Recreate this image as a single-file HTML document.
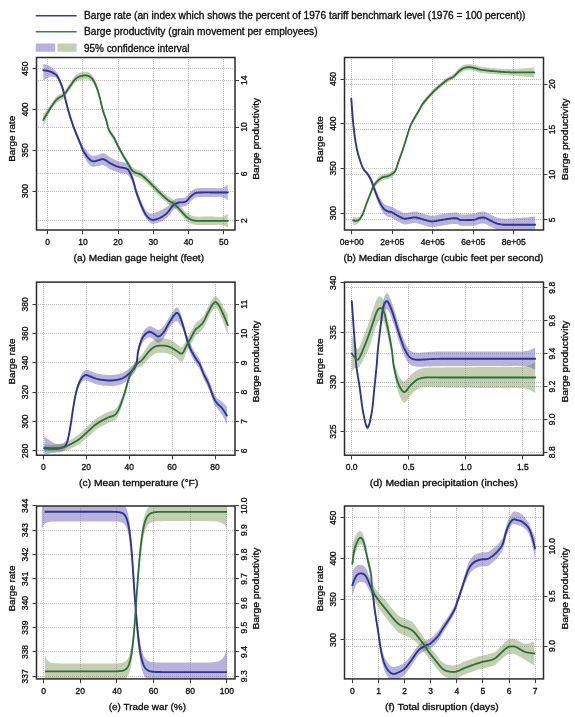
<!DOCTYPE html>
<html><head><meta charset="utf-8"><style>
html,body{margin:0;padding:0;background:#fff;}
svg{display:block;will-change:transform;}
text{font-family:"Liberation Sans", sans-serif;fill:#0a0a0a;stroke:#0a0a0a;stroke-width:0.3px;}
</style></head><body>
<svg width="575" height="717" viewBox="0 0 575 717"><rect width="575" height="717" fill="#fff"/><path d="M35.7,15.7 H76.6" stroke="#3c3f8e" stroke-width="1.5"/><path d="M35.7,31.8 H76.6" stroke="#3d7a55" stroke-width="1.5"/><rect x="35.7" y="43.5" width="19.5" height="8.3" fill="#b8b2dd"/><rect x="57.5" y="43.5" width="19.1" height="8.3" fill="#c3ceb3"/><text x="84" y="18.9" font-size="10.1" textLength="441.5" lengthAdjust="spacingAndGlyphs">Barge rate (an index which shows the percent of 1976 tariff benchmark level (1976 = 100 percent))</text><text x="84" y="35.1" font-size="10.1" textLength="233.6" lengthAdjust="spacingAndGlyphs">Barge productivity (grain movement per employees)</text><text x="84" y="51.5" font-size="10.1" textLength="105.5" lengthAdjust="spacingAndGlyphs">95% confidence interval</text><clipPath id="clipa"><rect x="36.5" y="57.5" width="198.5" height="172.5"/></clipPath><path d="M47.5,59.0 V228.0 M82.5,59.0 V228.0 M118.5,59.0 V228.0 M153.5,59.0 V228.0 M188.5,59.0 V228.0 M223.5,59.0 V228.0 M38.0,68.5 H233.0 M38.0,109.5 H233.0 M38.0,150.5 H233.0 M38.0,191.5 H233.0 M38.0,80.5 H233.0 M38.0,127.5 H233.0 M38.0,173.5 H233.0 M38.0,220.5 H233.0" stroke="#bebebe" stroke-width="1" stroke-dasharray="1 1" fill="none"/><g clip-path="url(#clipa)"><path d="M43.30,63.70 L43.49,63.76 L43.72,63.82 L44.00,63.89 L44.31,63.98 L44.64,64.08 L45.00,64.18 L45.37,64.30 L45.75,64.42 L46.13,64.55 L46.50,64.70 L46.88,64.86 L47.27,65.02 L47.69,65.20 L48.11,65.39 L48.54,65.59 L48.97,65.79 L49.39,66.01 L49.81,66.23 L50.21,66.46 L50.60,66.70 L50.97,66.94 L51.32,67.19 L51.67,67.44 L52.01,67.70 L52.34,67.98 L52.67,68.26 L52.99,68.55 L53.32,68.85 L53.66,69.17 L54.00,69.50 L54.34,69.82 L54.67,70.11 L55.00,70.39 L55.33,70.68 L55.66,70.99 L56.00,71.34 L56.35,71.75 L56.72,72.23 L57.10,72.81 L57.50,73.50 L57.94,74.31 L58.41,75.24 L58.90,76.26 L59.41,77.36 L59.93,78.52 L60.45,79.71 L60.95,80.93 L61.43,82.14 L61.89,83.34 L62.30,84.50 L62.67,85.63 L63.00,86.75 L63.30,87.87 L63.59,88.99 L63.86,90.12 L64.12,91.28 L64.39,92.45 L64.67,93.66 L64.97,94.91 L65.30,96.20 L65.65,97.54 L66.01,98.94 L66.38,100.37 L66.75,101.84 L67.14,103.33 L67.53,104.84 L67.94,106.34 L68.35,107.85 L68.77,109.34 L69.20,110.80 L69.63,112.24 L70.07,113.65 L70.51,115.06 L70.95,116.46 L71.41,117.86 L71.89,119.28 L72.38,120.71 L72.89,122.17 L73.43,123.66 L74.00,125.20 L74.63,126.84 L75.32,128.61 L76.07,130.47 L76.84,132.37 L77.62,134.26 L78.38,136.09 L79.12,137.83 L79.79,139.43 L80.39,140.83 L80.90,142.00 L81.30,142.92 L81.63,143.63 L81.89,144.16 L82.09,144.55 L82.26,144.84 L82.40,145.05 L82.53,145.23 L82.66,145.41 L82.82,145.62 L83.00,145.90 L83.20,146.21 L83.38,146.48 L83.56,146.72 L83.74,146.95 L83.91,147.18 L84.10,147.40 L84.29,147.64 L84.51,147.89 L84.74,148.18 L85.00,148.50 L85.29,148.87 L85.59,149.27 L85.91,149.71 L86.25,150.16 L86.61,150.62 L86.97,151.09 L87.34,151.55 L87.72,152.00 L88.11,152.42 L88.50,152.80 L88.90,153.17 L89.30,153.54 L89.72,153.92 L90.14,154.28 L90.57,154.62 L91.01,154.94 L91.46,155.22 L91.90,155.46 L92.35,155.66 L92.80,155.80 L93.25,155.88 L93.70,155.90 L94.16,155.87 L94.62,155.81 L95.09,155.71 L95.56,155.58 L96.03,155.44 L96.52,155.29 L97.00,155.14 L97.50,155.00 L98.01,154.84 L98.55,154.63 L99.10,154.40 L99.65,154.15 L100.21,153.89 L100.77,153.65 L101.31,153.44 L101.83,153.27 L102.33,153.15 L102.80,153.10 L103.23,153.12 L103.64,153.19 L104.01,153.31 L104.38,153.47 L104.72,153.66 L105.07,153.88 L105.41,154.10 L105.76,154.34 L106.12,154.57 L106.50,154.80 L106.88,155.02 L107.24,155.26 L107.58,155.50 L107.93,155.75 L108.29,156.01 L108.67,156.29 L109.09,156.57 L109.54,156.87 L110.04,157.18 L110.60,157.50 L111.24,157.85 L111.96,158.25 L112.74,158.67 L113.56,159.11 L114.41,159.55 L115.26,159.98 L116.11,160.40 L116.92,160.78 L117.69,161.12 L118.40,161.40 L119.05,161.62 L119.68,161.78 L120.28,161.90 L120.85,161.99 L121.41,162.06 L121.94,162.12 L122.47,162.18 L122.99,162.25 L123.49,162.36 L124.00,162.50 L124.50,162.64 L124.97,162.73 L125.43,162.81 L125.88,162.89 L126.33,162.99 L126.76,163.15 L127.19,163.37 L127.62,163.69 L128.06,164.13 L128.50,164.70 L128.95,165.43 L129.41,166.30 L129.87,167.29 L130.33,168.37 L130.79,169.52 L131.24,170.72 L131.68,171.94 L132.10,173.16 L132.51,174.35 L132.90,175.50 L133.26,176.61 L133.58,177.73 L133.88,178.85 L134.16,179.98 L134.43,181.11 L134.71,182.26 L134.99,183.42 L135.30,184.59 L135.63,185.79 L136.00,187.00 L136.40,188.25 L136.83,189.55 L137.28,190.87 L137.74,192.22 L138.22,193.58 L138.71,194.92 L139.20,196.25 L139.70,197.55 L140.20,198.80 L140.70,200.00 L141.20,201.17 L141.71,202.35 L142.22,203.51 L142.74,204.66 L143.27,205.76 L143.80,206.82 L144.32,207.82 L144.85,208.74 L145.38,209.57 L145.90,210.30 L146.42,210.93 L146.94,211.47 L147.46,211.92 L147.98,212.31 L148.50,212.62 L149.02,212.88 L149.54,213.09 L150.06,213.26 L150.58,213.39 L151.10,213.50 L151.62,213.56 L152.12,213.55 L152.63,213.49 L153.13,213.38 L153.63,213.22 L154.14,213.04 L154.66,212.84 L155.19,212.63 L155.74,212.41 L156.30,212.20 L156.89,211.98 L157.51,211.74 L158.14,211.48 L158.79,211.21 L159.45,210.92 L160.11,210.62 L160.76,210.32 L161.39,210.01 L162.01,209.70 L162.60,209.40 L163.16,209.11 L163.71,208.83 L164.24,208.55 L164.76,208.27 L165.27,207.98 L165.77,207.68 L166.27,207.36 L166.78,207.01 L167.28,206.62 L167.80,206.20 L168.32,205.72 L168.84,205.17 L169.36,204.57 L169.88,203.94 L170.40,203.29 L170.92,202.66 L171.44,202.04 L171.96,201.46 L172.48,200.94 L173.00,200.50 L173.51,200.13 L174.01,199.80 L174.50,199.52 L174.98,199.27 L175.47,199.06 L175.98,198.86 L176.49,198.69 L177.03,198.52 L177.60,198.36 L178.20,198.20 L178.85,198.07 L179.54,197.99 L180.27,197.95 L181.03,197.93 L181.79,197.91 L182.56,197.88 L183.32,197.80 L184.05,197.68 L184.75,197.48 L185.40,197.20 L186.01,196.81 L186.58,196.32 L187.13,195.75 L187.66,195.13 L188.18,194.47 L188.68,193.81 L189.18,193.16 L189.68,192.54 L190.18,191.98 L190.70,191.50 L191.21,191.08 L191.69,190.69 L192.16,190.33 L192.62,189.99 L193.09,189.68 L193.57,189.40 L194.09,189.14 L194.64,188.90 L195.24,188.69 L195.90,188.50 L196.63,188.34 L197.42,188.22 L198.25,188.12 L199.13,188.05 L200.03,188.01 L200.95,187.97 L201.88,187.95 L202.80,187.94 L203.71,187.92 L204.60,187.90 L205.47,187.88 L206.33,187.88 L207.19,187.88 L208.06,187.89 L208.92,187.91 L209.78,187.93 L210.65,187.96 L211.53,187.98 L212.41,187.99 L213.30,188.00 L214.22,188.02 L215.17,188.06 L216.15,188.12 L217.13,188.18 L218.11,188.22 L219.08,188.26 L220.01,188.26 L220.90,188.23 L221.74,188.14 L222.50,188.00 L223.21,187.78 L223.89,187.47 L224.54,187.10 L225.16,186.68 L225.72,186.25 L226.25,185.82 L226.72,185.40 L227.14,185.03 L227.50,184.72 L227.80,184.50 L227.80,200.50 L227.50,200.28 L227.14,199.97 L226.72,199.60 L226.25,199.18 L225.72,198.75 L225.16,198.32 L224.54,197.90 L223.89,197.53 L223.21,197.22 L222.50,197.00 L221.74,196.86 L220.90,196.78 L220.01,196.75 L219.08,196.75 L218.11,196.79 L217.13,196.84 L216.15,196.90 L215.17,196.95 L214.22,196.99 L213.30,197.00 L212.41,196.99 L211.53,196.98 L210.65,196.96 L209.78,196.93 L208.92,196.91 L208.06,196.89 L207.19,196.88 L206.33,196.88 L205.47,196.88 L204.60,196.90 L203.71,196.92 L202.80,196.92 L201.88,196.92 L200.95,196.93 L200.03,196.94 L199.13,196.98 L198.25,197.05 L197.42,197.15 L196.63,197.30 L195.90,197.50 L195.24,197.76 L194.64,198.07 L194.09,198.43 L193.57,198.82 L193.09,199.24 L192.62,199.69 L192.16,200.14 L191.69,200.60 L191.21,201.06 L190.70,201.50 L190.18,201.96 L189.68,202.45 L189.18,202.98 L188.68,203.51 L188.18,204.04 L187.66,204.55 L187.13,205.04 L186.58,205.49 L186.01,205.88 L185.40,206.20 L184.75,206.44 L184.05,206.60 L183.32,206.70 L182.56,206.76 L181.79,206.79 L181.03,206.81 L180.27,206.85 L179.54,206.91 L178.85,207.02 L178.20,207.20 L177.60,207.42 L177.03,207.67 L176.49,207.93 L175.98,208.22 L175.47,208.53 L174.98,208.86 L174.50,209.22 L174.01,209.62 L173.51,210.04 L173.00,210.50 L172.48,211.01 L171.96,211.59 L171.44,212.21 L170.92,212.87 L170.40,213.54 L169.88,214.22 L169.36,214.90 L168.84,215.54 L168.32,216.15 L167.80,216.70 L167.28,217.21 L166.78,217.70 L166.27,218.17 L165.77,218.62 L165.27,219.04 L164.76,219.45 L164.24,219.84 L163.71,220.21 L163.16,220.57 L162.60,220.90 L162.01,221.22 L161.39,221.51 L160.76,221.79 L160.11,222.05 L159.45,222.29 L158.79,222.52 L158.14,222.72 L157.51,222.90 L156.89,223.06 L156.30,223.20 L155.74,223.34 L155.19,223.48 L154.66,223.61 L154.14,223.73 L153.63,223.82 L153.13,223.87 L152.63,223.88 L152.12,223.82 L151.62,223.70 L151.10,223.50 L150.58,223.23 L150.06,222.89 L149.54,222.50 L149.02,222.06 L148.50,221.56 L147.98,221.01 L147.46,220.41 L146.94,219.75 L146.42,219.05 L145.90,218.30 L145.38,217.49 L144.85,216.61 L144.32,215.67 L143.80,214.68 L143.27,213.64 L142.74,212.56 L142.22,211.45 L141.71,210.31 L141.20,209.16 L140.70,208.00 L140.20,206.80 L139.70,205.53 L139.20,204.22 L138.71,202.87 L138.22,201.51 L137.74,200.15 L137.28,198.80 L136.83,197.48 L136.40,196.21 L136.00,195.00 L135.63,193.84 L135.30,192.71 L134.99,191.61 L134.71,190.54 L134.43,189.49 L134.16,188.46 L133.88,187.45 L133.58,186.45 L133.26,185.47 L132.90,184.50 L132.51,183.52 L132.10,182.53 L131.68,181.53 L131.24,180.54 L130.79,179.58 L130.33,178.66 L129.87,177.80 L129.41,177.01 L128.95,176.31 L128.50,175.70 L128.06,175.21 L127.62,174.82 L127.19,174.52 L126.76,174.29 L126.33,174.12 L125.88,173.98 L125.43,173.87 L124.97,173.76 L124.50,173.65 L124.00,173.50 L123.49,173.35 L122.99,173.24 L122.47,173.15 L121.94,173.07 L121.41,172.99 L120.85,172.92 L120.28,172.83 L119.68,172.72 L119.05,172.58 L118.40,172.40 L117.69,172.18 L116.92,171.93 L116.11,171.66 L115.26,171.36 L114.41,171.05 L113.56,170.73 L112.74,170.41 L111.96,170.10 L111.24,169.79 L110.60,169.50 L110.04,169.22 L109.54,168.93 L109.09,168.64 L108.67,168.36 L108.29,168.08 L107.93,167.80 L107.58,167.53 L107.24,167.27 L106.88,167.03 L106.50,166.80 L106.12,166.58 L105.76,166.35 L105.41,166.13 L105.07,165.92 L104.72,165.73 L104.38,165.54 L104.01,165.39 L103.64,165.26 L103.23,165.16 L102.80,165.10 L102.33,165.09 L101.83,165.12 L101.31,165.18 L100.77,165.28 L100.21,165.39 L99.65,165.52 L99.10,165.66 L98.55,165.78 L98.01,165.90 L97.50,166.00 L97.00,166.10 L96.52,166.23 L96.03,166.37 L95.56,166.51 L95.09,166.64 L94.62,166.76 L94.16,166.84 L93.70,166.88 L93.25,166.87 L92.80,166.80 L92.35,166.66 L91.90,166.48 L91.46,166.25 L91.01,165.98 L90.57,165.68 L90.14,165.35 L89.72,164.99 L89.30,164.61 L88.90,164.21 L88.50,163.80 L88.11,163.36 L87.72,162.86 L87.34,162.33 L86.97,161.76 L86.61,161.19 L86.25,160.61 L85.91,160.04 L85.59,159.49 L85.29,158.97 L85.00,158.50 L84.74,158.09 L84.51,157.72 L84.29,157.40 L84.10,157.10 L83.91,156.80 L83.74,156.50 L83.56,156.17 L83.38,155.80 L83.20,155.39 L83.00,154.90 L82.82,154.39 L82.66,153.90 L82.53,153.40 L82.40,152.87 L82.26,152.30 L82.09,151.66 L81.89,150.93 L81.63,150.09 L81.30,149.12 L80.90,148.00 L80.39,146.68 L79.79,145.17 L79.12,143.51 L78.38,141.73 L77.62,139.87 L76.84,137.97 L76.07,136.08 L75.32,134.23 L74.63,132.45 L74.00,130.80 L73.43,129.25 L72.89,127.74 L72.38,126.28 L71.89,124.85 L71.41,123.44 L70.95,122.04 L70.51,120.65 L70.07,119.25 L69.63,117.84 L69.20,116.40 L68.77,114.94 L68.35,113.45 L67.94,111.94 L67.53,110.44 L67.14,108.93 L66.75,107.44 L66.38,105.97 L66.01,104.54 L65.65,103.14 L65.30,101.80 L64.97,100.51 L64.67,99.26 L64.39,98.05 L64.12,96.87 L63.86,95.71 L63.59,94.58 L63.30,93.45 L63.00,92.34 L62.67,91.22 L62.30,90.10 L61.89,88.95 L61.43,87.75 L60.95,86.53 L60.45,85.31 L59.93,84.11 L59.41,82.96 L58.90,81.89 L58.41,80.90 L57.94,80.03 L57.50,79.30 L57.10,78.72 L56.72,78.26 L56.35,77.92 L56.00,77.67 L55.66,77.49 L55.33,77.37 L55.00,77.28 L54.67,77.20 L54.34,77.11 L54.00,77.00 L53.66,76.88 L53.32,76.78 L52.99,76.69 L52.67,76.63 L52.34,76.58 L52.01,76.56 L51.67,76.56 L51.32,76.58 L50.97,76.63 L50.60,76.70 L50.21,76.81 L49.81,76.95 L49.39,77.13 L48.97,77.33 L48.54,77.56 L48.11,77.79 L47.69,78.03 L47.27,78.26 L46.88,78.49 L46.50,78.70 L46.13,78.91 L45.75,79.13 L45.37,79.36 L45.00,79.60 L44.64,79.83 L44.31,80.04 L44.00,80.25 L43.72,80.43 L43.49,80.58 L43.30,80.70 Z" fill="#7165bb" fill-opacity="0.5"/><path d="M43.30,113.80 L43.49,113.60 L43.72,113.36 L44.00,113.08 L44.31,112.76 L44.64,112.41 L45.00,112.03 L45.37,111.62 L45.75,111.20 L46.13,110.75 L46.50,110.30 L46.87,109.82 L47.25,109.32 L47.64,108.79 L48.04,108.24 L48.44,107.66 L48.86,107.07 L49.28,106.47 L49.71,105.85 L50.15,105.23 L50.60,104.60 L51.06,103.94 L51.54,103.24 L52.04,102.51 L52.55,101.76 L53.06,101.01 L53.57,100.27 L54.08,99.55 L54.57,98.88 L55.05,98.25 L55.50,97.70 L55.93,97.21 L56.36,96.77 L56.77,96.36 L57.18,96.00 L57.58,95.66 L57.96,95.36 L58.33,95.07 L58.70,94.80 L59.05,94.55 L59.40,94.30 L59.73,94.08 L60.04,93.90 L60.34,93.75 L60.63,93.63 L60.91,93.52 L61.18,93.41 L61.45,93.29 L61.73,93.16 L62.01,93.00 L62.30,92.80 L62.59,92.58 L62.86,92.37 L63.14,92.16 L63.41,91.93 L63.68,91.68 L63.97,91.41 L64.26,91.10 L64.58,90.75 L64.93,90.35 L65.30,89.90 L65.70,89.38 L66.13,88.81 L66.57,88.19 L67.04,87.53 L67.52,86.84 L68.01,86.12 L68.52,85.37 L69.04,84.62 L69.57,83.86 L70.10,83.10 L70.64,82.31 L71.18,81.45 L71.73,80.55 L72.29,79.63 L72.86,78.71 L73.45,77.81 L74.06,76.95 L74.68,76.14 L75.33,75.42 L76.00,74.80 L76.71,74.27 L77.47,73.79 L78.25,73.38 L79.06,73.02 L79.89,72.71 L80.71,72.44 L81.53,72.22 L82.32,72.05 L83.08,71.91 L83.80,71.80 L84.49,71.73 L85.16,71.70 L85.81,71.71 L86.44,71.76 L87.06,71.85 L87.66,71.99 L88.25,72.17 L88.82,72.40 L89.37,72.67 L89.90,73.00 L90.41,73.37 L90.89,73.77 L91.35,74.21 L91.79,74.70 L92.21,75.24 L92.63,75.83 L93.04,76.47 L93.45,77.18 L93.87,77.96 L94.30,78.80 L94.73,79.71 L95.17,80.70 L95.60,81.74 L96.03,82.85 L96.46,84.02 L96.89,85.24 L97.32,86.51 L97.75,87.83 L98.17,89.19 L98.60,90.60 L99.03,92.10 L99.46,93.73 L99.89,95.46 L100.33,97.24 L100.76,99.06 L101.18,100.86 L101.60,102.62 L102.01,104.30 L102.41,105.88 L102.80,107.30 L103.18,108.58 L103.54,109.74 L103.90,110.82 L104.25,111.82 L104.59,112.77 L104.92,113.68 L105.25,114.59 L105.57,115.49 L105.89,116.42 L106.20,117.40 L106.49,118.41 L106.76,119.44 L107.01,120.48 L107.26,121.51 L107.50,122.54 L107.75,123.56 L108.02,124.56 L108.31,125.54 L108.63,126.49 L109.00,127.40 L109.41,128.26 L109.87,129.08 L110.36,129.87 L110.87,130.63 L111.40,131.37 L111.94,132.11 L112.47,132.85 L113.00,133.60 L113.51,134.39 L114.00,135.20 L114.46,136.04 L114.90,136.89 L115.33,137.75 L115.75,138.62 L116.16,139.51 L116.58,140.40 L117.01,141.31 L117.45,142.23 L117.91,143.16 L118.40,144.10 L118.91,145.07 L119.45,146.07 L120.00,147.09 L120.56,148.13 L121.14,149.17 L121.72,150.21 L122.30,151.24 L122.87,152.26 L123.44,153.25 L124.00,154.20 L124.56,155.15 L125.15,156.10 L125.74,157.06 L126.34,158.01 L126.92,158.94 L127.49,159.83 L128.04,160.67 L128.54,161.46 L129.00,162.17 L129.40,162.80 L129.74,163.34 L130.01,163.79 L130.24,164.17 L130.44,164.49 L130.60,164.76 L130.75,165.00 L130.89,165.22 L131.04,165.44 L131.21,165.66 L131.40,165.90 L131.61,166.15 L131.82,166.38 L132.02,166.60 L132.23,166.80 L132.44,167.00 L132.66,167.19 L132.88,167.37 L133.11,167.55 L133.35,167.73 L133.60,167.90 L133.86,168.07 L134.11,168.23 L134.38,168.39 L134.65,168.54 L134.92,168.68 L135.21,168.82 L135.51,168.97 L135.83,169.11 L136.15,169.25 L136.50,169.40 L136.86,169.54 L137.24,169.66 L137.63,169.76 L138.04,169.87 L138.46,169.98 L138.89,170.11 L139.33,170.25 L139.78,170.43 L140.23,170.64 L140.70,170.90 L141.17,171.20 L141.64,171.52 L142.12,171.86 L142.61,172.24 L143.11,172.64 L143.62,173.07 L144.15,173.53 L144.71,174.02 L145.29,174.54 L145.90,175.10 L146.54,175.70 L147.21,176.35 L147.90,177.03 L148.62,177.75 L149.36,178.49 L150.11,179.26 L150.87,180.04 L151.64,180.83 L152.42,181.62 L153.20,182.40 L153.99,183.20 L154.81,184.03 L155.65,184.88 L156.50,185.74 L157.35,186.61 L158.20,187.48 L159.05,188.33 L159.89,189.15 L160.71,189.95 L161.50,190.70 L162.28,191.43 L163.06,192.14 L163.83,192.84 L164.59,193.52 L165.34,194.18 L166.08,194.81 L166.80,195.41 L167.49,195.98 L168.16,196.51 L168.80,197.00 L169.40,197.43 L169.97,197.79 L170.51,198.10 L171.03,198.36 L171.53,198.61 L172.01,198.86 L172.50,199.11 L172.99,199.39 L173.49,199.72 L174.00,200.10 L174.52,200.54 L175.05,201.01 L175.57,201.51 L176.09,202.03 L176.62,202.57 L177.15,203.12 L177.68,203.69 L178.21,204.26 L178.75,204.83 L179.30,205.40 L179.87,205.99 L180.47,206.62 L181.09,207.28 L181.72,207.95 L182.34,208.62 L182.95,209.27 L183.53,209.89 L184.08,210.46 L184.57,210.97 L185.00,211.40 L185.34,211.74 L185.59,212.01 L185.77,212.21 L185.91,212.36 L186.03,212.48 L186.15,212.59 L186.30,212.70 L186.52,212.82 L186.81,212.99 L187.20,213.20 L187.68,213.47 L188.22,213.78 L188.81,214.12 L189.45,214.48 L190.13,214.84 L190.86,215.20 L191.62,215.53 L192.41,215.84 L193.24,216.10 L194.10,216.30 L195.01,216.44 L196.00,216.54 L197.04,216.61 L198.13,216.64 L199.24,216.64 L200.36,216.64 L201.47,216.62 L202.56,216.60 L203.61,216.59 L204.60,216.60 L205.54,216.61 L206.45,216.62 L207.33,216.62 L208.19,216.62 L209.03,216.62 L209.87,216.61 L210.71,216.61 L211.56,216.60 L212.42,216.60 L213.30,216.60 L214.22,216.61 L215.17,216.64 L216.15,216.69 L217.13,216.73 L218.11,216.78 L219.08,216.80 L220.01,216.81 L220.90,216.78 L221.74,216.71 L222.50,216.60 L223.21,216.42 L223.89,216.17 L224.54,215.88 L225.16,215.55 L225.72,215.20 L226.25,214.85 L226.72,214.52 L227.14,214.23 L227.50,213.98 L227.80,213.80 L227.80,227.80 L227.50,227.62 L227.14,227.37 L226.72,227.08 L226.25,226.75 L225.72,226.40 L225.16,226.05 L224.54,225.72 L223.89,225.43 L223.21,225.18 L222.50,225.00 L221.74,224.89 L220.90,224.82 L220.01,224.79 L219.08,224.80 L218.11,224.83 L217.13,224.87 L216.15,224.91 L215.17,224.96 L214.22,224.99 L213.30,225.00 L212.42,225.00 L211.56,225.00 L210.71,225.01 L209.87,225.01 L209.03,225.02 L208.19,225.02 L207.33,225.02 L206.45,225.02 L205.54,225.01 L204.60,225.00 L203.61,224.99 L202.56,225.00 L201.47,225.02 L200.36,225.04 L199.24,225.04 L198.13,225.04 L197.04,225.01 L196.00,224.94 L195.01,224.84 L194.10,224.70 L193.24,224.50 L192.41,224.25 L191.62,223.95 L190.86,223.63 L190.13,223.28 L189.45,222.92 L188.81,222.57 L188.22,222.22 L187.68,221.89 L187.20,221.60 L186.81,221.35 L186.52,221.14 L186.30,220.95 L186.15,220.78 L186.03,220.61 L185.91,220.41 L185.77,220.19 L185.59,219.92 L185.34,219.60 L185.00,219.20 L184.57,218.72 L184.08,218.16 L183.53,217.54 L182.95,216.88 L182.34,216.18 L181.72,215.47 L181.09,214.77 L180.47,214.07 L179.87,213.41 L179.30,212.80 L178.75,212.22 L178.21,211.63 L177.68,211.06 L177.15,210.50 L176.62,209.94 L176.09,209.41 L175.57,208.89 L175.05,208.40 L174.52,207.94 L174.00,207.50 L173.49,207.12 L172.99,206.79 L172.50,206.51 L172.01,206.26 L171.53,206.01 L171.03,205.76 L170.51,205.50 L169.97,205.19 L169.40,204.83 L168.80,204.40 L168.16,203.91 L167.49,203.38 L166.80,202.81 L166.08,202.21 L165.34,201.58 L164.59,200.92 L163.83,200.24 L163.06,199.54 L162.28,198.83 L161.50,198.10 L160.71,197.35 L159.89,196.55 L159.05,195.73 L158.20,194.88 L157.35,194.01 L156.50,193.14 L155.65,192.28 L154.81,191.43 L153.99,190.60 L153.20,189.80 L152.42,189.02 L151.64,188.23 L150.87,187.44 L150.11,186.66 L149.36,185.89 L148.62,185.15 L147.90,184.43 L147.21,183.75 L146.54,183.10 L145.90,182.50 L145.29,181.94 L144.71,181.42 L144.15,180.93 L143.62,180.47 L143.11,180.04 L142.61,179.64 L142.12,179.26 L141.64,178.92 L141.17,178.60 L140.70,178.30 L140.23,178.04 L139.78,177.83 L139.33,177.65 L138.89,177.51 L138.46,177.38 L138.04,177.27 L137.63,177.16 L137.24,177.06 L136.86,176.94 L136.50,176.80 L136.15,176.65 L135.83,176.52 L135.51,176.38 L135.21,176.25 L134.92,176.12 L134.65,175.98 L134.38,175.83 L134.11,175.67 L133.86,175.49 L133.60,175.30 L133.35,175.09 L133.11,174.87 L132.88,174.64 L132.66,174.40 L132.44,174.15 L132.23,173.89 L132.02,173.61 L131.82,173.32 L131.61,173.02 L131.40,172.70 L131.21,172.39 L131.04,172.09 L130.89,171.79 L130.75,171.49 L130.60,171.16 L130.44,170.80 L130.24,170.40 L130.01,169.94 L129.74,169.41 L129.40,168.80 L129.00,168.10 L128.54,167.31 L128.04,166.46 L127.49,165.54 L126.92,164.59 L126.34,163.60 L125.74,162.59 L125.15,161.58 L124.56,160.58 L124.00,159.60 L123.44,158.62 L122.87,157.62 L122.30,156.60 L121.72,155.57 L121.14,154.53 L120.56,153.50 L120.00,152.47 L119.45,151.46 L118.91,150.47 L118.40,149.50 L117.91,148.56 L117.45,147.63 L117.01,146.71 L116.58,145.80 L116.16,144.91 L115.75,144.02 L115.33,143.15 L114.90,142.29 L114.46,141.44 L114.00,140.60 L113.51,139.79 L113.00,139.00 L112.47,138.25 L111.94,137.51 L111.40,136.77 L110.87,136.03 L110.36,135.27 L109.87,134.48 L109.41,133.66 L109.00,132.80 L108.63,131.89 L108.31,130.94 L108.02,129.96 L107.75,128.96 L107.50,127.94 L107.26,126.91 L107.01,125.88 L106.76,124.84 L106.49,123.81 L106.20,122.80 L105.89,121.82 L105.57,120.89 L105.25,119.99 L104.92,119.08 L104.59,118.17 L104.25,117.22 L103.90,116.22 L103.54,115.14 L103.18,113.98 L102.80,112.70 L102.41,111.27 L102.01,109.69 L101.60,107.99 L101.18,106.21 L100.76,104.39 L100.33,102.57 L99.89,100.78 L99.46,99.07 L99.03,97.46 L98.60,96.00 L98.17,94.65 L97.75,93.37 L97.32,92.14 L96.89,90.97 L96.46,89.86 L96.03,88.80 L95.60,87.81 L95.17,86.88 L94.73,86.01 L94.30,85.20 L93.87,84.46 L93.45,83.80 L93.04,83.21 L92.63,82.68 L92.21,82.20 L91.79,81.77 L91.35,81.39 L90.89,81.03 L90.41,80.71 L89.90,80.40 L89.37,80.12 L88.82,79.86 L88.25,79.64 L87.66,79.46 L87.06,79.31 L86.44,79.20 L85.81,79.14 L85.16,79.11 L84.49,79.13 L83.80,79.20 L83.08,79.31 L82.32,79.46 L81.53,79.66 L80.71,79.89 L79.89,80.17 L79.06,80.49 L78.25,80.85 L77.47,81.26 L76.71,81.71 L76.00,82.20 L75.33,82.76 L74.68,83.39 L74.06,84.09 L73.45,84.83 L72.86,85.61 L72.29,86.41 L71.73,87.21 L71.18,88.00 L70.64,88.77 L70.10,89.50 L69.57,90.22 L69.04,90.95 L68.52,91.70 L68.01,92.44 L67.52,93.17 L67.04,93.88 L66.57,94.56 L66.13,95.20 L65.70,95.78 L65.30,96.30 L64.93,96.75 L64.58,97.15 L64.26,97.50 L63.97,97.81 L63.68,98.08 L63.41,98.33 L63.14,98.56 L62.86,98.77 L62.59,98.98 L62.30,99.20 L62.01,99.40 L61.73,99.56 L61.45,99.69 L61.18,99.81 L60.91,99.92 L60.63,100.03 L60.34,100.15 L60.04,100.30 L59.73,100.48 L59.40,100.70 L59.05,100.95 L58.70,101.20 L58.33,101.47 L57.96,101.76 L57.58,102.06 L57.18,102.40 L56.77,102.76 L56.36,103.17 L55.93,103.61 L55.50,104.10 L55.05,104.64 L54.57,105.24 L54.08,105.89 L53.57,106.57 L53.06,107.28 L52.55,108.01 L52.04,108.76 L51.54,109.51 L51.06,110.26 L50.60,111.00 L50.15,111.73 L49.71,112.47 L49.28,113.21 L48.86,113.96 L48.44,114.72 L48.04,115.49 L47.64,116.27 L47.25,117.06 L46.87,117.87 L46.50,118.70 L46.13,119.59 L45.75,120.56 L45.37,121.59 L45.00,122.64 L44.64,123.68 L44.31,124.69 L44.00,125.62 L43.72,126.46 L43.49,127.16 L43.30,127.70 Z" fill="#698441" fill-opacity="0.4"/><path d="M43.30,70.20 L43.49,70.23 L43.72,70.26 L44.00,70.30 L44.31,70.34 L44.64,70.39 L45.00,70.44 L45.37,70.50 L45.75,70.56 L46.13,70.63 L46.50,70.70 L46.88,70.78 L47.27,70.86 L47.69,70.94 L48.11,71.03 L48.54,71.12 L48.97,71.22 L49.39,71.33 L49.81,71.44 L50.21,71.57 L50.60,71.70 L50.97,71.84 L51.32,71.99 L51.67,72.14 L52.01,72.30 L52.34,72.48 L52.67,72.66 L52.99,72.85 L53.32,73.05 L53.66,73.27 L54.00,73.50 L54.34,73.72 L54.67,73.90 L55.00,74.07 L55.33,74.24 L55.66,74.44 L56.00,74.68 L56.35,74.99 L56.72,75.38 L57.10,75.88 L57.50,76.50 L57.94,77.26 L58.41,78.15 L58.90,79.14 L59.41,80.22 L59.93,81.36 L60.45,82.54 L60.95,83.75 L61.43,84.96 L61.89,86.15 L62.30,87.30 L62.67,88.42 L63.00,89.54 L63.30,90.65 L63.59,91.78 L63.86,92.91 L64.12,94.07 L64.39,95.25 L64.67,96.46 L64.97,97.71 L65.30,99.00 L65.65,100.34 L66.01,101.74 L66.38,103.17 L66.75,104.64 L67.14,106.13 L67.53,107.64 L67.94,109.14 L68.35,110.65 L68.77,112.14 L69.20,113.60 L69.63,115.04 L70.07,116.45 L70.51,117.85 L70.95,119.25 L71.41,120.65 L71.89,122.06 L72.38,123.50 L72.89,124.96 L73.43,126.46 L74.00,128.00 L74.63,129.65 L75.32,131.42 L76.07,133.27 L76.84,135.17 L77.62,137.06 L78.38,138.91 L79.12,140.67 L79.79,142.30 L80.39,143.76 L80.90,145.00 L81.30,146.02 L81.63,146.86 L81.89,147.55 L82.09,148.11 L82.26,148.57 L82.40,148.96 L82.53,149.31 L82.66,149.65 L82.82,150.01 L83.00,150.40 L83.20,150.80 L83.38,151.14 L83.56,151.45 L83.74,151.72 L83.91,151.99 L84.10,152.25 L84.29,152.52 L84.51,152.81 L84.74,153.13 L85.00,153.50 L85.29,153.92 L85.59,154.38 L85.91,154.87 L86.25,155.38 L86.61,155.91 L86.97,156.43 L87.34,156.94 L87.72,157.43 L88.11,157.89 L88.50,158.30 L88.90,158.69 L89.30,159.08 L89.72,159.45 L90.14,159.81 L90.57,160.15 L91.01,160.46 L91.46,160.74 L91.90,160.97 L92.35,161.16 L92.80,161.30 L93.25,161.38 L93.70,161.39 L94.16,161.36 L94.62,161.28 L95.09,161.18 L95.56,161.05 L96.03,160.90 L96.52,160.76 L97.00,160.62 L97.50,160.50 L98.01,160.37 L98.55,160.21 L99.10,160.03 L99.65,159.83 L100.21,159.64 L100.77,159.47 L101.31,159.31 L101.83,159.19 L102.33,159.12 L102.80,159.10 L103.23,159.14 L103.64,159.23 L104.01,159.35 L104.38,159.51 L104.72,159.69 L105.07,159.90 L105.41,160.12 L105.76,160.35 L106.12,160.58 L106.50,160.80 L106.88,161.03 L107.24,161.26 L107.58,161.51 L107.93,161.77 L108.29,162.04 L108.67,162.32 L109.09,162.61 L109.54,162.90 L110.04,163.20 L110.60,163.50 L111.24,163.82 L111.96,164.17 L112.74,164.54 L113.56,164.92 L114.41,165.30 L115.26,165.67 L116.11,166.03 L116.92,166.36 L117.69,166.65 L118.40,166.90 L119.05,167.10 L119.68,167.25 L120.28,167.36 L120.85,167.45 L121.41,167.53 L121.94,167.59 L122.47,167.66 L122.99,167.75 L123.49,167.86 L124.00,168.00 L124.50,168.14 L124.97,168.25 L125.43,168.34 L125.88,168.44 L126.33,168.56 L126.76,168.72 L127.19,168.95 L127.62,169.26 L128.06,169.67 L128.50,170.20 L128.95,170.87 L129.41,171.65 L129.87,172.54 L130.33,173.52 L130.79,174.55 L131.24,175.63 L131.68,176.73 L132.10,177.84 L132.51,178.94 L132.90,180.00 L133.26,181.04 L133.58,182.09 L133.88,183.15 L134.16,184.22 L134.43,185.30 L134.71,186.40 L134.99,187.52 L135.30,188.65 L135.63,189.81 L136.00,191.00 L136.40,192.23 L136.83,193.51 L137.28,194.82 L137.74,196.16 L138.22,197.51 L138.71,198.86 L139.20,200.20 L139.70,201.51 L140.20,202.78 L140.70,204.00 L141.20,205.20 L141.71,206.40 L142.22,207.59 L142.74,208.77 L143.27,209.92 L143.80,211.02 L144.32,212.08 L144.85,213.07 L145.38,213.98 L145.90,214.80 L146.42,215.54 L146.94,216.21 L147.46,216.82 L147.98,217.36 L148.50,217.84 L149.02,218.27 L149.54,218.65 L150.06,218.98 L150.58,219.26 L151.10,219.50 L151.62,219.68 L152.12,219.80 L152.63,219.86 L153.13,219.86 L153.63,219.82 L154.14,219.74 L154.66,219.63 L155.19,219.50 L155.74,219.35 L156.30,219.20 L156.89,219.03 L157.51,218.82 L158.14,218.59 L158.79,218.33 L159.45,218.04 L160.11,217.74 L160.76,217.42 L161.39,217.09 L162.01,216.75 L162.60,216.40 L163.16,216.05 L163.71,215.69 L164.24,215.32 L164.76,214.94 L165.27,214.54 L165.77,214.13 L166.27,213.69 L166.78,213.22 L167.28,212.73 L167.80,212.20 L168.32,211.61 L168.84,210.96 L169.36,210.25 L169.88,209.51 L170.40,208.76 L170.92,208.02 L171.44,207.30 L171.96,206.63 L172.48,206.02 L173.00,205.50 L173.51,205.05 L174.01,204.66 L174.50,204.32 L174.98,204.01 L175.47,203.74 L175.98,203.50 L176.49,203.28 L177.03,203.08 L177.60,202.89 L178.20,202.70 L178.85,202.55 L179.54,202.45 L180.27,202.40 L181.03,202.37 L181.79,202.35 L182.56,202.32 L183.32,202.25 L184.05,202.14 L184.75,201.96 L185.40,201.70 L186.01,201.34 L186.58,200.90 L187.13,200.40 L187.66,199.84 L188.18,199.26 L188.68,198.66 L189.18,198.07 L189.68,197.50 L190.18,196.97 L190.70,196.50 L191.21,196.07 L191.69,195.64 L192.16,195.23 L192.62,194.84 L193.09,194.46 L193.57,194.11 L194.09,193.78 L194.64,193.49 L195.24,193.22 L195.90,193.00 L196.63,192.82 L197.42,192.68 L198.25,192.58 L199.13,192.52 L200.03,192.48 L200.95,192.45 L201.88,192.44 L202.80,192.43 L203.71,192.42 L204.60,192.40 L205.47,192.38 L206.33,192.38 L207.19,192.38 L208.06,192.39 L208.92,192.41 L209.78,192.43 L210.65,192.46 L211.53,192.48 L212.41,192.49 L213.30,192.50 L214.22,192.50 L215.17,192.51 L216.15,192.51 L217.13,192.51 L218.11,192.51 L219.08,192.50 L220.01,192.50 L220.90,192.50 L221.74,192.50 L222.50,192.50 L223.21,192.50 L223.89,192.50 L224.54,192.50 L225.16,192.50 L225.72,192.50 L226.25,192.50 L226.72,192.50 L227.14,192.50 L227.50,192.50 L227.80,192.50" stroke="#2f358c" stroke-width="1.9" fill="none" stroke-linejoin="round" stroke-linecap="round"/><path d="M43.30,120.00 L43.49,119.68 L43.72,119.27 L44.00,118.79 L44.31,118.25 L44.64,117.67 L45.00,117.05 L45.37,116.41 L45.75,115.76 L46.13,115.12 L46.50,114.50 L46.87,113.88 L47.25,113.24 L47.64,112.58 L48.04,111.92 L48.44,111.24 L48.86,110.55 L49.28,109.86 L49.71,109.17 L50.15,108.48 L50.60,107.80 L51.06,107.10 L51.54,106.38 L52.04,105.63 L52.55,104.89 L53.06,104.14 L53.57,103.42 L54.08,102.72 L54.57,102.06 L55.05,101.45 L55.50,100.90 L55.93,100.41 L56.36,99.97 L56.77,99.56 L57.18,99.20 L57.58,98.86 L57.96,98.56 L58.33,98.27 L58.70,98.00 L59.05,97.75 L59.40,97.50 L59.73,97.28 L60.04,97.10 L60.34,96.95 L60.63,96.83 L60.91,96.72 L61.18,96.61 L61.45,96.49 L61.73,96.36 L62.01,96.20 L62.30,96.00 L62.59,95.78 L62.86,95.57 L63.14,95.36 L63.41,95.13 L63.68,94.88 L63.97,94.61 L64.26,94.30 L64.58,93.95 L64.93,93.55 L65.30,93.10 L65.70,92.58 L66.13,92.01 L66.57,91.38 L67.04,90.71 L67.52,90.01 L68.01,89.28 L68.52,88.54 L69.04,87.79 L69.57,87.04 L70.10,86.30 L70.64,85.54 L71.18,84.73 L71.73,83.88 L72.29,83.02 L72.86,82.16 L73.45,81.32 L74.06,80.52 L74.68,79.77 L75.33,79.09 L76.00,78.50 L76.71,77.99 L77.47,77.53 L78.25,77.11 L79.06,76.75 L79.89,76.44 L80.71,76.17 L81.53,75.94 L82.32,75.75 L83.08,75.61 L83.80,75.50 L84.49,75.43 L85.16,75.41 L85.81,75.42 L86.44,75.48 L87.06,75.58 L87.66,75.72 L88.25,75.91 L88.82,76.13 L89.37,76.40 L89.90,76.70 L90.41,77.04 L90.89,77.40 L91.35,77.80 L91.79,78.24 L92.21,78.72 L92.63,79.25 L93.04,79.84 L93.45,80.49 L93.87,81.21 L94.30,82.00 L94.73,82.86 L95.17,83.79 L95.60,84.78 L96.03,85.83 L96.46,86.94 L96.89,88.10 L97.32,89.32 L97.75,90.60 L98.17,91.92 L98.60,93.30 L99.03,94.78 L99.46,96.40 L99.89,98.12 L100.33,99.91 L100.76,101.72 L101.18,103.54 L101.60,105.30 L102.01,107.00 L102.41,108.57 L102.80,110.00 L103.18,111.28 L103.54,112.44 L103.90,113.52 L104.25,114.52 L104.59,115.47 L104.92,116.38 L105.25,117.29 L105.57,118.19 L105.89,119.12 L106.20,120.10 L106.49,121.11 L106.76,122.14 L107.01,123.18 L107.26,124.21 L107.50,125.24 L107.75,126.26 L108.02,127.26 L108.31,128.24 L108.63,129.19 L109.00,130.10 L109.41,130.96 L109.87,131.78 L110.36,132.57 L110.87,133.33 L111.40,134.07 L111.94,134.81 L112.47,135.55 L113.00,136.30 L113.51,137.09 L114.00,137.90 L114.46,138.74 L114.90,139.59 L115.33,140.45 L115.75,141.32 L116.16,142.21 L116.58,143.10 L117.01,144.01 L117.45,144.93 L117.91,145.86 L118.40,146.80 L118.91,147.77 L119.45,148.76 L120.00,149.78 L120.56,150.81 L121.14,151.85 L121.72,152.89 L122.30,153.92 L122.87,154.94 L123.44,155.93 L124.00,156.90 L124.56,157.86 L125.15,158.84 L125.74,159.83 L126.34,160.81 L126.92,161.76 L127.49,162.69 L128.04,163.56 L128.54,164.38 L129.00,165.13 L129.40,165.80 L129.74,166.37 L130.01,166.86 L130.24,167.28 L130.44,167.65 L130.60,167.96 L130.75,168.25 L130.89,168.51 L131.04,168.76 L131.21,169.02 L131.40,169.30 L131.61,169.58 L131.82,169.85 L132.02,170.10 L132.23,170.34 L132.44,170.58 L132.66,170.80 L132.88,171.01 L133.11,171.21 L133.35,171.41 L133.60,171.60 L133.86,171.78 L134.11,171.95 L134.38,172.11 L134.65,172.26 L134.92,172.40 L135.21,172.54 L135.51,172.68 L135.83,172.81 L136.15,172.95 L136.50,173.10 L136.86,173.24 L137.24,173.36 L137.63,173.46 L138.04,173.57 L138.46,173.68 L138.89,173.81 L139.33,173.95 L139.78,174.13 L140.23,174.34 L140.70,174.60 L141.17,174.90 L141.64,175.22 L142.12,175.56 L142.61,175.94 L143.11,176.34 L143.62,176.77 L144.15,177.23 L144.71,177.72 L145.29,178.24 L145.90,178.80 L146.54,179.40 L147.21,180.05 L147.90,180.73 L148.62,181.45 L149.36,182.19 L150.11,182.96 L150.87,183.74 L151.64,184.53 L152.42,185.32 L153.20,186.10 L153.99,186.90 L154.81,187.73 L155.65,188.58 L156.50,189.44 L157.35,190.31 L158.20,191.18 L159.05,192.03 L159.89,192.85 L160.71,193.65 L161.50,194.40 L162.28,195.13 L163.06,195.84 L163.83,196.54 L164.59,197.22 L165.34,197.88 L166.08,198.51 L166.80,199.11 L167.49,199.68 L168.16,200.21 L168.80,200.70 L169.40,201.13 L169.97,201.49 L170.51,201.80 L171.03,202.06 L171.53,202.31 L172.01,202.56 L172.50,202.81 L172.99,203.09 L173.49,203.42 L174.00,203.80 L174.52,204.24 L175.05,204.70 L175.57,205.20 L176.09,205.72 L176.62,206.26 L177.15,206.81 L177.68,207.37 L178.21,207.95 L178.75,208.52 L179.30,209.10 L179.87,209.70 L180.47,210.35 L181.09,211.02 L181.72,211.71 L182.34,212.40 L182.95,213.07 L183.53,213.71 L184.08,214.31 L184.57,214.84 L185.00,215.30 L185.34,215.67 L185.59,215.97 L185.77,216.20 L185.91,216.39 L186.03,216.54 L186.15,216.68 L186.30,216.83 L186.52,216.98 L186.81,217.17 L187.20,217.40 L187.68,217.68 L188.22,218.00 L188.81,218.34 L189.45,218.70 L190.13,219.06 L190.86,219.41 L191.62,219.74 L192.41,220.04 L193.24,220.30 L194.10,220.50 L195.01,220.64 L196.00,220.74 L197.04,220.81 L198.13,220.84 L199.24,220.84 L200.36,220.84 L201.47,220.82 L202.56,220.80 L203.61,220.79 L204.60,220.80 L205.54,220.81 L206.45,220.82 L207.33,220.82 L208.19,220.82 L209.03,220.82 L209.87,220.81 L210.71,220.81 L211.56,220.80 L212.42,220.80 L213.30,220.80 L214.22,220.80 L215.17,220.80 L216.15,220.80 L217.13,220.80 L218.11,220.80 L219.08,220.80 L220.01,220.80 L220.90,220.80 L221.74,220.80 L222.50,220.80 L223.21,220.80 L223.89,220.80 L224.54,220.80 L225.16,220.80 L225.72,220.80 L226.25,220.80 L226.72,220.80 L227.14,220.80 L227.50,220.80 L227.80,220.80" stroke="#2b7036" stroke-width="1.8" fill="none" stroke-linejoin="round" stroke-linecap="round"/></g><rect x="36.5" y="57.5" width="198.5" height="172.5" fill="none" stroke="#2a2a2a" stroke-width="1.5"/><path d="M47.5,230.0 V234.2 M82.5,230.0 V234.2 M118.5,230.0 V234.2 M153.5,230.0 V234.2 M188.5,230.0 V234.2 M223.5,230.0 V234.2 M36.5,68.5 H32.5 M36.5,109.5 H32.5 M36.5,150.5 H32.5 M36.5,191.5 H32.5 M235.0,80.5 H239.0 M235.0,127.5 H239.0 M235.0,173.5 H239.0 M235.0,220.5 H239.0" stroke="#3a3a3a" stroke-width="1" fill="none"/><text x="47.7" y="244.7" font-size="8.5" text-anchor="middle">0</text><text x="82.9" y="244.7" font-size="8.5" text-anchor="middle">10</text><text x="118.1" y="244.7" font-size="8.5" text-anchor="middle">20</text><text x="153.3" y="244.7" font-size="8.5" text-anchor="middle">30</text><text x="188.5" y="244.7" font-size="8.5" text-anchor="middle">40</text><text x="223.7" y="244.7" font-size="8.5" text-anchor="middle">50</text><text transform="translate(27.7,68.7) rotate(-90)" font-size="8.5" text-anchor="middle">450</text><text transform="translate(27.7,109.5) rotate(-90)" font-size="8.5" text-anchor="middle">400</text><text transform="translate(27.7,150.3) rotate(-90)" font-size="8.5" text-anchor="middle">350</text><text transform="translate(27.7,191.1) rotate(-90)" font-size="8.5" text-anchor="middle">300</text><text transform="translate(246.8,80.3) rotate(-90)" font-size="8.5" text-anchor="middle">14</text><text transform="translate(246.8,127.1) rotate(-90)" font-size="8.5" text-anchor="middle">10</text><text transform="translate(246.8,173.9) rotate(-90)" font-size="8.5" text-anchor="middle">6</text><text transform="translate(246.8,220.7) rotate(-90)" font-size="8.5" text-anchor="middle">2</text><text x="138.8" y="260.6" font-size="9.3" text-anchor="middle" textLength="130.5" lengthAdjust="spacingAndGlyphs">(a) Median gage height (feet)</text><text transform="translate(15.1,138.8) rotate(-90)" font-size="9.3" text-anchor="middle" textLength="46" lengthAdjust="spacingAndGlyphs">Barge rate</text><text transform="translate(259.3,138.8) rotate(-90)" font-size="9.3" text-anchor="middle" textLength="82" lengthAdjust="spacingAndGlyphs">Barge productivity</text><clipPath id="clipb"><rect x="344.5" y="57.5" width="199.0" height="172.5"/></clipPath><path d="M351.5,59.0 V228.0 M392.5,59.0 V228.0 M432.5,59.0 V228.0 M473.5,59.0 V228.0 M513.5,59.0 V228.0 M346.0,79.5 H541.5 M346.0,123.5 H541.5 M346.0,168.5 H541.5 M346.0,213.5 H541.5 M346.0,84.5 H541.5 M346.0,129.5 H541.5 M346.0,174.5 H541.5 M346.0,219.5 H541.5" stroke="#bebebe" stroke-width="1" stroke-dasharray="1 1" fill="none"/><g clip-path="url(#clipb)"><path d="M351.30,97.80 L351.38,98.94 L351.49,100.44 L351.62,102.21 L351.76,104.20 L351.91,106.33 L352.07,108.53 L352.24,110.73 L352.40,112.85 L352.55,114.83 L352.70,116.60 L352.84,118.21 L352.98,119.78 L353.13,121.30 L353.27,122.77 L353.41,124.19 L353.55,125.56 L353.69,126.88 L353.83,128.14 L353.97,129.35 L354.10,130.50 L354.23,131.56 L354.34,132.52 L354.46,133.40 L354.57,134.22 L354.68,134.99 L354.79,135.75 L354.90,136.51 L355.02,137.29 L355.16,138.11 L355.30,139.00 L355.45,139.94 L355.60,140.90 L355.76,141.89 L355.92,142.89 L356.09,143.90 L356.27,144.92 L356.46,145.95 L356.66,146.97 L356.87,147.99 L357.10,149.00 L357.34,150.01 L357.60,151.04 L357.87,152.08 L358.16,153.12 L358.45,154.16 L358.75,155.18 L359.06,156.20 L359.37,157.19 L359.68,158.16 L360.00,159.10 L360.31,160.02 L360.63,160.92 L360.95,161.82 L361.27,162.70 L361.59,163.56 L361.93,164.39 L362.28,165.19 L362.64,165.97 L363.01,166.70 L363.40,167.40 L363.82,168.05 L364.26,168.64 L364.73,169.18 L365.21,169.70 L365.70,170.19 L366.19,170.66 L366.67,171.13 L367.14,171.60 L367.58,172.09 L368.00,172.60 L368.39,173.12 L368.76,173.62 L369.12,174.11 L369.47,174.61 L369.81,175.11 L370.13,175.62 L370.45,176.15 L370.77,176.70 L371.09,177.28 L371.40,177.90 L371.71,178.55 L371.99,179.22 L372.27,179.92 L372.54,180.64 L372.81,181.38 L373.08,182.14 L373.36,182.92 L373.66,183.72 L373.97,184.55 L374.30,185.40 L374.65,186.29 L375.02,187.23 L375.40,188.21 L375.79,189.22 L376.19,190.24 L376.60,191.27 L377.02,192.28 L377.44,193.26 L377.87,194.21 L378.30,195.10 L378.74,195.97 L379.18,196.83 L379.64,197.68 L380.10,198.52 L380.57,199.32 L381.04,200.10 L381.51,200.83 L381.98,201.51 L382.44,202.14 L382.90,202.70 L383.35,203.19 L383.80,203.61 L384.25,203.97 L384.70,204.28 L385.15,204.55 L385.60,204.79 L386.05,205.00 L386.50,205.20 L386.95,205.40 L387.40,205.60 L387.86,205.78 L388.31,205.93 L388.77,206.04 L389.23,206.14 L389.69,206.22 L390.16,206.30 L390.62,206.39 L391.08,206.50 L391.54,206.63 L392.00,206.80 L392.45,207.00 L392.88,207.22 L393.29,207.45 L393.71,207.70 L394.13,207.96 L394.56,208.23 L395.01,208.51 L395.50,208.80 L396.03,209.10 L396.60,209.40 L397.24,209.73 L397.95,210.10 L398.71,210.50 L399.51,210.92 L400.32,211.33 L401.13,211.73 L401.92,212.10 L402.67,212.43 L403.37,212.70 L404.00,212.90 L404.54,213.03 L405.02,213.09 L405.43,213.11 L405.81,213.08 L406.18,213.03 L406.53,212.95 L406.91,212.85 L407.32,212.76 L407.77,212.67 L408.30,212.60 L408.89,212.52 L409.53,212.42 L410.20,212.29 L410.91,212.16 L411.63,212.03 L412.37,211.90 L413.11,211.80 L413.86,211.72 L414.59,211.69 L415.30,211.70 L415.99,211.76 L416.67,211.86 L417.35,212.00 L418.02,212.16 L418.69,212.35 L419.38,212.55 L420.08,212.76 L420.79,212.98 L421.53,213.19 L422.30,213.40 L423.10,213.62 L423.93,213.88 L424.79,214.15 L425.66,214.44 L426.54,214.72 L427.44,215.00 L428.34,215.24 L429.23,215.45 L430.12,215.60 L431.00,215.70 L431.86,215.73 L432.71,215.71 L433.56,215.64 L434.40,215.53 L435.25,215.40 L436.10,215.25 L436.97,215.08 L437.86,214.91 L438.77,214.75 L439.70,214.60 L440.68,214.45 L441.71,214.28 L442.78,214.09 L443.87,213.90 L444.96,213.70 L446.05,213.51 L447.11,213.33 L448.13,213.16 L449.10,213.02 L450.00,212.90 L450.84,212.80 L451.65,212.72 L452.43,212.64 L453.17,212.58 L453.88,212.54 L454.55,212.51 L455.19,212.50 L455.79,212.51 L456.36,212.54 L456.90,212.60 L457.37,212.70 L457.76,212.84 L458.09,213.02 L458.38,213.22 L458.65,213.43 L458.92,213.65 L459.21,213.85 L459.54,214.04 L459.93,214.19 L460.40,214.30 L460.95,214.37 L461.56,214.42 L462.22,214.44 L462.91,214.45 L463.63,214.44 L464.37,214.42 L465.12,214.40 L465.86,214.37 L466.59,214.33 L467.30,214.30 L468.00,214.27 L468.72,214.24 L469.45,214.20 L470.18,214.16 L470.91,214.11 L471.62,214.06 L472.33,213.99 L473.01,213.91 L473.67,213.81 L474.30,213.70 L474.89,213.56 L475.46,213.39 L475.99,213.20 L476.51,212.99 L477.01,212.77 L477.51,212.56 L478.00,212.36 L478.49,212.18 L478.99,212.02 L479.50,211.90 L480.02,211.80 L480.54,211.71 L481.06,211.63 L481.58,211.57 L482.09,211.53 L482.61,211.50 L483.13,211.50 L483.65,211.54 L484.18,211.60 L484.70,211.70 L485.22,211.84 L485.73,212.03 L486.23,212.26 L486.74,212.51 L487.24,212.79 L487.76,213.08 L488.29,213.39 L488.84,213.70 L489.40,214.00 L490.00,214.30 L490.62,214.60 L491.28,214.93 L491.95,215.28 L492.64,215.63 L493.34,215.99 L494.06,216.34 L494.77,216.67 L495.49,216.98 L496.20,217.26 L496.90,217.50 L497.57,217.71 L498.21,217.90 L498.83,218.06 L499.45,218.21 L500.07,218.33 L500.73,218.44 L501.42,218.53 L502.17,218.60 L502.99,218.66 L503.90,218.70 L504.87,218.72 L505.88,218.72 L506.93,218.71 L508.03,218.67 L509.19,218.62 L510.40,218.55 L511.69,218.48 L513.04,218.39 L514.48,218.30 L516.00,218.20 L517.72,218.08 L519.69,217.94 L521.84,217.78 L524.09,217.60 L526.36,217.42 L528.56,217.24 L530.63,217.07 L532.48,216.92 L534.03,216.79 L535.20,216.70 L535.20,232.70 L534.03,232.61 L532.48,232.48 L530.63,232.33 L528.56,232.16 L526.36,231.98 L524.09,231.80 L521.84,231.62 L519.69,231.46 L517.72,231.32 L516.00,231.20 L514.48,231.11 L513.04,231.05 L511.69,231.00 L510.40,230.96 L509.19,230.93 L508.03,230.90 L506.93,230.87 L505.88,230.83 L504.87,230.77 L503.90,230.70 L502.99,230.62 L502.17,230.54 L501.42,230.45 L500.73,230.37 L500.07,230.27 L499.45,230.16 L498.83,230.03 L498.21,229.88 L497.57,229.70 L496.90,229.50 L496.20,229.26 L495.49,228.98 L494.77,228.67 L494.06,228.34 L493.34,227.99 L492.64,227.63 L491.95,227.28 L491.28,226.93 L490.62,226.60 L490.00,226.30 L489.40,226.00 L488.84,225.70 L488.29,225.39 L487.76,225.08 L487.24,224.79 L486.74,224.51 L486.23,224.26 L485.73,224.03 L485.22,223.84 L484.70,223.70 L484.18,223.60 L483.65,223.54 L483.13,223.50 L482.61,223.50 L482.09,223.53 L481.58,223.57 L481.06,223.63 L480.54,223.71 L480.02,223.80 L479.50,223.90 L478.99,224.02 L478.49,224.19 L478.00,224.38 L477.51,224.59 L477.01,224.81 L476.51,225.03 L475.99,225.24 L475.46,225.43 L474.89,225.59 L474.30,225.70 L473.67,225.77 L473.01,225.82 L472.33,225.83 L471.62,225.83 L470.91,225.81 L470.18,225.79 L469.45,225.76 L468.72,225.73 L468.00,225.71 L467.30,225.70 L466.59,225.71 L465.86,225.73 L465.12,225.75 L464.37,225.78 L463.63,225.81 L462.91,225.82 L462.22,225.82 L461.56,225.81 L460.95,225.77 L460.40,225.70 L459.93,225.59 L459.54,225.44 L459.21,225.25 L458.92,225.05 L458.65,224.83 L458.38,224.62 L458.09,224.42 L457.76,224.24 L457.37,224.10 L456.90,224.00 L456.36,223.94 L455.79,223.91 L455.19,223.90 L454.55,223.91 L453.88,223.94 L453.17,223.98 L452.43,224.04 L451.65,224.12 L450.84,224.20 L450.00,224.30 L449.10,224.42 L448.13,224.56 L447.11,224.73 L446.05,224.91 L444.96,225.10 L443.87,225.30 L442.78,225.49 L441.71,225.68 L440.68,225.85 L439.70,226.00 L438.77,226.15 L437.86,226.31 L436.97,226.48 L436.10,226.65 L435.25,226.80 L434.40,226.93 L433.56,227.04 L432.71,227.11 L431.86,227.13 L431.00,227.10 L430.12,227.00 L429.23,226.85 L428.34,226.64 L427.44,226.40 L426.54,226.12 L425.66,225.84 L424.79,225.55 L423.93,225.28 L423.10,225.02 L422.30,224.80 L421.53,224.59 L420.79,224.38 L420.08,224.16 L419.38,223.95 L418.69,223.75 L418.02,223.56 L417.35,223.40 L416.67,223.26 L415.99,223.16 L415.30,223.10 L414.59,223.09 L413.86,223.12 L413.11,223.20 L412.37,223.30 L411.63,223.42 L410.91,223.56 L410.20,223.69 L409.53,223.82 L408.89,223.92 L408.30,224.00 L407.77,224.07 L407.32,224.16 L406.91,224.25 L406.53,224.35 L406.18,224.42 L405.81,224.48 L405.43,224.51 L405.02,224.49 L404.54,224.43 L404.00,224.30 L403.37,224.10 L402.67,223.84 L401.92,223.51 L401.13,223.15 L400.32,222.76 L399.51,222.35 L398.71,221.93 L397.95,221.53 L397.24,221.15 L396.60,220.80 L396.03,220.47 L395.50,220.14 L395.01,219.81 L394.56,219.48 L394.13,219.16 L393.71,218.85 L393.29,218.55 L392.88,218.28 L392.45,218.02 L392.00,217.80 L391.54,217.62 L391.08,217.49 L390.62,217.39 L390.16,217.32 L389.69,217.26 L389.23,217.19 L388.77,217.10 L388.31,216.98 L387.86,216.82 L387.40,216.60 L386.95,216.34 L386.50,216.08 L386.05,215.81 L385.60,215.51 L385.15,215.17 L384.70,214.80 L384.25,214.37 L383.80,213.89 L383.35,213.33 L382.90,212.70 L382.44,211.98 L381.98,211.16 L381.51,210.27 L381.04,209.32 L380.57,208.32 L380.10,207.29 L379.64,206.24 L379.18,205.18 L378.74,204.13 L378.30,203.10 L377.87,202.06 L377.44,201.00 L377.02,199.90 L376.60,198.79 L376.19,197.68 L375.79,196.57 L375.40,195.48 L375.02,194.42 L374.65,193.39 L374.30,192.40 L373.97,191.46 L373.66,190.54 L373.36,189.65 L373.08,188.78 L372.81,187.94 L372.54,187.11 L372.27,186.29 L371.99,185.49 L371.71,184.69 L371.40,183.90 L371.09,183.12 L370.77,182.35 L370.45,181.59 L370.13,180.84 L369.81,180.11 L369.47,179.38 L369.12,178.67 L368.76,177.97 L368.39,177.28 L368.00,176.60 L367.58,175.95 L367.14,175.33 L366.67,174.74 L366.19,174.17 L365.70,173.60 L365.21,173.02 L364.73,172.42 L364.26,171.80 L363.82,171.12 L363.40,170.40 L363.01,169.63 L362.64,168.82 L362.28,167.98 L361.93,167.11 L361.59,166.22 L361.27,165.30 L360.95,164.37 L360.63,163.43 L360.31,162.47 L360.00,161.50 L359.68,160.51 L359.37,159.49 L359.06,158.45 L358.75,157.39 L358.45,156.32 L358.16,155.24 L357.87,154.16 L357.60,153.09 L357.34,152.04 L357.10,151.00 L356.87,149.97 L356.66,148.94 L356.46,147.92 L356.27,146.89 L356.09,145.88 L355.92,144.87 L355.76,143.87 L355.60,142.90 L355.45,141.94 L355.30,141.00 L355.16,140.11 L355.02,139.29 L354.90,138.51 L354.79,137.75 L354.68,136.99 L354.57,136.22 L354.46,135.40 L354.34,134.52 L354.23,133.56 L354.10,132.50 L353.97,131.35 L353.83,130.14 L353.69,128.88 L353.55,127.56 L353.41,126.19 L353.27,124.77 L353.13,123.30 L352.98,121.78 L352.84,120.21 L352.70,118.60 L352.55,116.83 L352.40,114.85 L352.24,112.73 L352.07,110.53 L351.91,108.33 L351.76,106.20 L351.62,104.21 L351.49,102.44 L351.38,100.94 L351.30,99.80 Z" fill="#7165bb" fill-opacity="0.5"/><path d="M353.10,216.30 L353.31,216.38 L353.58,216.49 L353.90,216.62 L354.25,216.78 L354.64,216.93 L355.04,217.08 L355.45,217.21 L355.85,217.32 L356.24,217.38 L356.60,217.40 L356.94,217.39 L357.29,217.37 L357.63,217.33 L357.97,217.27 L358.31,217.18 L358.64,217.06 L358.98,216.90 L359.32,216.69 L359.66,216.42 L360.00,216.10 L360.34,215.72 L360.68,215.29 L361.02,214.81 L361.36,214.29 L361.69,213.72 L362.03,213.12 L362.37,212.47 L362.71,211.78 L363.06,211.06 L363.40,210.30 L363.75,209.48 L364.10,208.59 L364.45,207.64 L364.80,206.65 L365.15,205.62 L365.50,204.59 L365.85,203.55 L366.20,202.53 L366.55,201.54 L366.90,200.60 L367.24,199.70 L367.59,198.81 L367.93,197.94 L368.27,197.08 L368.61,196.22 L368.94,195.38 L369.28,194.54 L369.62,193.70 L369.96,192.85 L370.30,192.00 L370.63,191.14 L370.96,190.26 L371.28,189.37 L371.60,188.48 L371.92,187.60 L372.25,186.73 L372.59,185.88 L372.94,185.05 L373.31,184.26 L373.70,183.50 L374.11,182.77 L374.54,182.06 L374.99,181.37 L375.45,180.71 L375.93,180.06 L376.40,179.45 L376.88,178.86 L377.36,178.30 L377.83,177.78 L378.30,177.30 L378.76,176.85 L379.22,176.45 L379.68,176.07 L380.14,175.73 L380.61,175.42 L381.07,175.13 L381.53,174.87 L381.99,174.63 L382.44,174.41 L382.90,174.20 L383.35,174.03 L383.80,173.90 L384.25,173.81 L384.70,173.75 L385.15,173.70 L385.60,173.66 L386.05,173.60 L386.50,173.53 L386.95,173.44 L387.40,173.30 L387.86,173.13 L388.33,172.94 L388.81,172.73 L389.29,172.51 L389.77,172.28 L390.24,172.03 L390.71,171.78 L391.16,171.52 L391.59,171.26 L392.00,171.00 L392.39,170.76 L392.76,170.55 L393.11,170.36 L393.46,170.16 L393.79,169.95 L394.11,169.71 L394.43,169.42 L394.75,169.06 L395.07,168.63 L395.40,168.10 L395.72,167.47 L396.04,166.77 L396.35,165.99 L396.66,165.14 L396.97,164.25 L397.28,163.32 L397.59,162.35 L397.92,161.37 L398.25,160.39 L398.60,159.40 L398.96,158.41 L399.33,157.39 L399.72,156.34 L400.10,155.28 L400.50,154.19 L400.90,153.08 L401.30,151.96 L401.70,150.82 L402.10,149.66 L402.50,148.50 L402.90,147.31 L403.30,146.08 L403.71,144.83 L404.11,143.56 L404.52,142.28 L404.92,140.99 L405.33,139.71 L405.72,138.45 L406.12,137.21 L406.50,136.00 L406.87,134.81 L407.24,133.62 L407.59,132.43 L407.94,131.25 L408.29,130.09 L408.64,128.95 L408.99,127.83 L409.35,126.75 L409.72,125.70 L410.10,124.70 L410.49,123.75 L410.89,122.85 L411.29,121.99 L411.70,121.17 L412.11,120.37 L412.53,119.58 L412.96,118.80 L413.40,118.02 L413.84,117.22 L414.30,116.40 L414.77,115.55 L415.27,114.69 L415.79,113.82 L416.32,112.95 L416.85,112.08 L417.38,111.21 L417.89,110.37 L418.39,109.55 L418.86,108.76 L419.30,108.00 L419.69,107.30 L420.02,106.64 L420.32,106.03 L420.60,105.44 L420.87,104.86 L421.16,104.28 L421.47,103.69 L421.82,103.07 L422.22,102.41 L422.70,101.70 L423.25,100.93 L423.87,100.10 L424.54,99.24 L425.24,98.35 L425.97,97.45 L426.73,96.54 L427.49,95.64 L428.24,94.76 L428.98,93.91 L429.70,93.10 L430.40,92.32 L431.11,91.56 L431.82,90.80 L432.53,90.07 L433.24,89.34 L433.95,88.64 L434.65,87.95 L435.34,87.28 L436.03,86.63 L436.70,86.00 L437.36,85.39 L438.02,84.80 L438.68,84.23 L439.32,83.68 L439.96,83.15 L440.59,82.63 L441.21,82.13 L441.82,81.64 L442.42,81.17 L443.00,80.70 L443.56,80.25 L444.11,79.81 L444.64,79.39 L445.16,78.98 L445.67,78.58 L446.17,78.20 L446.67,77.83 L447.18,77.47 L447.68,77.13 L448.20,76.80 L448.72,76.50 L449.24,76.25 L449.76,76.02 L450.28,75.82 L450.79,75.61 L451.31,75.40 L451.83,75.17 L452.35,74.90 L452.88,74.58 L453.40,74.20 L453.93,73.75 L454.46,73.22 L454.99,72.65 L455.52,72.04 L456.05,71.41 L456.58,70.77 L457.11,70.15 L457.64,69.55 L458.17,68.99 L458.70,68.50 L459.22,68.05 L459.75,67.62 L460.27,67.20 L460.79,66.81 L461.31,66.44 L461.82,66.10 L462.34,65.78 L462.86,65.49 L463.38,65.23 L463.90,65.00 L464.42,64.80 L464.94,64.64 L465.46,64.51 L465.98,64.41 L466.50,64.33 L467.02,64.28 L467.54,64.24 L468.06,64.21 L468.58,64.20 L469.10,64.20 L469.61,64.21 L470.11,64.24 L470.60,64.29 L471.09,64.36 L471.59,64.44 L472.09,64.53 L472.61,64.64 L473.14,64.75 L473.71,64.87 L474.30,65.00 L474.91,65.14 L475.53,65.31 L476.16,65.49 L476.81,65.68 L477.48,65.88 L478.17,66.08 L478.89,66.27 L479.65,66.46 L480.45,66.64 L481.30,66.80 L482.19,66.95 L483.13,67.08 L484.11,67.21 L485.13,67.33 L486.18,67.45 L487.25,67.56 L488.34,67.67 L489.45,67.78 L490.57,67.89 L491.70,68.00 L492.85,68.11 L494.03,68.23 L495.23,68.35 L496.46,68.47 L497.69,68.58 L498.94,68.69 L500.19,68.79 L501.44,68.87 L502.68,68.95 L503.90,69.00 L505.09,69.04 L506.23,69.07 L507.34,69.09 L508.45,69.11 L509.57,69.11 L510.72,69.09 L511.92,69.07 L513.18,69.03 L514.54,68.97 L516.00,68.90 L517.66,68.80 L519.56,68.67 L521.61,68.51 L523.75,68.33 L525.91,68.14 L528.00,67.96 L529.96,67.78 L531.71,67.63 L533.18,67.50 L534.30,67.40 L534.30,77.40 L533.18,77.31 L531.71,77.19 L529.96,77.04 L528.00,76.88 L525.91,76.71 L523.75,76.53 L521.61,76.35 L519.56,76.19 L517.66,76.03 L516.00,75.90 L514.54,75.79 L513.18,75.68 L511.92,75.59 L510.72,75.50 L509.57,75.42 L508.45,75.34 L507.34,75.26 L506.23,75.18 L505.09,75.09 L503.90,75.00 L502.68,74.90 L501.44,74.81 L500.19,74.71 L498.94,74.62 L497.69,74.52 L496.46,74.42 L495.23,74.32 L494.03,74.21 L492.85,74.11 L491.70,74.00 L490.57,73.89 L489.45,73.78 L488.34,73.67 L487.25,73.56 L486.18,73.45 L485.13,73.33 L484.11,73.21 L483.13,73.08 L482.19,72.95 L481.30,72.80 L480.45,72.64 L479.65,72.46 L478.89,72.27 L478.17,72.08 L477.48,71.88 L476.81,71.68 L476.16,71.49 L475.53,71.31 L474.91,71.14 L474.30,71.00 L473.71,70.87 L473.14,70.75 L472.61,70.64 L472.09,70.53 L471.59,70.44 L471.09,70.36 L470.60,70.29 L470.11,70.24 L469.61,70.21 L469.10,70.20 L468.58,70.20 L468.06,70.21 L467.54,70.24 L467.02,70.28 L466.50,70.33 L465.98,70.41 L465.46,70.51 L464.94,70.64 L464.42,70.80 L463.90,71.00 L463.38,71.24 L462.86,71.51 L462.34,71.81 L461.82,72.15 L461.31,72.51 L460.79,72.88 L460.27,73.28 L459.75,73.68 L459.22,74.09 L458.70,74.50 L458.17,74.93 L457.64,75.40 L457.11,75.89 L456.58,76.39 L456.05,76.91 L455.52,77.41 L454.99,77.91 L454.46,78.38 L453.93,78.81 L453.40,79.20 L452.88,79.54 L452.35,79.83 L451.83,80.09 L451.31,80.33 L450.79,80.55 L450.28,80.77 L449.76,80.99 L449.24,81.23 L448.72,81.50 L448.20,81.80 L447.68,82.13 L447.18,82.47 L446.67,82.83 L446.17,83.20 L445.67,83.58 L445.16,83.98 L444.64,84.39 L444.11,84.81 L443.56,85.25 L443.00,85.70 L442.42,86.17 L441.82,86.64 L441.21,87.13 L440.59,87.63 L439.96,88.15 L439.32,88.68 L438.68,89.23 L438.02,89.80 L437.36,90.39 L436.70,91.00 L436.03,91.63 L435.34,92.29 L434.65,92.97 L433.95,93.67 L433.24,94.38 L432.53,95.11 L431.82,95.85 L431.11,96.59 L430.40,97.35 L429.70,98.10 L428.98,98.87 L428.24,99.68 L427.49,100.50 L426.73,101.34 L425.97,102.18 L425.24,103.01 L424.54,103.83 L423.87,104.62 L423.25,105.38 L422.70,106.10 L422.22,106.76 L421.82,107.37 L421.47,107.95 L421.16,108.49 L420.87,109.03 L420.60,109.56 L420.32,110.11 L420.02,110.69 L419.69,111.32 L419.30,112.00 L418.86,112.74 L418.39,113.52 L417.89,114.34 L417.38,115.18 L416.85,116.05 L416.32,116.93 L415.79,117.81 L415.27,118.69 L414.77,119.55 L414.30,120.40 L413.84,121.22 L413.40,122.02 L412.96,122.80 L412.53,123.58 L412.11,124.37 L411.70,125.17 L411.29,125.99 L410.89,126.85 L410.49,127.75 L410.10,128.70 L409.72,129.70 L409.35,130.75 L408.99,131.83 L408.64,132.95 L408.29,134.09 L407.94,135.25 L407.59,136.43 L407.24,137.62 L406.87,138.81 L406.50,140.00 L406.12,141.21 L405.72,142.45 L405.33,143.71 L404.92,144.99 L404.52,146.28 L404.11,147.56 L403.71,148.83 L403.30,150.08 L402.90,151.31 L402.50,152.50 L402.10,153.66 L401.70,154.80 L401.30,155.93 L400.90,157.03 L400.50,158.12 L400.10,159.20 L399.72,160.27 L399.33,161.32 L398.96,162.37 L398.60,163.40 L398.25,164.44 L397.92,165.51 L397.59,166.58 L397.28,167.64 L396.97,168.69 L396.66,169.70 L396.35,170.65 L396.04,171.55 L395.72,172.37 L395.40,173.10 L395.07,173.73 L394.75,174.28 L394.43,174.75 L394.11,175.15 L393.79,175.51 L393.46,175.83 L393.11,176.13 L392.76,176.42 L392.39,176.70 L392.00,177.00 L391.59,177.30 L391.16,177.58 L390.71,177.85 L390.24,178.10 L389.77,178.34 L389.29,178.56 L388.81,178.76 L388.33,178.96 L387.86,179.13 L387.40,179.30 L386.95,179.44 L386.50,179.53 L386.05,179.60 L385.60,179.66 L385.15,179.70 L384.70,179.75 L384.25,179.81 L383.80,179.90 L383.35,180.03 L382.90,180.20 L382.44,180.41 L381.99,180.65 L381.53,180.90 L381.07,181.18 L380.61,181.48 L380.14,181.80 L379.68,182.15 L379.22,182.51 L378.76,182.90 L378.30,183.30 L377.83,183.72 L377.36,184.17 L376.88,184.63 L376.40,185.12 L375.93,185.62 L375.45,186.15 L374.99,186.70 L374.54,187.28 L374.11,187.88 L373.70,188.50 L373.31,189.15 L372.94,189.84 L372.59,190.55 L372.25,191.28 L371.92,192.04 L371.60,192.81 L371.28,193.60 L370.96,194.39 L370.63,195.20 L370.30,196.00 L369.96,196.81 L369.62,197.63 L369.28,198.46 L368.94,199.31 L368.61,200.16 L368.27,201.03 L367.93,201.90 L367.59,202.79 L367.24,203.69 L366.90,204.60 L366.55,205.54 L366.20,206.52 L365.85,207.52 L365.50,208.54 L365.15,209.56 L364.80,210.58 L364.45,211.57 L364.10,212.53 L363.75,213.44 L363.40,214.30 L363.06,215.11 L362.71,215.90 L362.37,216.66 L362.03,217.40 L361.69,218.10 L361.36,218.77 L361.02,219.41 L360.68,220.01 L360.34,220.57 L360.00,221.10 L359.66,221.58 L359.32,222.02 L358.98,222.42 L358.64,222.79 L358.31,223.12 L357.97,223.42 L357.63,223.70 L357.29,223.95 L356.94,224.18 L356.60,224.40 L356.24,224.59 L355.85,224.75 L355.45,224.87 L355.04,224.98 L354.64,225.06 L354.25,225.12 L353.90,225.17 L353.58,225.22 L353.31,225.26 L353.10,225.30 Z" fill="#698441" fill-opacity="0.4"/><path d="M351.30,98.80 L351.38,99.94 L351.49,101.44 L351.62,103.21 L351.76,105.20 L351.91,107.33 L352.07,109.53 L352.24,111.73 L352.40,113.85 L352.55,115.83 L352.70,117.60 L352.84,119.21 L352.98,120.78 L353.13,122.30 L353.27,123.77 L353.41,125.19 L353.55,126.56 L353.69,127.88 L353.83,129.14 L353.97,130.35 L354.10,131.50 L354.23,132.56 L354.34,133.52 L354.46,134.40 L354.57,135.22 L354.68,135.99 L354.79,136.75 L354.90,137.51 L355.02,138.29 L355.16,139.11 L355.30,140.00 L355.45,140.94 L355.60,141.90 L355.76,142.88 L355.92,143.88 L356.09,144.89 L356.27,145.91 L356.46,146.93 L356.66,147.96 L356.87,148.98 L357.10,150.00 L357.34,151.03 L357.60,152.07 L357.87,153.12 L358.16,154.18 L358.45,155.24 L358.75,156.29 L359.06,157.33 L359.37,158.34 L359.68,159.34 L360.00,160.30 L360.31,161.24 L360.63,162.18 L360.95,163.10 L361.27,164.00 L361.59,164.89 L361.93,165.75 L362.28,166.59 L362.64,167.39 L363.01,168.17 L363.40,168.90 L363.82,169.58 L364.26,170.22 L364.73,170.80 L365.21,171.36 L365.70,171.89 L366.19,172.42 L366.67,172.94 L367.14,173.47 L367.58,174.02 L368.00,174.60 L368.39,175.20 L368.76,175.79 L369.12,176.39 L369.47,177.00 L369.81,177.61 L370.13,178.23 L370.45,178.87 L370.77,179.52 L371.09,180.20 L371.40,180.90 L371.71,181.62 L371.99,182.36 L372.27,183.11 L372.54,183.87 L372.81,184.66 L373.08,185.46 L373.36,186.28 L373.66,187.13 L373.97,188.00 L374.30,188.90 L374.65,189.84 L375.02,190.82 L375.40,191.85 L375.79,192.90 L376.19,193.96 L376.60,195.03 L377.02,196.09 L377.44,197.13 L377.87,198.13 L378.30,199.10 L378.74,200.05 L379.18,201.01 L379.64,201.96 L380.10,202.90 L380.57,203.82 L381.04,204.71 L381.51,205.55 L381.98,206.34 L382.44,207.06 L382.90,207.70 L383.35,208.26 L383.80,208.75 L384.25,209.17 L384.70,209.54 L385.15,209.86 L385.60,210.15 L386.05,210.41 L386.50,210.64 L386.95,210.87 L387.40,211.10 L387.86,211.30 L388.31,211.46 L388.77,211.57 L389.23,211.66 L389.69,211.74 L390.16,211.81 L390.62,211.89 L391.08,211.99 L391.54,212.13 L392.00,212.30 L392.45,212.51 L392.88,212.75 L393.29,213.00 L393.71,213.27 L394.13,213.56 L394.56,213.85 L395.01,214.16 L395.50,214.47 L396.03,214.78 L396.60,215.10 L397.24,215.44 L397.95,215.82 L398.71,216.22 L399.51,216.63 L400.32,217.04 L401.13,217.44 L401.92,217.81 L402.67,218.13 L403.37,218.40 L404.00,218.60 L404.54,218.73 L405.02,218.79 L405.43,218.81 L405.81,218.78 L406.18,218.72 L406.53,218.65 L406.91,218.55 L407.32,218.46 L407.77,218.37 L408.30,218.30 L408.89,218.22 L409.53,218.12 L410.20,217.99 L410.91,217.86 L411.63,217.72 L412.37,217.60 L413.11,217.50 L413.86,217.42 L414.59,217.39 L415.30,217.40 L415.99,217.46 L416.67,217.56 L417.35,217.70 L418.02,217.86 L418.69,218.05 L419.38,218.25 L420.08,218.46 L420.79,218.68 L421.53,218.89 L422.30,219.10 L423.10,219.32 L423.93,219.58 L424.79,219.85 L425.66,220.14 L426.54,220.42 L427.44,220.70 L428.34,220.94 L429.23,221.15 L430.12,221.30 L431.00,221.40 L431.86,221.43 L432.71,221.41 L433.56,221.34 L434.40,221.23 L435.25,221.10 L436.10,220.95 L436.97,220.78 L437.86,220.61 L438.77,220.45 L439.70,220.30 L440.68,220.15 L441.71,219.98 L442.78,219.79 L443.87,219.60 L444.96,219.40 L446.05,219.21 L447.11,219.03 L448.13,218.86 L449.10,218.72 L450.00,218.60 L450.84,218.50 L451.65,218.42 L452.43,218.34 L453.17,218.28 L453.88,218.24 L454.55,218.21 L455.19,218.20 L455.79,218.21 L456.36,218.24 L456.90,218.30 L457.37,218.40 L457.76,218.54 L458.09,218.72 L458.38,218.92 L458.65,219.13 L458.92,219.35 L459.21,219.55 L459.54,219.74 L459.93,219.89 L460.40,220.00 L460.95,220.07 L461.56,220.11 L462.22,220.13 L462.91,220.14 L463.63,220.13 L464.37,220.10 L465.12,220.08 L465.86,220.05 L466.59,220.02 L467.30,220.00 L468.00,219.99 L468.72,219.98 L469.45,219.98 L470.18,219.97 L470.91,219.96 L471.62,219.94 L472.33,219.91 L473.01,219.86 L473.67,219.79 L474.30,219.70 L474.89,219.57 L475.46,219.41 L475.99,219.22 L476.51,219.01 L477.01,218.79 L477.51,218.58 L478.00,218.37 L478.49,218.18 L478.99,218.02 L479.50,217.90 L480.02,217.80 L480.54,217.71 L481.06,217.63 L481.58,217.57 L482.09,217.53 L482.61,217.50 L483.13,217.50 L483.65,217.54 L484.18,217.60 L484.70,217.70 L485.22,217.84 L485.73,218.03 L486.23,218.26 L486.74,218.51 L487.24,218.79 L487.76,219.08 L488.29,219.39 L488.84,219.70 L489.40,220.00 L490.00,220.30 L490.62,220.60 L491.28,220.93 L491.95,221.28 L492.64,221.63 L493.34,221.99 L494.06,222.34 L494.77,222.67 L495.49,222.98 L496.20,223.26 L496.90,223.50 L497.57,223.71 L498.21,223.89 L498.83,224.04 L499.45,224.18 L500.07,224.30 L500.73,224.40 L501.42,224.49 L502.17,224.57 L502.99,224.64 L503.90,224.70 L504.87,224.75 L505.88,224.78 L506.93,224.79 L508.03,224.79 L509.19,224.77 L510.40,224.76 L511.69,224.74 L513.04,224.72 L514.48,224.71 L516.00,224.70 L517.72,224.70 L519.69,224.70 L521.84,224.70 L524.09,224.70 L526.36,224.70 L528.56,224.70 L530.63,224.70 L532.48,224.70 L534.03,224.70 L535.20,224.70" stroke="#2f358c" stroke-width="1.9" fill="none" stroke-linejoin="round" stroke-linecap="round"/><path d="M353.10,220.30 L353.31,220.35 L353.58,220.43 L353.90,220.53 L354.25,220.64 L354.64,220.74 L355.04,220.84 L355.45,220.91 L355.85,220.96 L356.24,220.95 L356.60,220.90 L356.94,220.81 L357.29,220.69 L357.63,220.55 L357.97,220.38 L358.31,220.18 L358.64,219.95 L358.98,219.68 L359.32,219.36 L359.66,219.01 L360.00,218.60 L360.34,218.15 L360.68,217.65 L361.02,217.11 L361.36,216.53 L361.69,215.91 L362.03,215.26 L362.37,214.57 L362.71,213.84 L363.06,213.09 L363.40,212.30 L363.75,211.46 L364.10,210.56 L364.45,209.61 L364.80,208.61 L365.15,207.59 L365.50,206.56 L365.85,205.54 L366.20,204.52 L366.55,203.54 L366.90,202.60 L367.24,201.69 L367.59,200.80 L367.93,199.92 L368.27,199.05 L368.61,198.19 L368.94,197.34 L369.28,196.50 L369.62,195.66 L369.96,194.83 L370.30,194.00 L370.63,193.17 L370.96,192.32 L371.28,191.48 L371.60,190.65 L371.92,189.82 L372.25,189.01 L372.59,188.21 L372.94,187.44 L373.31,186.70 L373.70,186.00 L374.11,185.33 L374.54,184.67 L374.99,184.04 L375.45,183.43 L375.93,182.84 L376.40,182.28 L376.88,181.75 L377.36,181.24 L377.83,180.75 L378.30,180.30 L378.76,179.87 L379.22,179.48 L379.68,179.11 L380.14,178.77 L380.61,178.45 L381.07,178.16 L381.53,177.89 L381.99,177.64 L382.44,177.41 L382.90,177.20 L383.35,177.03 L383.80,176.90 L384.25,176.81 L384.70,176.75 L385.15,176.70 L385.60,176.66 L386.05,176.60 L386.50,176.53 L386.95,176.44 L387.40,176.30 L387.86,176.13 L388.33,175.95 L388.81,175.75 L389.29,175.53 L389.77,175.31 L390.24,175.07 L390.71,174.81 L391.16,174.55 L391.59,174.28 L392.00,174.00 L392.39,173.73 L392.76,173.48 L393.11,173.24 L393.46,173.00 L393.79,172.73 L394.11,172.43 L394.43,172.08 L394.75,171.67 L395.07,171.18 L395.40,170.60 L395.72,169.92 L396.04,169.16 L396.35,168.32 L396.66,167.42 L396.97,166.47 L397.28,165.48 L397.59,164.47 L397.92,163.44 L398.25,162.41 L398.60,161.40 L398.96,160.39 L399.33,159.35 L399.72,158.31 L400.10,157.24 L400.50,156.16 L400.90,155.06 L401.30,153.94 L401.70,152.81 L402.10,151.66 L402.50,150.50 L402.90,149.31 L403.30,148.08 L403.71,146.83 L404.11,145.56 L404.52,144.28 L404.92,142.99 L405.33,141.71 L405.72,140.45 L406.12,139.21 L406.50,138.00 L406.87,136.81 L407.24,135.62 L407.59,134.43 L407.94,133.25 L408.29,132.09 L408.64,130.95 L408.99,129.83 L409.35,128.75 L409.72,127.70 L410.10,126.70 L410.49,125.75 L410.89,124.85 L411.29,123.99 L411.70,123.17 L412.11,122.37 L412.53,121.58 L412.96,120.80 L413.40,120.02 L413.84,119.22 L414.30,118.40 L414.77,117.55 L415.27,116.69 L415.79,115.81 L416.32,114.94 L416.85,114.06 L417.38,113.20 L417.89,112.35 L418.39,111.53 L418.86,110.75 L419.30,110.00 L419.69,109.31 L420.02,108.67 L420.32,108.07 L420.60,107.50 L420.87,106.94 L421.16,106.39 L421.47,105.82 L421.82,105.22 L422.22,104.59 L422.70,103.90 L423.25,103.15 L423.87,102.36 L424.54,101.53 L425.24,100.68 L425.97,99.81 L426.73,98.94 L427.49,98.07 L428.24,97.22 L428.98,96.39 L429.70,95.60 L430.40,94.83 L431.11,94.07 L431.82,93.33 L432.53,92.59 L433.24,91.86 L433.95,91.15 L434.65,90.46 L435.34,89.79 L436.03,89.13 L436.70,88.50 L437.36,87.89 L438.02,87.30 L438.68,86.73 L439.32,86.18 L439.96,85.65 L440.59,85.13 L441.21,84.63 L441.82,84.14 L442.42,83.67 L443.00,83.20 L443.56,82.75 L444.11,82.31 L444.64,81.89 L445.16,81.48 L445.67,81.08 L446.17,80.70 L446.67,80.33 L447.18,79.97 L447.68,79.63 L448.20,79.30 L448.72,79.00 L449.24,78.74 L449.76,78.51 L450.28,78.29 L450.79,78.08 L451.31,77.86 L451.83,77.63 L452.35,77.37 L452.88,77.06 L453.40,76.70 L453.93,76.28 L454.46,75.80 L454.99,75.28 L455.52,74.73 L456.05,74.16 L456.58,73.58 L457.11,73.02 L457.64,72.47 L458.17,71.96 L458.70,71.50 L459.22,71.07 L459.75,70.65 L460.27,70.24 L460.79,69.85 L461.31,69.48 L461.82,69.12 L462.34,68.80 L462.86,68.50 L463.38,68.23 L463.90,68.00 L464.42,67.80 L464.94,67.64 L465.46,67.51 L465.98,67.41 L466.50,67.33 L467.02,67.28 L467.54,67.24 L468.06,67.21 L468.58,67.20 L469.10,67.20 L469.61,67.21 L470.11,67.24 L470.60,67.29 L471.09,67.36 L471.59,67.44 L472.09,67.53 L472.61,67.64 L473.14,67.75 L473.71,67.87 L474.30,68.00 L474.91,68.14 L475.53,68.31 L476.16,68.49 L476.81,68.68 L477.48,68.88 L478.17,69.08 L478.89,69.27 L479.65,69.46 L480.45,69.64 L481.30,69.80 L482.19,69.95 L483.13,70.08 L484.11,70.21 L485.13,70.33 L486.18,70.45 L487.25,70.56 L488.34,70.67 L489.45,70.78 L490.57,70.89 L491.70,71.00 L492.85,71.11 L494.03,71.22 L495.23,71.33 L496.46,71.44 L497.69,71.55 L498.94,71.65 L500.19,71.75 L501.44,71.84 L502.68,71.93 L503.90,72.00 L505.09,72.07 L506.23,72.12 L507.34,72.18 L508.45,72.22 L509.57,72.26 L510.72,72.30 L511.92,72.33 L513.18,72.36 L514.54,72.38 L516.00,72.40 L517.66,72.42 L519.56,72.43 L521.61,72.43 L523.75,72.43 L525.91,72.43 L528.00,72.42 L529.96,72.41 L531.71,72.41 L533.18,72.40 L534.30,72.40" stroke="#2b7036" stroke-width="1.8" fill="none" stroke-linejoin="round" stroke-linecap="round"/></g><rect x="344.5" y="57.5" width="199.0" height="172.5" fill="none" stroke="#2a2a2a" stroke-width="1.5"/><path d="M351.5,230.0 V234.2 M392.5,230.0 V234.2 M432.5,230.0 V234.2 M473.5,230.0 V234.2 M513.5,230.0 V234.2 M344.5,79.5 H340.5 M344.5,123.5 H340.5 M344.5,168.5 H340.5 M344.5,213.5 H340.5 M543.5,84.5 H547.5 M543.5,129.5 H547.5 M543.5,174.5 H547.5 M543.5,219.5 H547.5" stroke="#3a3a3a" stroke-width="1" fill="none"/><text x="351.8" y="244.7" font-size="8.5" text-anchor="middle">0e+00</text><text x="392.3" y="244.7" font-size="8.5" text-anchor="middle">2e+05</text><text x="432.8" y="244.7" font-size="8.5" text-anchor="middle">4e+05</text><text x="473.3" y="244.7" font-size="8.5" text-anchor="middle">6e+05</text><text x="513.8" y="244.7" font-size="8.5" text-anchor="middle">8e+05</text><text transform="translate(335.7,79.0) rotate(-90)" font-size="8.5" text-anchor="middle">450</text><text transform="translate(335.7,123.7) rotate(-90)" font-size="8.5" text-anchor="middle">400</text><text transform="translate(335.7,168.4) rotate(-90)" font-size="8.5" text-anchor="middle">350</text><text transform="translate(335.7,213.1) rotate(-90)" font-size="8.5" text-anchor="middle">300</text><text transform="translate(555.3,84.1) rotate(-90)" font-size="8.5" text-anchor="middle">20</text><text transform="translate(555.3,129.4) rotate(-90)" font-size="8.5" text-anchor="middle">15</text><text transform="translate(555.3,174.6) rotate(-90)" font-size="8.5" text-anchor="middle">10</text><text transform="translate(555.3,219.9) rotate(-90)" font-size="8.5" text-anchor="middle">5</text><text x="443.5" y="260.6" font-size="9.3" text-anchor="middle" textLength="199.8" lengthAdjust="spacingAndGlyphs">(b) Median discharge (cubic feet per second)</text><text transform="translate(323.1,139.3) rotate(-90)" font-size="9.3" text-anchor="middle" textLength="46" lengthAdjust="spacingAndGlyphs">Barge rate</text><text transform="translate(567.8,139.3) rotate(-90)" font-size="9.3" text-anchor="middle" textLength="82" lengthAdjust="spacingAndGlyphs">Barge productivity</text><clipPath id="clipc"><rect x="36.5" y="282.1" width="198.5" height="173.09999999999997"/></clipPath><path d="M43.5,284.0 V453.2 M86.5,284.0 V453.2 M129.5,284.0 V453.2 M172.5,284.0 V453.2 M215.5,284.0 V453.2 M38.0,304.5 H233.0 M38.0,333.5 H233.0 M38.0,362.5 H233.0 M38.0,392.5 H233.0 M38.0,421.5 H233.0 M38.0,450.5 H233.0 M38.0,304.5 H233.0 M38.0,333.5 H233.0 M38.0,362.5 H233.0 M38.0,392.5 H233.0 M38.0,421.5 H233.0 M38.0,450.5 H233.0" stroke="#bebebe" stroke-width="1" stroke-dasharray="1 1" fill="none"/><g clip-path="url(#clipc)"><path d="M44.30,436.50 L44.85,436.90 L45.57,437.44 L46.43,438.08 L47.39,438.81 L48.42,439.57 L49.48,440.34 L50.55,441.08 L51.58,441.76 L52.54,442.34 L53.40,442.80 L54.19,443.15 L54.95,443.44 L55.68,443.67 L56.40,443.85 L57.09,443.99 L57.76,444.08 L58.42,444.13 L59.06,444.15 L59.68,444.14 L60.30,444.10 L60.91,444.04 L61.51,443.94 L62.09,443.82 L62.66,443.66 L63.22,443.46 L63.75,443.22 L64.26,442.93 L64.74,442.61 L65.19,442.23 L65.60,441.80 L65.97,441.33 L66.29,440.83 L66.58,440.30 L66.83,439.72 L67.07,439.09 L67.29,438.41 L67.51,437.67 L67.72,436.85 L67.95,435.97 L68.20,435.00 L68.46,433.95 L68.72,432.81 L68.98,431.59 L69.24,430.31 L69.50,428.96 L69.76,427.56 L70.02,426.12 L70.28,424.64 L70.54,423.13 L70.80,421.60 L71.06,420.02 L71.31,418.38 L71.55,416.69 L71.80,414.95 L72.04,413.18 L72.30,411.39 L72.55,409.58 L72.82,407.78 L73.10,405.98 L73.40,404.20 L73.71,402.40 L74.03,400.55 L74.36,398.66 L74.70,396.76 L75.04,394.88 L75.40,393.02 L75.76,391.21 L76.13,389.47 L76.51,387.83 L76.90,386.30 L77.30,384.87 L77.71,383.50 L78.13,382.19 L78.56,380.96 L78.99,379.78 L79.43,378.67 L79.88,377.63 L80.32,376.65 L80.76,375.74 L81.20,374.90 L81.64,374.13 L82.08,373.43 L82.52,372.80 L82.96,372.24 L83.40,371.74 L83.84,371.31 L84.28,370.93 L84.72,370.60 L85.16,370.33 L85.60,370.10 L86.02,369.94 L86.42,369.86 L86.81,369.85 L87.20,369.89 L87.59,369.99 L87.99,370.12 L88.41,370.28 L88.87,370.45 L89.36,370.63 L89.90,370.80 L90.48,370.99 L91.10,371.22 L91.75,371.48 L92.42,371.76 L93.13,372.06 L93.85,372.36 L94.59,372.65 L95.35,372.93 L96.12,373.18 L96.90,373.40 L97.70,373.59 L98.53,373.78 L99.39,373.95 L100.26,374.11 L101.14,374.26 L102.04,374.40 L102.94,374.52 L103.83,374.63 L104.72,374.72 L105.60,374.80 L106.47,374.87 L107.34,374.93 L108.21,374.98 L109.08,375.01 L109.95,375.03 L110.82,375.03 L111.69,375.01 L112.56,374.97 L113.43,374.90 L114.30,374.80 L115.18,374.67 L116.07,374.53 L116.97,374.35 L117.87,374.16 L118.76,373.94 L119.65,373.70 L120.52,373.44 L121.38,373.15 L122.20,372.84 L123.00,372.50 L123.77,372.14 L124.51,371.76 L125.23,371.35 L125.93,370.92 L126.61,370.46 L127.28,369.98 L127.95,369.48 L128.60,368.94 L129.25,368.39 L129.90,367.80 L130.56,367.21 L131.23,366.63 L131.90,366.04 L132.57,365.43 L133.23,364.79 L133.86,364.09 L134.46,363.33 L135.02,362.49 L135.54,361.55 L136.00,360.50 L136.39,359.31 L136.70,357.98 L136.96,356.54 L137.17,355.01 L137.36,353.42 L137.54,351.80 L137.73,350.18 L137.94,348.59 L138.19,347.06 L138.50,345.60 L138.85,344.18 L139.22,342.74 L139.60,341.29 L140.00,339.86 L140.42,338.45 L140.86,337.09 L141.32,335.78 L141.80,334.56 L142.29,333.42 L142.80,332.40 L143.34,331.47 L143.92,330.60 L144.53,329.81 L145.15,329.08 L145.79,328.42 L146.44,327.84 L147.08,327.34 L147.71,326.91 L148.32,326.57 L148.90,326.30 L149.46,326.15 L150.01,326.12 L150.55,326.20 L151.08,326.36 L151.61,326.59 L152.12,326.85 L152.63,327.14 L153.13,327.42 L153.62,327.69 L154.10,327.90 L154.57,328.12 L155.02,328.38 L155.45,328.68 L155.88,328.99 L156.30,329.29 L156.72,329.56 L157.15,329.79 L157.58,329.95 L158.03,330.03 L158.50,330.00 L158.98,329.89 L159.47,329.72 L159.97,329.49 L160.48,329.20 L160.99,328.86 L161.52,328.45 L162.05,327.98 L162.59,327.45 L163.14,326.86 L163.70,326.20 L164.28,325.44 L164.88,324.56 L165.49,323.58 L166.12,322.53 L166.75,321.43 L167.38,320.32 L168.01,319.21 L168.62,318.14 L169.22,317.13 L169.80,316.20 L170.37,315.32 L170.94,314.44 L171.51,313.56 L172.07,312.71 L172.62,311.89 L173.16,311.12 L173.67,310.40 L174.15,309.75 L174.59,309.18 L175.00,308.70 L175.36,308.31 L175.67,307.99 L175.95,307.73 L176.19,307.54 L176.42,307.42 L176.63,307.35 L176.84,307.34 L177.04,307.38 L177.26,307.47 L177.50,307.60 L177.75,307.77 L177.99,307.99 L178.22,308.26 L178.46,308.57 L178.69,308.94 L178.94,309.38 L179.18,309.87 L179.44,310.44 L179.71,311.08 L180.00,311.80 L180.30,312.62 L180.62,313.56 L180.96,314.59 L181.30,315.70 L181.65,316.86 L182.00,318.06 L182.36,319.27 L182.71,320.48 L183.06,321.66 L183.40,322.80 L183.73,323.92 L184.06,325.06 L184.39,326.21 L184.72,327.37 L185.05,328.53 L185.38,329.67 L185.71,330.80 L186.04,331.90 L186.37,332.97 L186.70,334.00 L187.04,335.00 L187.38,335.98 L187.72,336.94 L188.06,337.88 L188.40,338.79 L188.74,339.69 L189.08,340.55 L189.42,341.40 L189.76,342.21 L190.10,343.00 L190.43,343.75 L190.76,344.47 L191.09,345.15 L191.41,345.81 L191.74,346.44 L192.06,347.06 L192.39,347.67 L192.72,348.28 L193.06,348.89 L193.40,349.50 L193.75,350.12 L194.11,350.74 L194.48,351.36 L194.85,351.98 L195.22,352.58 L195.59,353.18 L195.95,353.76 L196.31,354.33 L196.66,354.87 L197.00,355.40 L197.32,355.88 L197.63,356.30 L197.93,356.69 L198.22,357.05 L198.51,357.41 L198.79,357.79 L199.08,358.20 L199.38,358.66 L199.68,359.18 L200.00,359.80 L200.32,360.50 L200.64,361.27 L200.97,362.10 L201.29,362.98 L201.62,363.89 L201.97,364.84 L202.32,365.80 L202.70,366.77 L203.09,367.74 L203.50,368.70 L203.94,369.65 L204.40,370.59 L204.89,371.54 L205.39,372.50 L205.91,373.47 L206.43,374.46 L206.95,375.49 L207.48,376.55 L207.99,377.65 L208.50,378.80 L209.01,380.04 L209.53,381.39 L210.05,382.82 L210.58,384.29 L211.10,385.77 L211.62,387.23 L212.12,388.63 L212.60,389.95 L213.06,391.15 L213.50,392.20 L213.90,393.10 L214.26,393.88 L214.59,394.57 L214.90,395.18 L215.20,395.72 L215.50,396.21 L215.81,396.67 L216.14,397.11 L216.50,397.55 L216.90,398.00 L217.34,398.44 L217.80,398.82 L218.28,399.17 L218.78,399.49 L219.30,399.79 L219.82,400.10 L220.35,400.40 L220.87,400.73 L221.39,401.10 L221.90,401.50 L222.42,401.97 L222.98,402.50 L223.56,403.07 L224.14,403.67 L224.71,404.27 L225.26,404.85 L225.77,405.39 L226.22,405.88 L226.60,406.29 L226.90,406.60 L226.90,424.60 L226.60,423.98 L226.22,423.17 L225.77,422.20 L225.26,421.11 L224.71,419.96 L224.14,418.77 L223.56,417.58 L222.98,416.45 L222.42,415.41 L221.90,414.50 L221.39,413.70 L220.87,412.96 L220.35,412.26 L219.82,411.61 L219.30,410.98 L218.78,410.38 L218.28,409.79 L217.80,409.20 L217.34,408.61 L216.90,408.00 L216.50,407.43 L216.14,406.92 L215.81,406.45 L215.50,405.99 L215.20,405.53 L214.90,405.03 L214.59,404.48 L214.26,403.84 L213.90,403.08 L213.50,402.20 L213.06,401.15 L212.60,399.95 L212.12,398.63 L211.62,397.23 L211.10,395.77 L210.58,394.29 L210.05,392.82 L209.53,391.39 L209.01,390.04 L208.50,388.80 L207.99,387.65 L207.48,386.55 L206.95,385.49 L206.43,384.46 L205.91,383.47 L205.39,382.50 L204.89,381.54 L204.40,380.59 L203.94,379.65 L203.50,378.70 L203.09,377.74 L202.70,376.77 L202.32,375.80 L201.97,374.84 L201.62,373.89 L201.29,372.98 L200.97,372.10 L200.64,371.27 L200.32,370.50 L200.00,369.80 L199.68,369.18 L199.38,368.66 L199.08,368.20 L198.79,367.79 L198.51,367.41 L198.22,367.05 L197.93,366.69 L197.63,366.30 L197.32,365.88 L197.00,365.40 L196.66,364.87 L196.31,364.33 L195.95,363.76 L195.59,363.18 L195.22,362.58 L194.85,361.98 L194.48,361.36 L194.11,360.74 L193.75,360.12 L193.40,359.50 L193.06,358.89 L192.72,358.29 L192.39,357.70 L192.06,357.11 L191.74,356.51 L191.41,355.88 L191.09,355.23 L190.76,354.53 L190.43,353.79 L190.10,353.00 L189.76,352.15 L189.42,351.26 L189.08,350.33 L188.74,349.36 L188.40,348.36 L188.06,347.33 L187.72,346.27 L187.38,345.20 L187.04,344.10 L186.70,343.00 L186.37,341.84 L186.04,340.60 L185.71,339.31 L185.38,337.98 L185.05,336.65 L184.72,335.34 L184.39,334.07 L184.06,332.88 L183.73,331.78 L183.40,330.80 L183.06,329.94 L182.71,329.16 L182.36,328.46 L182.00,327.82 L181.65,327.24 L181.30,326.70 L180.96,326.20 L180.62,325.72 L180.30,325.26 L180.00,324.80 L179.71,324.35 L179.44,323.93 L179.18,323.53 L178.94,323.16 L178.69,322.82 L178.46,322.51 L178.22,322.23 L177.99,321.98 L177.75,321.77 L177.50,321.60 L177.26,321.45 L177.04,321.32 L176.84,321.22 L176.63,321.14 L176.42,321.11 L176.19,321.11 L175.95,321.17 L175.67,321.28 L175.36,321.46 L175.00,321.70 L174.59,322.01 L174.15,322.37 L173.67,322.78 L173.16,323.25 L172.62,323.77 L172.07,324.34 L171.51,324.98 L170.94,325.66 L170.37,326.40 L169.80,327.20 L169.22,328.11 L168.62,329.15 L168.01,330.29 L167.38,331.50 L166.75,332.74 L166.12,333.98 L165.49,335.18 L164.88,336.31 L164.28,337.33 L163.70,338.20 L163.14,338.97 L162.59,339.68 L162.05,340.34 L161.52,340.95 L160.99,341.48 L160.48,341.95 L159.97,342.34 L159.47,342.64 L158.98,342.87 L158.50,343.00 L158.03,343.01 L157.58,342.88 L157.15,342.63 L156.72,342.30 L156.30,341.91 L155.88,341.48 L155.45,341.04 L155.02,340.61 L154.57,340.23 L154.10,339.90 L153.62,339.59 L153.13,339.22 L152.63,338.84 L152.12,338.45 L151.61,338.09 L151.08,337.76 L150.55,337.50 L150.01,337.32 L149.46,337.25 L148.90,337.30 L148.32,337.47 L147.71,337.73 L147.08,338.07 L146.44,338.49 L145.79,338.99 L145.15,339.55 L144.53,340.18 L143.92,340.87 L143.34,341.61 L142.80,342.40 L142.29,343.25 L141.80,344.17 L141.32,345.16 L140.86,346.22 L140.42,347.33 L140.00,348.49 L139.60,349.70 L139.22,350.96 L138.85,352.26 L138.50,353.60 L138.19,355.03 L137.94,356.60 L137.73,358.26 L137.54,359.99 L137.36,361.73 L137.17,363.46 L136.96,365.14 L136.70,366.73 L136.39,368.20 L136.00,369.50 L135.54,370.65 L135.02,371.69 L134.46,372.63 L133.86,373.49 L133.23,374.29 L132.57,375.03 L131.90,375.74 L131.23,376.43 L130.56,377.11 L129.90,377.80 L129.25,378.49 L128.60,379.16 L127.95,379.81 L127.28,380.43 L126.61,381.03 L125.93,381.59 L125.23,382.12 L124.51,382.62 L123.77,383.08 L123.00,383.50 L122.20,383.88 L121.38,384.21 L120.52,384.51 L119.65,384.78 L118.76,385.01 L117.87,385.21 L116.97,385.39 L116.07,385.54 L115.18,385.68 L114.30,385.80 L113.43,385.90 L112.56,385.97 L111.69,386.01 L110.82,386.03 L109.95,386.03 L109.08,386.01 L108.21,385.98 L107.34,385.93 L106.47,385.87 L105.60,385.80 L104.72,385.72 L103.83,385.63 L102.94,385.52 L102.04,385.40 L101.14,385.26 L100.26,385.11 L99.39,384.95 L98.53,384.78 L97.70,384.59 L96.90,384.40 L96.12,384.18 L95.35,383.94 L94.59,383.68 L93.85,383.40 L93.13,383.12 L92.42,382.83 L91.75,382.55 L91.10,382.28 L90.48,382.03 L89.90,381.80 L89.36,381.57 L88.87,381.33 L88.41,381.08 L87.99,380.84 L87.59,380.61 L87.20,380.41 L86.81,380.25 L86.42,380.14 L86.02,380.08 L85.60,380.10 L85.16,380.17 L84.72,380.27 L84.28,380.40 L83.84,380.58 L83.40,380.81 L82.96,381.09 L82.52,381.43 L82.08,381.85 L81.64,382.33 L81.20,382.90 L80.76,383.54 L80.32,384.24 L79.88,385.00 L79.43,385.82 L78.99,386.72 L78.56,387.68 L78.13,388.72 L77.71,389.83 L77.30,391.03 L76.90,392.30 L76.51,393.68 L76.13,395.19 L75.76,396.80 L75.40,398.50 L75.04,400.25 L74.70,402.04 L74.36,403.86 L74.03,405.67 L73.71,407.46 L73.40,409.20 L73.10,410.93 L72.82,412.70 L72.55,414.48 L72.30,416.27 L72.04,418.06 L71.80,419.83 L71.55,421.58 L71.31,423.30 L71.06,424.98 L70.80,426.60 L70.54,428.19 L70.28,429.78 L70.02,431.35 L69.76,432.89 L69.50,434.40 L69.24,435.86 L68.98,437.26 L68.72,438.59 L68.46,439.84 L68.20,441.00 L67.95,442.07 L67.72,443.05 L67.51,443.97 L67.29,444.81 L67.07,445.59 L66.83,446.32 L66.58,447.00 L66.29,447.63 L65.97,448.23 L65.60,448.80 L65.19,449.32 L64.74,449.79 L64.26,450.20 L63.75,450.57 L63.22,450.89 L62.66,451.18 L62.09,451.44 L61.51,451.68 L60.91,451.90 L60.30,452.10 L59.68,452.27 L59.06,452.39 L58.42,452.47 L57.76,452.52 L57.09,452.55 L56.40,452.57 L55.68,452.60 L54.95,452.64 L54.19,452.70 L53.40,452.80 L52.54,452.94 L51.58,453.10 L50.55,453.29 L49.48,453.49 L48.42,453.69 L47.39,453.89 L46.43,454.08 L45.57,454.25 L44.85,454.39 L44.30,454.50 Z" fill="#7165bb" fill-opacity="0.5"/><path d="M44.30,444.60 L44.84,444.61 L45.52,444.62 L46.32,444.65 L47.22,444.67 L48.20,444.69 L49.23,444.71 L50.29,444.71 L51.35,444.70 L52.40,444.66 L53.40,444.60 L54.40,444.52 L55.45,444.43 L56.53,444.32 L57.63,444.20 L58.73,444.07 L59.82,443.92 L60.89,443.74 L61.92,443.55 L62.89,443.34 L63.80,443.10 L64.63,442.84 L65.39,442.56 L66.10,442.27 L66.76,441.95 L67.41,441.61 L68.04,441.25 L68.68,440.87 L69.35,440.47 L70.05,440.05 L70.80,439.60 L71.60,439.13 L72.43,438.64 L73.29,438.13 L74.16,437.60 L75.04,437.05 L75.94,436.47 L76.84,435.87 L77.73,435.24 L78.62,434.59 L79.50,433.90 L80.38,433.17 L81.27,432.37 L82.17,431.53 L83.07,430.66 L83.96,429.77 L84.85,428.89 L85.72,428.01 L86.58,427.16 L87.40,426.35 L88.20,425.60 L88.96,424.89 L89.69,424.22 L90.39,423.56 L91.07,422.93 L91.73,422.32 L92.39,421.73 L93.05,421.16 L93.72,420.60 L94.40,420.04 L95.10,419.50 L95.82,418.97 L96.56,418.44 L97.31,417.94 L98.07,417.44 L98.82,416.96 L99.58,416.50 L100.33,416.05 L101.07,415.62 L101.79,415.20 L102.50,414.80 L103.19,414.42 L103.86,414.07 L104.53,413.74 L105.18,413.42 L105.83,413.12 L106.47,412.83 L107.11,412.54 L107.74,412.26 L108.37,411.98 L109.00,411.70 L109.63,411.44 L110.27,411.21 L110.91,411.01 L111.55,410.81 L112.18,410.61 L112.80,410.40 L113.41,410.15 L114.00,409.86 L114.56,409.52 L115.10,409.10 L115.61,408.64 L116.08,408.17 L116.52,407.67 L116.94,407.13 L117.36,406.55 L117.76,405.91 L118.17,405.21 L118.60,404.43 L119.04,403.56 L119.50,402.60 L119.99,401.53 L120.49,400.36 L121.00,399.09 L121.52,397.75 L122.05,396.35 L122.58,394.89 L123.11,393.40 L123.65,391.88 L124.18,390.34 L124.70,388.80 L125.22,387.21 L125.73,385.52 L126.23,383.77 L126.74,381.98 L127.24,380.17 L127.76,378.38 L128.27,376.63 L128.80,374.95 L129.34,373.36 L129.90,371.90 L130.47,370.55 L131.06,369.27 L131.67,368.05 L132.28,366.90 L132.90,365.80 L133.52,364.76 L134.15,363.76 L134.77,362.80 L135.39,361.88 L136.00,361.00 L136.60,360.19 L137.19,359.47 L137.78,358.84 L138.36,358.25 L138.95,357.69 L139.54,357.14 L140.14,356.57 L140.74,355.95 L141.36,355.27 L142.00,354.50 L142.66,353.62 L143.35,352.64 L144.05,351.59 L144.77,350.50 L145.49,349.39 L146.20,348.29 L146.91,347.22 L147.60,346.22 L148.27,345.30 L148.90,344.50 L149.51,343.80 L150.09,343.17 L150.66,342.59 L151.22,342.08 L151.76,341.61 L152.28,341.18 L152.80,340.79 L153.31,340.44 L153.81,340.11 L154.30,339.80 L154.77,339.53 L155.22,339.30 L155.64,339.12 L156.05,338.97 L156.46,338.86 L156.87,338.76 L157.29,338.69 L157.73,338.62 L158.20,338.56 L158.70,338.50 L159.25,338.44 L159.83,338.40 L160.43,338.36 L161.06,338.34 L161.70,338.34 L162.34,338.34 L162.98,338.36 L163.61,338.40 L164.22,338.44 L164.80,338.50 L165.36,338.57 L165.90,338.65 L166.43,338.74 L166.94,338.84 L167.46,338.96 L167.96,339.10 L168.47,339.24 L168.97,339.41 L169.48,339.60 L170.00,339.80 L170.52,340.03 L171.04,340.27 L171.56,340.54 L172.08,340.82 L172.60,341.12 L173.12,341.43 L173.64,341.76 L174.16,342.10 L174.68,342.44 L175.20,342.80 L175.73,343.19 L176.28,343.64 L176.84,344.13 L177.40,344.64 L177.96,345.14 L178.51,345.63 L179.03,346.08 L179.53,346.47 L179.99,346.78 L180.40,347.00 L180.76,347.14 L181.07,347.24 L181.34,347.29 L181.58,347.30 L181.81,347.24 L182.02,347.14 L182.24,346.97 L182.46,346.75 L182.72,346.46 L183.00,346.10 L183.31,345.65 L183.64,345.09 L183.98,344.45 L184.34,343.73 L184.69,342.98 L185.06,342.19 L185.42,341.40 L185.79,340.62 L186.15,339.88 L186.50,339.20 L186.84,338.57 L187.17,337.98 L187.50,337.42 L187.82,336.86 L188.14,336.31 L188.48,335.74 L188.83,335.15 L189.19,334.52 L189.58,333.84 L190.00,333.10 L190.46,332.26 L190.96,331.33 L191.49,330.32 L192.05,329.27 L192.61,328.20 L193.18,327.15 L193.73,326.15 L194.25,325.22 L194.75,324.39 L195.20,323.70 L195.60,323.16 L195.95,322.74 L196.28,322.42 L196.58,322.17 L196.86,321.98 L197.15,321.80 L197.44,321.62 L197.76,321.41 L198.11,321.15 L198.50,320.80 L198.93,320.41 L199.39,320.02 L199.88,319.62 L200.38,319.20 L200.89,318.75 L201.42,318.27 L201.95,317.74 L202.47,317.16 L202.99,316.52 L203.50,315.80 L204.00,314.99 L204.49,314.09 L204.97,313.12 L205.46,312.08 L205.94,311.01 L206.44,309.92 L206.93,308.82 L207.44,307.74 L207.96,306.70 L208.50,305.70 L209.06,304.69 L209.65,303.62 L210.26,302.52 L210.88,301.42 L211.50,300.34 L212.12,299.33 L212.73,298.41 L213.31,297.61 L213.87,296.96 L214.40,296.50 L214.89,296.22 L215.34,296.08 L215.76,296.07 L216.16,296.18 L216.56,296.39 L216.94,296.69 L217.33,297.06 L217.74,297.50 L218.16,297.98 L218.60,298.50 L219.07,299.10 L219.56,299.82 L220.07,300.65 L220.58,301.54 L221.10,302.49 L221.62,303.46 L222.13,304.43 L222.64,305.38 L223.13,306.28 L223.60,307.10 L224.07,307.90 L224.56,308.71 L225.05,309.54 L225.54,310.35 L226.01,311.14 L226.46,311.88 L226.87,312.56 L227.24,313.17 L227.55,313.69 L227.80,314.10 L227.80,336.10 L227.55,335.32 L227.24,334.31 L226.87,333.11 L226.46,331.77 L226.01,330.33 L225.54,328.82 L225.05,327.31 L224.56,325.82 L224.07,324.40 L223.60,323.10 L223.13,321.84 L222.64,320.55 L222.13,319.25 L221.62,317.95 L221.10,316.68 L220.58,315.45 L220.07,314.30 L219.56,313.25 L219.07,312.31 L218.60,311.50 L218.16,310.80 L217.74,310.15 L217.33,309.58 L216.94,309.10 L216.56,308.70 L216.16,308.41 L215.76,308.23 L215.34,308.18 L214.89,308.27 L214.40,308.50 L213.87,308.92 L213.31,309.54 L212.73,310.33 L212.12,311.26 L211.50,312.28 L210.88,313.37 L210.26,314.49 L209.65,315.61 L209.06,316.69 L208.50,317.70 L207.96,318.69 L207.44,319.73 L206.93,320.81 L206.44,321.89 L205.94,322.97 L205.46,324.04 L204.97,325.07 L204.49,326.05 L204.00,326.97 L203.50,327.80 L202.99,328.55 L202.47,329.25 L201.95,329.90 L201.42,330.49 L200.89,331.05 L200.38,331.57 L199.88,332.06 L199.39,332.52 L198.93,332.97 L198.50,333.40 L198.11,333.77 L197.76,334.04 L197.44,334.25 L197.15,334.42 L196.86,334.59 L196.58,334.77 L196.28,335.01 L195.95,335.32 L195.60,335.74 L195.20,336.30 L194.75,337.02 L194.25,337.88 L193.73,338.85 L193.18,339.90 L192.61,341.00 L192.05,342.12 L191.49,343.21 L190.96,344.27 L190.46,345.24 L190.00,346.10 L189.58,346.85 L189.19,347.52 L188.83,348.13 L188.48,348.70 L188.14,349.24 L187.82,349.77 L187.50,350.32 L187.17,350.89 L186.84,351.51 L186.50,352.20 L186.15,352.98 L185.79,353.86 L185.42,354.79 L185.06,355.76 L184.69,356.74 L184.34,357.68 L183.98,358.57 L183.64,359.38 L183.31,360.06 L183.00,360.60 L182.72,361.00 L182.46,361.31 L182.24,361.53 L182.02,361.66 L181.81,361.73 L181.58,361.74 L181.34,361.69 L181.07,361.59 L180.76,361.46 L180.40,361.30 L179.99,361.08 L179.53,360.77 L179.03,360.39 L178.51,359.95 L177.96,359.48 L177.40,358.99 L176.84,358.50 L176.28,358.03 L175.73,357.59 L175.20,357.20 L174.68,356.85 L174.16,356.50 L173.64,356.17 L173.12,355.84 L172.60,355.52 L172.08,355.22 L171.56,354.94 L171.04,354.67 L170.52,354.43 L170.00,354.20 L169.48,354.00 L168.97,353.81 L168.47,353.64 L167.96,353.50 L167.46,353.36 L166.94,353.24 L166.43,353.14 L165.90,353.05 L165.36,352.97 L164.80,352.90 L164.22,352.84 L163.61,352.80 L162.98,352.76 L162.34,352.74 L161.70,352.74 L161.06,352.74 L160.43,352.76 L159.83,352.80 L159.25,352.84 L158.70,352.90 L158.20,352.96 L157.73,353.03 L157.29,353.10 L156.87,353.18 L156.46,353.28 L156.05,353.40 L155.64,353.55 L155.22,353.73 L154.77,353.94 L154.30,354.20 L153.81,354.50 L153.31,354.82 L152.80,355.18 L152.28,355.57 L151.76,355.99 L151.22,356.44 L150.66,356.92 L150.09,357.42 L149.51,357.95 L148.90,358.50 L148.27,359.11 L147.60,359.78 L146.91,360.51 L146.20,361.27 L145.49,362.05 L144.77,362.82 L144.05,363.57 L143.35,364.28 L142.66,364.93 L142.00,365.50 L141.36,365.96 L140.74,366.32 L140.14,366.61 L139.54,366.84 L138.95,367.07 L138.36,367.31 L137.78,367.59 L137.19,367.95 L136.60,368.41 L136.00,369.00 L135.39,369.69 L134.77,370.44 L134.15,371.25 L133.52,372.12 L132.90,373.05 L132.28,374.06 L131.67,375.14 L131.06,376.31 L130.47,377.56 L129.90,378.90 L129.34,380.38 L128.80,382.00 L128.27,383.75 L127.76,385.58 L127.24,387.48 L126.74,389.41 L126.23,391.33 L125.73,393.23 L125.22,395.06 L124.70,396.80 L124.18,398.50 L123.65,400.23 L123.11,401.96 L122.58,403.67 L122.05,405.35 L121.52,406.98 L121.00,408.54 L120.49,410.00 L119.99,411.37 L119.50,412.60 L119.04,413.71 L118.60,414.71 L118.17,415.61 L117.76,416.43 L117.36,417.18 L116.94,417.85 L116.52,418.47 L116.08,419.05 L115.61,419.59 L115.10,420.10 L114.56,420.56 L114.00,420.93 L113.41,421.22 L112.80,421.47 L112.18,421.67 L111.55,421.86 L110.91,422.04 L110.27,422.23 L109.63,422.44 L109.00,422.70 L108.37,422.98 L107.74,423.26 L107.11,423.54 L106.47,423.83 L105.83,424.12 L105.18,424.42 L104.53,424.74 L103.86,425.07 L103.19,425.42 L102.50,425.80 L101.79,426.20 L101.07,426.62 L100.33,427.05 L99.58,427.50 L98.82,427.96 L98.07,428.44 L97.31,428.94 L96.56,429.44 L95.82,429.97 L95.10,430.50 L94.40,431.05 L93.72,431.61 L93.05,432.19 L92.39,432.78 L91.73,433.39 L91.07,434.01 L90.39,434.64 L89.69,435.28 L88.96,435.94 L88.20,436.60 L87.40,437.29 L86.58,438.02 L85.72,438.78 L84.85,439.56 L83.96,440.34 L83.07,441.11 L82.17,441.86 L81.27,442.59 L80.38,443.27 L79.50,443.90 L78.62,444.49 L77.73,445.04 L76.84,445.57 L75.94,446.07 L75.04,446.55 L74.16,447.00 L73.29,447.43 L72.43,447.84 L71.60,448.23 L70.80,448.60 L70.05,448.95 L69.35,449.27 L68.68,449.57 L68.04,449.85 L67.41,450.11 L66.76,450.35 L66.10,450.57 L65.39,450.76 L64.63,450.94 L63.80,451.10 L62.89,451.23 L61.92,451.34 L60.89,451.41 L59.82,451.47 L58.73,451.51 L57.63,451.53 L56.53,451.55 L55.45,451.56 L54.40,451.58 L53.40,451.60 L52.40,451.62 L51.35,451.63 L50.29,451.64 L49.23,451.64 L48.20,451.63 L47.22,451.62 L46.32,451.62 L45.52,451.61 L44.84,451.60 L44.30,451.60 Z" fill="#698441" fill-opacity="0.4"/><path d="M44.30,448.50 L44.85,448.52 L45.57,448.56 L46.43,448.60 L47.39,448.65 L48.42,448.69 L49.48,448.74 L50.55,448.77 L51.58,448.80 L52.54,448.81 L53.40,448.80 L54.19,448.78 L54.95,448.76 L55.68,448.73 L56.40,448.69 L57.09,448.64 L57.76,448.58 L58.42,448.50 L59.06,448.39 L59.68,448.26 L60.30,448.10 L60.91,447.93 L61.51,447.75 L62.09,447.56 L62.66,447.35 L63.22,447.11 L63.75,446.84 L64.26,446.54 L64.74,446.18 L65.19,445.77 L65.60,445.30 L65.97,444.78 L66.29,444.23 L66.58,443.65 L66.83,443.02 L67.07,442.34 L67.29,441.61 L67.51,440.82 L67.72,439.95 L67.95,439.02 L68.20,438.00 L68.46,436.89 L68.72,435.70 L68.98,434.43 L69.24,433.08 L69.50,431.68 L69.76,430.23 L70.02,428.74 L70.28,427.21 L70.54,425.66 L70.80,424.10 L71.06,422.50 L71.31,420.84 L71.55,419.14 L71.80,417.39 L72.04,415.62 L72.30,413.83 L72.55,412.03 L72.82,410.24 L73.10,408.46 L73.40,406.70 L73.71,404.93 L74.03,403.11 L74.36,401.26 L74.70,399.40 L75.04,397.56 L75.40,395.76 L75.76,394.01 L76.13,392.33 L76.51,390.76 L76.90,389.30 L77.30,387.95 L77.71,386.67 L78.13,385.46 L78.56,384.32 L78.99,383.25 L79.43,382.25 L79.88,381.31 L80.32,380.45 L80.76,379.64 L81.20,378.90 L81.64,378.23 L82.08,377.64 L82.52,377.12 L82.96,376.66 L83.40,376.27 L83.84,375.94 L84.28,375.66 L84.72,375.43 L85.16,375.25 L85.60,375.10 L86.02,375.01 L86.42,375.00 L86.81,375.05 L87.20,375.15 L87.59,375.30 L87.99,375.48 L88.41,375.68 L88.87,375.89 L89.36,376.10 L89.90,376.30 L90.48,376.51 L91.10,376.75 L91.75,377.01 L92.42,377.30 L93.13,377.59 L93.85,377.88 L94.59,378.16 L95.35,378.43 L96.12,378.68 L96.90,378.90 L97.70,379.09 L98.53,379.28 L99.39,379.45 L100.26,379.61 L101.14,379.76 L102.04,379.90 L102.94,380.02 L103.83,380.13 L104.72,380.22 L105.60,380.30 L106.47,380.37 L107.34,380.43 L108.21,380.48 L109.08,380.51 L109.95,380.53 L110.82,380.53 L111.69,380.51 L112.56,380.47 L113.43,380.40 L114.30,380.30 L115.18,380.18 L116.07,380.03 L116.97,379.87 L117.87,379.68 L118.76,379.48 L119.65,379.24 L120.52,378.98 L121.38,378.68 L122.20,378.36 L123.00,378.00 L123.77,377.61 L124.51,377.19 L125.23,376.74 L125.93,376.25 L126.61,375.74 L127.28,375.21 L127.95,374.64 L128.60,374.05 L129.25,373.44 L129.90,372.80 L130.56,372.16 L131.23,371.53 L131.90,370.89 L132.57,370.23 L133.23,369.54 L133.86,368.79 L134.46,367.98 L135.02,367.09 L135.54,366.10 L136.00,365.00 L136.39,363.75 L136.70,362.36 L136.96,360.84 L137.17,359.23 L137.36,357.57 L137.54,355.89 L137.73,354.22 L137.94,352.60 L138.19,351.04 L138.50,349.60 L138.85,348.22 L139.22,346.85 L139.60,345.50 L140.00,344.17 L140.42,342.89 L140.86,341.65 L141.32,340.47 L141.80,339.37 L142.29,338.34 L142.80,337.40 L143.34,336.54 L143.92,335.73 L144.53,334.99 L145.15,334.32 L145.79,333.71 L146.44,333.17 L147.08,332.71 L147.71,332.32 L148.32,332.02 L148.90,331.80 L149.46,331.70 L150.01,331.72 L150.55,331.85 L151.08,332.06 L151.61,332.34 L152.12,332.65 L152.63,332.99 L153.13,333.32 L153.62,333.64 L154.10,333.90 L154.57,334.17 L155.02,334.50 L155.45,334.86 L155.88,335.24 L156.30,335.60 L156.72,335.93 L157.15,336.21 L157.58,336.41 L158.03,336.52 L158.50,336.50 L158.98,336.38 L159.47,336.18 L159.97,335.91 L160.48,335.57 L160.99,335.17 L161.52,334.70 L162.05,334.16 L162.59,333.57 L163.14,332.91 L163.70,332.20 L164.28,331.39 L164.88,330.45 L165.49,329.41 L166.12,328.30 L166.75,327.15 L167.38,325.98 L168.01,324.82 L168.62,323.71 L169.22,322.66 L169.80,321.70 L170.37,320.80 L170.94,319.91 L171.51,319.03 L172.07,318.18 L172.62,317.36 L173.16,316.60 L173.67,315.89 L174.15,315.24 L174.59,314.68 L175.00,314.20 L175.36,313.81 L175.67,313.49 L175.95,313.25 L176.19,313.07 L176.42,312.95 L176.63,312.89 L176.84,312.88 L177.04,312.91 L177.26,312.99 L177.50,313.10 L177.75,313.25 L177.99,313.43 L178.22,313.66 L178.46,313.93 L178.69,314.26 L178.94,314.64 L179.18,315.08 L179.44,315.58 L179.71,316.15 L180.00,316.80 L180.30,317.54 L180.62,318.37 L180.96,319.28 L181.30,320.26 L181.65,321.30 L182.00,322.38 L182.36,323.48 L182.71,324.59 L183.06,325.70 L183.40,326.80 L183.73,327.91 L184.06,329.07 L184.39,330.25 L184.72,331.46 L185.05,332.68 L185.38,333.90 L185.71,335.10 L186.04,336.27 L186.37,337.41 L186.70,338.50 L187.04,339.55 L187.38,340.59 L187.72,341.61 L188.06,342.60 L188.40,343.57 L188.74,344.52 L189.08,345.44 L189.42,346.33 L189.76,347.18 L190.10,348.00 L190.43,348.77 L190.76,349.50 L191.09,350.19 L191.41,350.84 L191.74,351.47 L192.06,352.09 L192.39,352.69 L192.72,353.29 L193.06,353.89 L193.40,354.50 L193.75,355.12 L194.11,355.74 L194.48,356.36 L194.85,356.98 L195.22,357.58 L195.59,358.18 L195.95,358.76 L196.31,359.33 L196.66,359.87 L197.00,360.40 L197.32,360.88 L197.63,361.30 L197.93,361.69 L198.22,362.05 L198.51,362.41 L198.79,362.79 L199.08,363.20 L199.38,363.66 L199.68,364.18 L200.00,364.80 L200.32,365.50 L200.64,366.27 L200.97,367.10 L201.29,367.98 L201.62,368.89 L201.97,369.84 L202.32,370.80 L202.70,371.77 L203.09,372.74 L203.50,373.70 L203.94,374.65 L204.40,375.59 L204.89,376.54 L205.39,377.50 L205.91,378.47 L206.43,379.46 L206.95,380.49 L207.48,381.55 L207.99,382.65 L208.50,383.80 L209.01,385.04 L209.53,386.39 L210.05,387.82 L210.58,389.29 L211.10,390.77 L211.62,392.23 L212.12,393.63 L212.60,394.95 L213.06,396.15 L213.50,397.20 L213.90,398.09 L214.26,398.86 L214.59,399.52 L214.90,400.11 L215.20,400.62 L215.50,401.10 L215.81,401.56 L216.14,402.01 L216.50,402.49 L216.90,403.00 L217.34,403.52 L217.80,404.01 L218.28,404.48 L218.78,404.93 L219.30,405.39 L219.82,405.85 L220.35,406.33 L220.87,406.85 L221.39,407.40 L221.90,408.00 L222.42,408.69 L222.98,409.48 L223.56,410.33 L224.14,411.22 L224.71,412.11 L225.26,412.98 L225.77,413.80 L226.22,414.52 L226.60,415.14 L226.90,415.60" stroke="#2f358c" stroke-width="1.9" fill="none" stroke-linejoin="round" stroke-linecap="round"/><path d="M44.30,447.60 L44.84,447.64 L45.52,447.69 L46.32,447.76 L47.22,447.84 L48.20,447.91 L49.23,447.98 L50.29,448.04 L51.35,448.09 L52.40,448.11 L53.40,448.10 L54.40,448.07 L55.45,448.03 L56.53,447.97 L57.63,447.90 L58.73,447.82 L59.82,447.72 L60.89,447.59 L61.92,447.45 L62.89,447.29 L63.80,447.10 L64.63,446.89 L65.39,446.66 L66.10,446.42 L66.76,446.15 L67.41,445.86 L68.04,445.55 L68.68,445.22 L69.35,444.87 L70.05,444.50 L70.80,444.10 L71.60,443.68 L72.43,443.24 L73.29,442.78 L74.16,442.30 L75.04,441.80 L75.94,441.27 L76.84,440.72 L77.73,440.14 L78.62,439.54 L79.50,438.90 L80.38,438.22 L81.27,437.48 L82.17,436.70 L83.07,435.89 L83.96,435.06 L84.85,434.22 L85.72,433.40 L86.58,432.59 L87.40,431.82 L88.20,431.10 L88.96,430.41 L89.69,429.75 L90.39,429.10 L91.07,428.47 L91.73,427.86 L92.39,427.26 L93.05,426.67 L93.72,426.10 L94.40,425.55 L95.10,425.00 L95.82,424.47 L96.56,423.94 L97.31,423.44 L98.07,422.94 L98.82,422.46 L99.58,422.00 L100.33,421.55 L101.07,421.12 L101.79,420.70 L102.50,420.30 L103.19,419.92 L103.86,419.57 L104.53,419.24 L105.18,418.92 L105.83,418.62 L106.47,418.33 L107.11,418.04 L107.74,417.76 L108.37,417.48 L109.00,417.20 L109.63,416.94 L110.27,416.72 L110.91,416.52 L111.55,416.34 L112.18,416.14 L112.80,415.93 L113.41,415.69 L114.00,415.39 L114.56,415.04 L115.10,414.60 L115.61,414.11 L116.08,413.61 L116.52,413.07 L116.94,412.49 L117.36,411.86 L117.76,411.17 L118.17,410.41 L118.60,409.57 L119.04,408.64 L119.50,407.60 L119.99,406.45 L120.49,405.18 L121.00,403.82 L121.52,402.37 L122.05,400.85 L122.58,399.28 L123.11,397.68 L123.65,396.05 L124.18,394.42 L124.70,392.80 L125.22,391.13 L125.73,389.37 L126.23,387.55 L126.74,385.69 L127.24,383.83 L127.76,381.98 L128.27,380.19 L128.80,378.47 L129.34,376.87 L129.90,375.40 L130.47,374.05 L131.06,372.79 L131.67,371.60 L132.28,370.48 L132.90,369.42 L133.52,368.44 L134.15,367.50 L134.77,366.62 L135.39,365.79 L136.00,365.00 L136.60,364.30 L137.19,363.71 L137.78,363.21 L138.36,362.78 L138.95,362.38 L139.54,361.99 L140.14,361.59 L140.74,361.14 L141.36,360.62 L142.00,360.00 L142.66,359.27 L143.35,358.46 L144.05,357.58 L144.77,356.66 L145.49,355.72 L146.20,354.78 L146.91,353.87 L147.60,353.00 L148.27,352.20 L148.90,351.50 L149.51,350.87 L150.09,350.29 L150.66,349.76 L151.22,349.26 L151.76,348.80 L152.28,348.38 L152.80,347.99 L153.31,347.63 L153.81,347.30 L154.30,347.00 L154.77,346.73 L155.22,346.51 L155.64,346.33 L156.05,346.19 L156.46,346.07 L156.87,345.97 L157.29,345.89 L157.73,345.83 L158.20,345.76 L158.70,345.70 L159.25,345.64 L159.83,345.60 L160.43,345.56 L161.06,345.54 L161.70,345.54 L162.34,345.54 L162.98,345.56 L163.61,345.60 L164.22,345.64 L164.80,345.70 L165.36,345.77 L165.90,345.85 L166.43,345.94 L166.94,346.04 L167.46,346.16 L167.96,346.30 L168.47,346.44 L168.97,346.61 L169.48,346.80 L170.00,347.00 L170.52,347.23 L171.04,347.49 L171.56,347.77 L172.08,348.06 L172.60,348.38 L173.12,348.70 L173.64,349.02 L174.16,349.35 L174.68,349.68 L175.20,350.00 L175.73,350.34 L176.28,350.70 L176.84,351.09 L177.40,351.49 L177.96,351.88 L178.51,352.25 L179.03,352.59 L179.53,352.89 L179.99,353.13 L180.40,353.30 L180.76,353.42 L181.07,353.52 L181.34,353.58 L181.58,353.61 L181.81,353.59 L182.02,353.52 L182.24,353.39 L182.46,353.20 L182.72,352.94 L183.00,352.60 L183.31,352.16 L183.64,351.60 L183.98,350.96 L184.34,350.25 L184.69,349.49 L185.06,348.70 L185.42,347.91 L185.79,347.13 L186.15,346.39 L186.50,345.70 L186.84,345.07 L187.17,344.48 L187.50,343.92 L187.82,343.37 L188.14,342.82 L188.48,342.25 L188.83,341.66 L189.19,341.03 L189.58,340.35 L190.00,339.60 L190.46,338.75 L190.96,337.80 L191.49,336.77 L192.05,335.69 L192.61,334.60 L193.18,333.53 L193.73,332.50 L194.25,331.55 L194.75,330.70 L195.20,330.00 L195.60,329.45 L195.95,329.03 L196.28,328.71 L196.58,328.47 L196.86,328.28 L197.15,328.11 L197.44,327.94 L197.76,327.73 L198.11,327.46 L198.50,327.10 L198.93,326.69 L199.39,326.27 L199.88,325.84 L200.38,325.38 L200.89,324.90 L201.42,324.38 L201.95,323.82 L202.47,323.21 L202.99,322.54 L203.50,321.80 L204.00,320.98 L204.49,320.07 L204.97,319.09 L205.46,318.06 L205.94,316.99 L206.44,315.91 L206.93,314.82 L207.44,313.74 L207.96,312.70 L208.50,311.70 L209.06,310.69 L209.65,309.62 L210.26,308.51 L210.88,307.39 L211.50,306.31 L212.12,305.29 L212.73,304.37 L213.31,303.58 L213.87,302.94 L214.40,302.50 L214.89,302.24 L215.34,302.13 L215.76,302.15 L216.16,302.29 L216.56,302.54 L216.94,302.89 L217.33,303.32 L217.74,303.83 L218.16,304.39 L218.60,305.00 L219.07,305.70 L219.56,306.54 L220.07,307.47 L220.58,308.50 L221.10,309.58 L221.62,310.70 L222.13,311.84 L222.64,312.96 L223.13,314.06 L223.60,315.10 L224.07,316.15 L224.56,317.27 L225.05,318.42 L225.54,319.59 L226.01,320.73 L226.46,321.82 L226.87,322.84 L227.24,323.74 L227.55,324.51 L227.80,325.10" stroke="#2b7036" stroke-width="1.8" fill="none" stroke-linejoin="round" stroke-linecap="round"/></g><rect x="36.5" y="282.1" width="198.5" height="173.09999999999997" fill="none" stroke="#2a2a2a" stroke-width="1.5"/><path d="M43.5,455.2 V459.4 M86.5,455.2 V459.4 M129.5,455.2 V459.4 M172.5,455.2 V459.4 M215.5,455.2 V459.4 M36.5,304.5 H32.5 M36.5,333.5 H32.5 M36.5,362.5 H32.5 M36.5,392.5 H32.5 M36.5,421.5 H32.5 M36.5,450.5 H32.5 M235.0,304.5 H239.0 M235.0,333.5 H239.0 M235.0,362.5 H239.0 M235.0,392.5 H239.0 M235.0,421.5 H239.0 M235.0,450.5 H239.0" stroke="#3a3a3a" stroke-width="1" fill="none"/><text x="43.4" y="469.9" font-size="8.5" text-anchor="middle">0</text><text x="86.3" y="469.9" font-size="8.5" text-anchor="middle">20</text><text x="129.2" y="469.9" font-size="8.5" text-anchor="middle">40</text><text x="172.1" y="469.9" font-size="8.5" text-anchor="middle">60</text><text x="215.0" y="469.9" font-size="8.5" text-anchor="middle">80</text><text transform="translate(27.7,304.3) rotate(-90)" font-size="8.5" text-anchor="middle">380</text><text transform="translate(27.7,333.6) rotate(-90)" font-size="8.5" text-anchor="middle">360</text><text transform="translate(27.7,362.9) rotate(-90)" font-size="8.5" text-anchor="middle">340</text><text transform="translate(27.7,392.2) rotate(-90)" font-size="8.5" text-anchor="middle">320</text><text transform="translate(27.7,421.5) rotate(-90)" font-size="8.5" text-anchor="middle">300</text><text transform="translate(27.7,450.8) rotate(-90)" font-size="8.5" text-anchor="middle">280</text><text transform="translate(246.8,304.3) rotate(-90)" font-size="8.5" text-anchor="middle">11</text><text transform="translate(246.8,333.6) rotate(-90)" font-size="8.5" text-anchor="middle">10</text><text transform="translate(246.8,362.9) rotate(-90)" font-size="8.5" text-anchor="middle">9</text><text transform="translate(246.8,392.2) rotate(-90)" font-size="8.5" text-anchor="middle">8</text><text transform="translate(246.8,421.5) rotate(-90)" font-size="8.5" text-anchor="middle">7</text><text transform="translate(246.8,450.8) rotate(-90)" font-size="8.5" text-anchor="middle">6</text><text x="138.7" y="485.8" font-size="9.3" text-anchor="middle" textLength="119.3" lengthAdjust="spacingAndGlyphs">(c) Mean temperature (°F)</text><text transform="translate(15.1,361.6) rotate(-90)" font-size="9.3" text-anchor="middle" textLength="46" lengthAdjust="spacingAndGlyphs">Barge rate</text><text transform="translate(259.3,361.6) rotate(-90)" font-size="9.3" text-anchor="middle" textLength="82" lengthAdjust="spacingAndGlyphs">Barge productivity</text><clipPath id="clipd"><rect x="344.5" y="282.1" width="199.0" height="173.09999999999997"/></clipPath><path d="M351.5,284.0 V453.2 M408.5,284.0 V453.2 M465.5,284.0 V453.2 M522.5,284.0 V453.2 M346.0,332.5 H541.5 M346.0,382.5 H541.5 M346.0,431.5 H541.5 M346.0,287.5 H541.5 M346.0,320.5 H541.5 M346.0,353.5 H541.5 M346.0,386.5 H541.5 M346.0,419.5 H541.5 M346.0,452.5 H541.5" stroke="#bebebe" stroke-width="1" stroke-dasharray="1 1" fill="none"/><g clip-path="url(#clipd)"><path d="M351.80,299.70 L351.91,301.25 L352.05,303.26 L352.21,305.64 L352.40,308.32 L352.59,311.19 L352.80,314.17 L353.01,317.18 L353.22,320.13 L353.42,322.93 L353.60,325.50 L353.78,327.92 L353.96,330.34 L354.14,332.74 L354.33,335.12 L354.51,337.45 L354.68,339.73 L354.85,341.95 L355.01,344.09 L355.16,346.15 L355.30,348.10 L355.41,349.90 L355.49,351.53 L355.55,353.02 L355.59,354.43 L355.64,355.80 L355.69,357.17 L355.76,358.58 L355.87,360.07 L356.01,361.70 L356.20,363.50 L356.45,365.46 L356.74,367.54 L357.06,369.70 L357.42,371.95 L357.79,374.26 L358.18,376.61 L358.58,378.98 L358.96,381.37 L359.34,383.75 L359.70,386.10 L360.04,388.49 L360.37,390.97 L360.70,393.51 L361.02,396.07 L361.34,398.63 L361.67,401.15 L362.01,403.60 L362.36,405.94 L362.72,408.16 L363.10,410.20 L363.50,412.20 L363.92,414.25 L364.35,416.28 L364.79,418.25 L365.24,420.09 L365.70,421.73 L366.16,423.11 L366.61,424.17 L367.06,424.86 L367.50,425.10 L367.94,424.86 L368.39,424.17 L368.85,423.11 L369.31,421.73 L369.76,420.09 L370.21,418.25 L370.64,416.28 L371.05,414.25 L371.44,412.20 L371.80,410.20 L372.13,408.16 L372.43,405.94 L372.71,403.60 L372.98,401.15 L373.23,398.63 L373.46,396.07 L373.70,393.51 L373.93,390.97 L374.16,388.49 L374.40,386.10 L374.65,383.75 L374.90,381.37 L375.15,378.98 L375.39,376.61 L375.64,374.26 L375.87,371.95 L376.10,369.70 L376.32,367.54 L376.52,365.46 L376.70,363.50 L376.86,361.71 L376.99,360.10 L377.10,358.62 L377.19,357.24 L377.28,355.89 L377.37,354.54 L377.47,353.13 L377.59,351.62 L377.73,349.96 L377.90,348.10 L378.10,346.03 L378.33,343.81 L378.58,341.45 L378.84,339.00 L379.11,336.48 L379.39,333.92 L379.68,331.36 L379.96,328.84 L380.23,326.37 L380.50,324.00 L380.76,321.64 L381.01,319.22 L381.25,316.77 L381.50,314.33 L381.74,311.93 L382.00,309.61 L382.25,307.40 L382.52,305.34 L382.80,303.46 L383.10,301.80 L383.41,300.33 L383.74,298.99 L384.08,297.80 L384.44,296.73 L384.79,295.81 L385.16,295.02 L385.52,294.36 L385.89,293.84 L386.25,293.45 L386.60,293.20 L386.95,293.11 L387.29,293.20 L387.62,293.45 L387.96,293.84 L388.30,294.35 L388.64,294.97 L388.99,295.67 L389.35,296.44 L389.72,297.25 L390.10,298.10 L390.49,299.00 L390.89,299.99 L391.30,301.06 L391.71,302.20 L392.14,303.42 L392.57,304.70 L393.01,306.03 L393.46,307.41 L393.93,308.84 L394.40,310.30 L394.89,311.84 L395.40,313.50 L395.92,315.23 L396.45,317.03 L396.99,318.86 L397.54,320.71 L398.09,322.54 L398.63,324.33 L399.17,326.06 L399.70,327.70 L400.22,329.29 L400.75,330.87 L401.27,332.43 L401.79,333.97 L402.31,335.47 L402.82,336.92 L403.34,338.32 L403.86,339.66 L404.38,340.92 L404.90,342.10 L405.41,343.20 L405.91,344.25 L406.41,345.23 L406.90,346.15 L407.39,347.01 L407.90,347.80 L408.42,348.54 L408.95,349.22 L409.51,349.84 L410.10,350.40 L410.69,350.89 L411.26,351.30 L411.82,351.63 L412.40,351.91 L413.01,352.12 L413.65,352.30 L414.36,352.43 L415.14,352.54 L416.02,352.63 L417.00,352.70 L418.11,352.74 L419.34,352.72 L420.68,352.65 L422.09,352.54 L423.56,352.41 L425.06,352.27 L426.57,352.13 L428.06,351.99 L429.51,351.88 L430.90,351.80 L432.05,351.74 L432.88,351.70 L433.54,351.66 L434.14,351.63 L434.82,351.60 L435.71,351.58 L436.94,351.56 L438.65,351.54 L440.96,351.52 L444.00,351.50 L448.00,351.48 L452.95,351.47 L458.62,351.46 L464.80,351.45 L471.26,351.44 L477.77,351.44 L484.13,351.43 L490.10,351.42 L495.46,351.41 L500.00,351.40 L503.82,351.40 L507.22,351.42 L510.24,351.45 L512.94,351.49 L515.36,351.51 L517.55,351.52 L519.56,351.51 L521.44,351.45 L523.24,351.35 L525.00,351.20 L526.67,350.97 L528.15,350.66 L529.47,350.28 L530.64,349.87 L531.66,349.44 L532.56,349.01 L533.36,348.60 L534.05,348.23 L534.66,347.92 L535.20,347.70 L535.20,369.70 L534.66,369.48 L534.05,369.17 L533.36,368.80 L532.56,368.39 L531.66,367.96 L530.64,367.53 L529.47,367.12 L528.15,366.74 L526.67,366.43 L525.00,366.20 L523.24,366.04 L521.44,365.94 L519.56,365.89 L517.55,365.87 L515.36,365.87 L512.94,365.90 L510.24,365.93 L507.22,365.97 L503.82,365.99 L500.00,366.00 L495.46,366.00 L490.10,366.00 L484.13,366.00 L477.77,366.01 L471.26,366.02 L464.80,366.03 L458.62,366.05 L452.95,366.06 L448.00,366.08 L444.00,366.10 L440.96,366.12 L438.65,366.15 L436.94,366.18 L435.71,366.21 L434.82,366.24 L434.14,366.27 L433.54,366.30 L432.88,366.34 L432.05,366.37 L430.90,366.40 L429.51,366.44 L428.06,366.50 L426.57,366.57 L425.06,366.64 L423.56,366.71 L422.09,366.77 L420.68,366.80 L419.34,366.81 L418.11,366.78 L417.00,366.70 L416.02,366.60 L415.14,366.49 L414.36,366.36 L413.65,366.21 L413.01,366.02 L412.40,365.80 L411.82,365.54 L411.26,365.22 L410.69,364.84 L410.10,364.40 L409.51,363.90 L408.95,363.36 L408.42,362.77 L407.90,362.13 L407.39,361.44 L406.90,360.70 L406.41,359.90 L405.91,359.03 L405.41,358.10 L404.90,357.10 L404.38,356.03 L403.86,354.87 L403.34,353.65 L402.82,352.37 L402.31,351.03 L401.79,349.64 L401.27,348.21 L400.75,346.73 L400.22,345.23 L399.70,343.70 L399.17,342.10 L398.63,340.39 L398.09,338.61 L397.54,336.78 L396.99,334.93 L396.45,333.08 L395.92,331.26 L395.40,329.51 L394.89,327.85 L394.40,326.30 L393.93,324.84 L393.46,323.41 L393.01,322.03 L392.57,320.70 L392.14,319.42 L391.71,318.20 L391.30,317.06 L390.89,315.99 L390.49,315.00 L390.10,314.10 L389.72,313.27 L389.35,312.50 L388.99,311.79 L388.64,311.16 L388.30,310.60 L387.96,310.13 L387.62,309.74 L387.29,309.46 L386.95,309.27 L386.60,309.20 L386.25,309.22 L385.89,309.33 L385.52,309.52 L385.16,309.80 L384.79,310.18 L384.44,310.67 L384.08,311.27 L383.74,311.99 L383.41,312.83 L383.10,313.80 L382.80,314.93 L382.52,316.22 L382.25,317.65 L382.00,319.21 L381.74,320.87 L381.50,322.61 L381.25,324.41 L381.01,326.26 L380.76,328.13 L380.50,330.00 L380.23,331.94 L379.96,334.00 L379.68,336.15 L379.39,338.36 L379.11,340.60 L378.84,342.84 L378.58,345.03 L378.33,347.17 L378.10,349.20 L377.90,351.10 L377.73,352.84 L377.59,354.43 L377.47,355.91 L377.37,357.32 L377.28,358.71 L377.19,360.10 L377.10,361.53 L376.99,363.05 L376.86,364.69 L376.70,366.50 L376.52,368.46 L376.32,370.53 L376.10,372.68 L375.87,374.92 L375.64,377.22 L375.39,379.56 L375.15,381.94 L374.90,384.33 L374.65,386.72 L374.40,389.10 L374.16,391.52 L373.93,394.04 L373.70,396.62 L373.46,399.23 L373.23,401.84 L372.98,404.42 L372.71,406.94 L372.43,409.36 L372.13,411.66 L371.80,413.80 L371.44,415.92 L371.05,418.12 L370.64,420.33 L370.21,422.49 L369.76,424.51 L369.31,426.33 L368.85,427.87 L368.39,429.06 L367.94,429.83 L367.50,430.10 L367.06,429.83 L366.61,429.06 L366.16,427.87 L365.70,426.33 L365.24,424.51 L364.79,422.49 L364.35,420.33 L363.92,418.12 L363.50,415.92 L363.10,413.80 L362.72,411.66 L362.36,409.36 L362.01,406.94 L361.67,404.42 L361.34,401.84 L361.02,399.23 L360.70,396.62 L360.37,394.04 L360.04,391.52 L359.70,389.10 L359.34,386.72 L358.96,384.33 L358.58,381.94 L358.18,379.56 L357.79,377.22 L357.42,374.92 L357.06,372.68 L356.74,370.53 L356.45,368.46 L356.20,366.50 L356.01,364.70 L355.87,363.07 L355.76,361.58 L355.69,360.17 L355.64,358.80 L355.59,357.43 L355.55,356.02 L355.49,354.53 L355.41,352.90 L355.30,351.10 L355.16,349.15 L355.01,347.09 L354.85,344.95 L354.68,342.73 L354.51,340.45 L354.33,338.12 L354.14,335.74 L353.96,333.34 L353.78,330.92 L353.60,328.50 L353.42,325.93 L353.22,323.13 L353.01,320.18 L352.80,317.17 L352.59,314.19 L352.40,311.32 L352.21,308.64 L352.05,306.26 L351.91,304.25 L351.80,302.70 Z" fill="#7165bb" fill-opacity="0.5"/><path d="M351.80,333.90 L351.98,334.52 L352.21,335.34 L352.48,336.32 L352.78,337.41 L353.11,338.57 L353.46,339.77 L353.81,340.94 L354.15,342.05 L354.49,343.05 L354.80,343.90 L355.10,344.66 L355.40,345.41 L355.70,346.14 L356.00,346.82 L356.31,347.44 L356.61,347.99 L356.91,348.45 L357.21,348.80 L357.50,349.02 L357.80,349.10 L358.09,349.03 L358.37,348.83 L358.64,348.51 L358.90,348.08 L359.18,347.55 L359.45,346.94 L359.74,346.27 L360.04,345.55 L360.36,344.79 L360.70,344.00 L361.07,343.15 L361.46,342.22 L361.86,341.20 L362.29,340.13 L362.72,339.01 L363.16,337.85 L363.60,336.68 L364.04,335.50 L364.47,334.34 L364.90,333.20 L365.32,332.08 L365.74,330.95 L366.16,329.82 L366.58,328.68 L367.00,327.54 L367.42,326.38 L367.84,325.21 L368.26,324.02 L368.68,322.82 L369.10,321.60 L369.52,320.34 L369.95,319.04 L370.38,317.71 L370.80,316.35 L371.23,314.99 L371.66,313.64 L372.08,312.32 L372.49,311.02 L372.90,309.78 L373.30,308.60 L373.69,307.45 L374.08,306.30 L374.45,305.16 L374.83,304.04 L375.19,302.97 L375.56,301.95 L375.92,301.00 L376.28,300.13 L376.64,299.36 L377.00,298.70 L377.36,298.14 L377.71,297.67 L378.06,297.27 L378.41,296.96 L378.76,296.72 L379.11,296.55 L379.46,296.46 L379.80,296.44 L380.15,296.49 L380.50,296.60 L380.85,296.76 L381.20,296.96 L381.55,297.21 L381.90,297.52 L382.25,297.92 L382.60,298.41 L382.95,299.01 L383.30,299.73 L383.65,300.59 L384.00,301.60 L384.35,302.77 L384.69,304.08 L385.02,305.53 L385.36,307.10 L385.70,308.77 L386.04,310.55 L386.39,312.41 L386.75,314.35 L387.12,316.35 L387.50,318.40 L387.91,320.59 L388.35,322.97 L388.81,325.50 L389.28,328.12 L389.76,330.79 L390.22,333.45 L390.67,336.05 L391.09,338.54 L391.47,340.88 L391.80,343.00 L392.07,344.91 L392.28,346.67 L392.45,348.30 L392.58,349.82 L392.70,351.27 L392.82,352.68 L392.95,354.07 L393.12,355.47 L393.33,356.90 L393.60,358.40 L393.92,359.98 L394.27,361.60 L394.65,363.27 L395.05,364.93 L395.48,366.59 L395.93,368.20 L396.40,369.75 L396.88,371.22 L397.39,372.58 L397.90,373.80 L398.44,374.94 L399.00,376.03 L399.60,377.07 L400.21,378.04 L400.84,378.91 L401.47,379.68 L402.11,380.34 L402.75,380.85 L403.38,381.21 L404.00,381.40 L404.61,381.37 L405.21,381.12 L405.80,380.69 L406.40,380.11 L407.00,379.42 L407.60,378.67 L408.21,377.90 L408.83,377.13 L409.46,376.42 L410.10,375.80 L410.75,375.23 L411.40,374.63 L412.05,374.02 L412.72,373.40 L413.39,372.79 L414.07,372.20 L414.77,371.64 L415.49,371.11 L416.23,370.63 L417.00,370.20 L417.75,369.83 L418.47,369.50 L419.18,369.21 L419.89,368.96 L420.64,368.73 L421.44,368.53 L422.33,368.35 L423.32,368.19 L424.43,368.04 L425.70,367.90 L426.97,367.78 L428.14,367.68 L429.30,367.62 L430.52,367.57 L431.89,367.54 L433.50,367.51 L435.44,367.49 L437.77,367.47 L440.60,367.44 L444.00,367.40 L448.21,367.35 L453.28,367.30 L459.01,367.25 L465.17,367.20 L471.58,367.15 L478.02,367.10 L484.29,367.05 L490.18,367.00 L495.49,366.95 L500.00,366.90 L503.82,366.87 L507.22,366.86 L510.24,366.88 L512.94,366.89 L515.36,366.90 L517.55,366.89 L519.56,366.84 L521.44,366.76 L523.24,366.61 L525.00,366.40 L526.67,366.09 L528.15,365.68 L529.47,365.20 L530.64,364.67 L531.66,364.12 L532.56,363.57 L533.36,363.05 L534.05,362.58 L534.66,362.19 L535.20,361.90 L535.20,393.10 L534.66,392.81 L534.05,392.42 L533.36,391.95 L532.56,391.43 L531.66,390.88 L530.64,390.33 L529.47,389.80 L528.15,389.32 L526.67,388.91 L525.00,388.60 L523.24,388.39 L521.44,388.24 L519.56,388.16 L517.55,388.11 L515.36,388.10 L512.94,388.11 L510.24,388.12 L507.22,388.14 L503.82,388.13 L500.00,388.10 L495.49,388.05 L490.18,388.00 L484.29,387.95 L478.02,387.90 L471.58,387.85 L465.17,387.80 L459.01,387.75 L453.28,387.70 L448.21,387.65 L444.00,387.60 L440.60,387.54 L437.77,387.46 L435.44,387.36 L433.50,387.27 L431.89,387.18 L430.52,387.10 L429.30,387.04 L428.14,387.02 L426.97,387.04 L425.70,387.10 L424.43,387.20 L423.32,387.31 L422.33,387.45 L421.44,387.61 L420.64,387.81 L419.89,388.04 L419.18,388.31 L418.47,388.62 L417.75,388.98 L417.00,389.40 L416.23,389.89 L415.49,390.44 L414.77,391.06 L414.07,391.73 L413.39,392.43 L412.72,393.15 L412.05,393.88 L411.40,394.61 L410.75,395.32 L410.10,396.00 L409.46,396.74 L408.83,397.61 L408.21,398.55 L407.60,399.51 L407.00,400.44 L406.40,401.27 L405.80,401.96 L405.21,402.44 L404.61,402.68 L404.00,402.60 L403.38,402.21 L402.75,401.57 L402.11,400.70 L401.47,399.64 L400.84,398.42 L400.21,397.08 L399.60,395.63 L399.00,394.11 L398.44,392.56 L397.90,391.00 L397.39,389.36 L396.88,387.56 L396.40,385.63 L395.93,383.61 L395.48,381.54 L395.05,379.45 L394.65,377.37 L394.27,375.35 L393.92,373.41 L393.60,371.60 L393.33,369.92 L393.12,368.35 L392.95,366.85 L392.82,365.40 L392.70,363.98 L392.58,362.54 L392.45,361.08 L392.28,359.55 L392.07,357.93 L391.80,356.20 L391.47,354.32 L391.09,352.29 L390.67,350.16 L390.22,347.96 L389.76,345.74 L389.28,343.53 L388.81,341.37 L388.35,339.30 L387.91,337.37 L387.50,335.60 L387.12,333.96 L386.75,332.38 L386.39,330.88 L386.04,329.45 L385.70,328.10 L385.36,326.84 L385.02,325.67 L384.69,324.61 L384.35,323.65 L384.00,322.80 L383.65,322.07 L383.30,321.46 L382.95,320.96 L382.60,320.55 L382.25,320.24 L381.90,320.02 L381.55,319.87 L381.20,319.79 L380.85,319.77 L380.50,319.80 L380.15,319.89 L379.80,320.06 L379.46,320.29 L379.11,320.60 L378.76,320.98 L378.41,321.43 L378.06,321.95 L377.71,322.53 L377.36,323.18 L377.00,323.90 L376.64,324.71 L376.28,325.61 L375.92,326.60 L375.56,327.67 L375.19,328.79 L374.83,329.96 L374.45,331.16 L374.08,332.38 L373.69,333.59 L373.30,334.80 L372.90,336.03 L372.49,337.33 L372.08,338.67 L371.66,340.05 L371.23,341.42 L370.80,342.79 L370.38,344.14 L369.95,345.43 L369.52,346.66 L369.10,347.80 L368.68,348.86 L368.26,349.86 L367.84,350.80 L367.42,351.70 L367.00,352.56 L366.58,353.40 L366.16,354.23 L365.74,355.04 L365.32,355.86 L364.90,356.70 L364.47,357.56 L364.04,358.44 L363.60,359.32 L363.16,360.20 L362.72,361.06 L362.29,361.90 L361.86,362.69 L361.46,363.43 L361.07,364.10 L360.70,364.70 L360.36,365.22 L360.04,365.68 L359.74,366.08 L359.45,366.43 L359.18,366.73 L358.90,367.00 L358.64,367.23 L358.37,367.44 L358.09,367.63 L357.80,367.80 L357.50,367.93 L357.21,367.99 L356.91,368.00 L356.61,367.97 L356.31,367.93 L356.00,367.88 L355.70,367.86 L355.40,367.88 L355.10,367.95 L354.80,368.10 L354.49,368.34 L354.15,368.65 L353.81,369.03 L353.46,369.44 L353.11,369.87 L352.78,370.30 L352.48,370.71 L352.21,371.07 L351.98,371.38 L351.80,371.60 Z" fill="#698441" fill-opacity="0.4"/><path d="M351.80,301.20 L351.91,302.75 L352.05,304.76 L352.21,307.14 L352.40,309.82 L352.59,312.69 L352.80,315.67 L353.01,318.68 L353.22,321.63 L353.42,324.43 L353.60,327.00 L353.78,329.42 L353.96,331.84 L354.14,334.24 L354.33,336.62 L354.51,338.95 L354.68,341.23 L354.85,343.45 L355.01,345.59 L355.16,347.65 L355.30,349.60 L355.41,351.40 L355.49,353.03 L355.55,354.52 L355.59,355.93 L355.64,357.30 L355.69,358.67 L355.76,360.08 L355.87,361.57 L356.01,363.20 L356.20,365.00 L356.45,366.96 L356.74,369.03 L357.06,371.19 L357.42,373.44 L357.79,375.74 L358.18,378.08 L358.58,380.46 L358.96,382.85 L359.34,385.23 L359.70,387.60 L360.04,390.01 L360.37,392.51 L360.70,395.06 L361.02,397.65 L361.34,400.24 L361.67,402.79 L362.01,405.27 L362.36,407.65 L362.72,409.91 L363.10,412.00 L363.50,414.06 L363.92,416.18 L364.35,418.31 L364.79,420.37 L365.24,422.30 L365.70,424.03 L366.16,425.49 L366.61,426.62 L367.06,427.34 L367.50,427.60 L367.94,427.34 L368.39,426.62 L368.85,425.49 L369.31,424.03 L369.76,422.30 L370.21,420.37 L370.64,418.31 L371.05,416.18 L371.44,414.06 L371.80,412.00 L372.13,409.91 L372.43,407.65 L372.71,405.27 L372.98,402.79 L373.23,400.24 L373.46,397.65 L373.70,395.06 L373.93,392.51 L374.16,390.01 L374.40,387.60 L374.65,385.23 L374.90,382.85 L375.15,380.46 L375.39,378.08 L375.64,375.74 L375.87,373.44 L376.10,371.19 L376.32,369.03 L376.52,366.96 L376.70,365.00 L376.86,363.20 L376.99,361.57 L377.10,360.08 L377.19,358.67 L377.28,357.30 L377.37,355.93 L377.47,354.52 L377.59,353.03 L377.73,351.40 L377.90,349.60 L378.10,347.62 L378.33,345.49 L378.58,343.24 L378.84,340.92 L379.11,338.54 L379.39,336.14 L379.68,333.76 L379.96,331.42 L380.23,329.15 L380.50,327.00 L380.76,324.89 L381.01,322.74 L381.25,320.59 L381.50,318.47 L381.74,316.40 L382.00,314.41 L382.25,312.53 L382.52,310.78 L382.80,309.19 L383.10,307.80 L383.41,306.58 L383.74,305.49 L384.08,304.53 L384.44,303.70 L384.79,302.99 L385.16,302.41 L385.52,301.94 L385.89,301.58 L386.25,301.34 L386.60,301.20 L386.95,301.19 L387.29,301.33 L387.62,301.59 L387.96,301.98 L388.30,302.48 L388.64,303.06 L388.99,303.73 L389.35,304.47 L389.72,305.26 L390.10,306.10 L390.49,307.00 L390.89,307.99 L391.30,309.06 L391.71,310.20 L392.14,311.42 L392.57,312.70 L393.01,314.03 L393.46,315.41 L393.93,316.84 L394.40,318.30 L394.89,319.85 L395.40,321.50 L395.92,323.25 L396.45,325.05 L396.99,326.89 L397.54,328.74 L398.09,330.57 L398.63,332.36 L399.17,334.08 L399.70,335.70 L400.22,337.26 L400.75,338.80 L401.27,340.32 L401.79,341.80 L402.31,343.25 L402.82,344.65 L403.34,345.99 L403.86,347.27 L404.38,348.47 L404.90,349.60 L405.41,350.65 L405.91,351.64 L406.41,352.56 L406.90,353.42 L407.39,354.23 L407.90,354.97 L408.42,355.66 L408.95,356.29 L409.51,356.87 L410.10,357.40 L410.69,357.87 L411.26,358.26 L411.82,358.59 L412.40,358.86 L413.01,359.07 L413.65,359.25 L414.36,359.40 L415.14,359.51 L416.02,359.61 L417.00,359.70 L418.11,359.76 L419.34,359.76 L420.68,359.72 L422.09,359.65 L423.56,359.56 L425.06,359.46 L426.57,359.35 L428.06,359.25 L429.51,359.16 L430.90,359.10 L432.05,359.06 L432.88,359.02 L433.54,358.98 L434.14,358.95 L434.82,358.92 L435.71,358.89 L436.94,358.87 L438.65,358.84 L440.96,358.82 L444.00,358.80 L448.00,358.78 L452.95,358.77 L458.62,358.75 L464.80,358.74 L471.26,358.73 L477.77,358.72 L484.13,358.72 L490.10,358.71 L495.46,358.71 L500.00,358.70 L503.82,358.70 L507.22,358.69 L510.24,358.69 L512.94,358.69 L515.36,358.69 L517.55,358.70 L519.56,358.70 L521.44,358.70 L523.24,358.70 L525.00,358.70 L526.67,358.70 L528.15,358.70 L529.47,358.70 L530.64,358.70 L531.66,358.70 L532.56,358.70 L533.36,358.70 L534.05,358.70 L534.66,358.70 L535.20,358.70" stroke="#2f358c" stroke-width="1.9" fill="none" stroke-linejoin="round" stroke-linecap="round"/><path d="M351.80,353.50 L351.98,353.75 L352.21,354.07 L352.48,354.46 L352.78,354.90 L353.11,355.36 L353.46,355.84 L353.81,356.31 L354.15,356.75 L354.49,357.15 L354.80,357.50 L355.10,357.82 L355.40,358.16 L355.70,358.51 L356.00,358.84 L356.31,359.14 L356.61,359.40 L356.91,359.60 L357.21,359.72 L357.50,359.76 L357.80,359.70 L358.09,359.54 L358.37,359.30 L358.64,358.99 L358.90,358.61 L359.18,358.16 L359.45,357.66 L359.74,357.09 L360.04,356.47 L360.36,355.81 L360.70,355.10 L361.07,354.32 L361.46,353.46 L361.86,352.53 L362.29,351.53 L362.72,350.49 L363.16,349.42 L363.60,348.34 L364.04,347.24 L364.47,346.16 L364.90,345.10 L365.32,344.05 L365.74,343.00 L366.16,341.95 L366.58,340.88 L367.00,339.81 L367.42,338.72 L367.84,337.62 L368.26,336.50 L368.68,335.36 L369.10,334.20 L369.52,333.01 L369.95,331.77 L370.38,330.50 L370.80,329.21 L371.23,327.92 L371.66,326.63 L372.08,325.35 L372.49,324.09 L372.90,322.87 L373.30,321.70 L373.69,320.54 L374.08,319.37 L374.45,318.20 L374.83,317.04 L375.19,315.91 L375.56,314.83 L375.92,313.82 L376.28,312.88 L376.64,312.03 L377.00,311.30 L377.36,310.66 L377.71,310.10 L378.06,309.61 L378.41,309.19 L378.76,308.85 L379.11,308.58 L379.46,308.38 L379.80,308.25 L380.15,308.19 L380.50,308.20 L380.85,308.26 L381.20,308.37 L381.55,308.54 L381.90,308.77 L382.25,309.08 L382.60,309.48 L382.95,309.98 L383.30,310.60 L383.65,311.33 L384.00,312.20 L384.35,313.21 L384.69,314.34 L385.02,315.60 L385.36,316.97 L385.70,318.44 L386.04,320.00 L386.39,321.65 L386.75,323.37 L387.12,325.16 L387.50,327.00 L387.91,328.98 L388.35,331.14 L388.81,333.43 L389.28,335.82 L389.76,338.26 L390.22,340.70 L390.67,343.10 L391.09,345.42 L391.47,347.60 L391.80,349.60 L392.07,351.42 L392.28,353.11 L392.45,354.69 L392.58,356.18 L392.70,357.62 L392.82,359.04 L392.95,360.46 L393.12,361.91 L393.33,363.41 L393.60,365.00 L393.92,366.69 L394.27,368.48 L394.65,370.32 L395.05,372.19 L395.48,374.06 L395.93,375.91 L396.40,377.69 L396.88,379.39 L397.39,380.97 L397.90,382.40 L398.44,383.75 L399.00,385.07 L399.60,386.35 L400.21,387.56 L400.84,388.67 L401.47,389.66 L402.11,390.52 L402.75,391.21 L403.38,391.71 L404.00,392.00 L404.61,392.03 L405.21,391.78 L405.80,391.32 L406.40,390.69 L407.00,389.93 L407.60,389.09 L408.21,388.22 L408.83,387.37 L409.46,386.58 L410.10,385.90 L410.75,385.27 L411.40,384.62 L412.05,383.95 L412.72,383.28 L413.39,382.61 L414.07,381.97 L414.77,381.35 L415.49,380.78 L416.23,380.26 L417.00,379.80 L417.75,379.41 L418.47,379.06 L419.18,378.76 L419.89,378.50 L420.64,378.27 L421.44,378.07 L422.33,377.90 L423.32,377.75 L424.43,377.62 L425.70,377.50 L426.97,377.41 L428.14,377.35 L429.30,377.33 L430.52,377.33 L431.89,377.36 L433.50,377.39 L435.44,377.43 L437.77,377.46 L440.60,377.49 L444.00,377.50 L448.21,377.50 L453.28,377.50 L459.01,377.50 L465.17,377.50 L471.58,377.50 L478.02,377.50 L484.29,377.50 L490.18,377.50 L495.49,377.50 L500.00,377.50 L503.82,377.50 L507.22,377.50 L510.24,377.50 L512.94,377.50 L515.36,377.50 L517.55,377.50 L519.56,377.50 L521.44,377.50 L523.24,377.50 L525.00,377.50 L526.67,377.50 L528.15,377.50 L529.47,377.50 L530.64,377.50 L531.66,377.50 L532.56,377.50 L533.36,377.50 L534.05,377.50 L534.66,377.50 L535.20,377.50" stroke="#2b7036" stroke-width="1.8" fill="none" stroke-linejoin="round" stroke-linecap="round"/></g><rect x="344.5" y="282.1" width="199.0" height="173.09999999999997" fill="none" stroke="#2a2a2a" stroke-width="1.5"/><path d="M351.5,455.2 V459.4 M408.5,455.2 V459.4 M465.5,455.2 V459.4 M522.5,455.2 V459.4 M344.5,282.5 H340.5 M344.5,332.5 H340.5 M344.5,382.5 H340.5 M344.5,431.5 H340.5 M543.5,287.5 H547.5 M543.5,320.5 H547.5 M543.5,353.5 H547.5 M543.5,386.5 H547.5 M543.5,419.5 H547.5 M543.5,452.5 H547.5" stroke="#3a3a3a" stroke-width="1" fill="none"/><text x="351.7" y="469.9" font-size="8.5" text-anchor="middle">0.0</text><text x="408.7" y="469.9" font-size="8.5" text-anchor="middle">0.5</text><text x="465.8" y="469.9" font-size="8.5" text-anchor="middle">1.0</text><text x="522.8" y="469.9" font-size="8.5" text-anchor="middle">1.5</text><text transform="translate(335.7,282.8) rotate(-90)" font-size="8.5" text-anchor="middle">340</text><text transform="translate(335.7,332.4) rotate(-90)" font-size="8.5" text-anchor="middle">335</text><text transform="translate(335.7,382.0) rotate(-90)" font-size="8.5" text-anchor="middle">330</text><text transform="translate(335.7,431.6) rotate(-90)" font-size="8.5" text-anchor="middle">325</text><text transform="translate(555.3,287.8) rotate(-90)" font-size="8.5" text-anchor="middle">9.8</text><text transform="translate(555.3,320.7) rotate(-90)" font-size="8.5" text-anchor="middle">9.6</text><text transform="translate(555.3,353.6) rotate(-90)" font-size="8.5" text-anchor="middle">9.4</text><text transform="translate(555.3,386.5) rotate(-90)" font-size="8.5" text-anchor="middle">9.2</text><text transform="translate(555.3,419.4) rotate(-90)" font-size="8.5" text-anchor="middle">9.0</text><text transform="translate(555.3,452.3) rotate(-90)" font-size="8.5" text-anchor="middle">8.8</text><text x="443.9" y="485.8" font-size="9.3" text-anchor="middle" textLength="148.1" lengthAdjust="spacingAndGlyphs">(d) Median precipitation (inches)</text><text transform="translate(323.1,361.6) rotate(-90)" font-size="9.3" text-anchor="middle" textLength="46" lengthAdjust="spacingAndGlyphs">Barge rate</text><text transform="translate(567.8,361.6) rotate(-90)" font-size="9.3" text-anchor="middle" textLength="82" lengthAdjust="spacingAndGlyphs">Barge productivity</text><clipPath id="clipe"><rect x="36.5" y="506.0" width="198.5" height="172.89999999999998"/></clipPath><path d="M43.5,508.0 V676.9 M80.5,508.0 V676.9 M116.5,508.0 V676.9 M153.5,508.0 V676.9 M190.5,508.0 V676.9 M226.5,508.0 V676.9 M38.0,530.5 H233.0 M38.0,554.5 H233.0 M38.0,578.5 H233.0 M38.0,603.5 H233.0 M38.0,627.5 H233.0 M38.0,651.5 H233.0 M38.0,676.5 H233.0 M38.0,530.5 H233.0 M38.0,554.5 H233.0 M38.0,578.5 H233.0 M38.0,603.5 H233.0 M38.0,627.5 H233.0 M38.0,651.5 H233.0 M38.0,676.5 H233.0" stroke="#bebebe" stroke-width="1" stroke-dasharray="1 1" fill="none"/><g clip-path="url(#clipe)"><path d="M41.80,502.20 L42.05,502.20 L42.30,502.20 L42.55,502.20 L42.80,502.20 L43.05,502.20 L43.30,502.20 L43.55,502.20 L43.80,502.20 L44.05,502.20 L44.30,502.20 L44.55,502.20 L44.80,502.20 L45.05,502.20 L45.30,502.20 L45.55,502.20 L45.80,502.20 L46.05,502.20 L46.30,502.20 L46.55,502.20 L46.80,502.20 L47.05,502.20 L47.30,502.20 L47.55,502.20 L47.80,502.20 L48.05,502.20 L48.30,502.20 L48.55,502.20 L48.80,502.20 L49.05,502.20 L49.30,502.20 L49.55,502.20 L49.80,502.20 L50.05,502.20 L50.30,502.20 L50.55,502.20 L50.80,502.20 L51.05,502.20 L51.30,502.20 L51.55,502.20 L51.80,502.20 L52.05,502.20 L52.30,502.20 L52.55,502.20 L52.80,502.20 L53.05,502.20 L53.30,502.20 L53.55,502.20 L53.80,502.20 L54.05,502.20 L54.30,502.20 L54.55,502.20 L54.80,502.20 L55.05,502.20 L55.30,502.20 L55.55,502.20 L55.80,502.20 L56.05,502.20 L56.30,502.20 L56.55,502.20 L56.80,502.20 L57.05,502.20 L57.30,502.20 L57.55,502.20 L57.80,502.20 L58.05,502.20 L58.30,502.20 L58.55,502.20 L58.80,502.20 L59.05,502.20 L59.30,502.20 L59.55,502.20 L59.80,502.20 L60.05,502.20 L60.30,502.20 L60.55,502.20 L60.80,502.20 L61.05,502.20 L61.30,502.20 L61.55,502.20 L61.80,502.20 L62.05,502.20 L62.30,502.20 L62.55,502.20 L62.80,502.20 L63.05,502.20 L63.30,502.20 L63.55,502.20 L63.80,502.20 L64.05,502.20 L64.30,502.20 L64.55,502.20 L64.80,502.20 L65.05,502.20 L65.30,502.20 L65.55,502.20 L65.80,502.20 L66.05,502.20 L66.30,502.20 L66.55,502.20 L66.80,502.20 L67.05,502.20 L67.30,502.20 L67.55,502.20 L67.80,502.20 L68.05,502.20 L68.30,502.20 L68.55,502.20 L68.80,502.20 L69.05,502.20 L69.30,502.20 L69.55,502.20 L69.80,502.20 L70.05,502.20 L70.30,502.20 L70.55,502.20 L70.80,502.20 L71.05,502.20 L71.30,502.20 L71.55,502.20 L71.80,502.20 L72.05,502.20 L72.30,502.20 L72.55,502.20 L72.80,502.20 L73.05,502.20 L73.30,502.20 L73.55,502.20 L73.80,502.20 L74.05,502.20 L74.30,502.20 L74.55,502.20 L74.80,502.20 L75.05,502.20 L75.30,502.20 L75.55,502.20 L75.80,502.20 L76.05,502.20 L76.30,502.20 L76.55,502.20 L76.80,502.20 L77.05,502.20 L77.30,502.20 L77.55,502.20 L77.80,502.20 L78.05,502.20 L78.30,502.20 L78.55,502.20 L78.80,502.20 L79.05,502.20 L79.30,502.20 L79.55,502.20 L79.80,502.20 L80.05,502.20 L80.30,502.20 L80.55,502.20 L80.80,502.20 L81.05,502.20 L81.30,502.20 L81.55,502.20 L81.80,502.20 L82.05,502.20 L82.30,502.20 L82.55,502.20 L82.80,502.20 L83.05,502.20 L83.30,502.20 L83.55,502.20 L83.80,502.20 L84.05,502.20 L84.30,502.20 L84.55,502.20 L84.80,502.20 L85.05,502.20 L85.30,502.20 L85.55,502.20 L85.80,502.20 L86.05,502.20 L86.30,502.20 L86.55,502.20 L86.80,502.20 L87.05,502.20 L87.30,502.20 L87.55,502.20 L87.80,502.20 L88.05,502.20 L88.30,502.20 L88.55,502.20 L88.80,502.20 L89.05,502.20 L89.30,502.20 L89.55,502.20 L89.80,502.20 L90.05,502.20 L90.30,502.20 L90.55,502.20 L90.80,502.20 L91.05,502.20 L91.30,502.20 L91.55,502.20 L91.80,502.20 L92.05,502.20 L92.30,502.20 L92.55,502.20 L92.80,502.20 L93.05,502.20 L93.30,502.20 L93.55,502.20 L93.80,502.20 L94.05,502.20 L94.30,502.20 L94.55,502.20 L94.80,502.20 L95.05,502.20 L95.30,502.20 L95.55,502.20 L95.80,502.20 L96.05,502.20 L96.30,502.20 L96.55,502.20 L96.80,502.20 L97.05,502.20 L97.30,502.20 L97.55,502.20 L97.80,502.20 L98.05,502.20 L98.30,502.20 L98.55,502.20 L98.80,502.20 L99.05,502.20 L99.30,502.20 L99.55,502.20 L99.80,502.20 L100.05,502.20 L100.30,502.20 L100.55,502.20 L100.80,502.20 L101.05,502.20 L101.30,502.20 L101.55,502.20 L101.80,502.20 L102.05,502.20 L102.30,502.20 L102.55,502.20 L102.80,502.20 L103.05,502.20 L103.30,502.20 L103.55,502.20 L103.80,502.20 L104.05,502.20 L104.30,502.20 L104.55,502.20 L104.80,502.20 L105.05,502.20 L105.30,502.20 L105.55,502.20 L105.80,502.20 L106.05,502.20 L106.30,502.20 L106.55,502.20 L106.80,502.20 L107.05,502.20 L107.30,502.20 L107.55,502.20 L107.80,502.20 L108.05,502.20 L108.30,502.20 L108.55,502.21 L108.80,502.21 L109.05,502.21 L109.30,502.21 L109.55,502.21 L109.80,502.21 L110.05,502.21 L110.30,502.21 L110.55,502.21 L110.80,502.21 L111.05,502.21 L111.30,502.22 L111.55,502.22 L111.80,502.22 L112.05,502.22 L112.30,502.22 L112.55,502.23 L112.80,502.23 L113.05,502.23 L113.30,502.23 L113.55,502.24 L113.80,502.24 L114.05,502.25 L114.30,502.25 L114.55,502.26 L114.80,502.26 L115.05,502.27 L115.30,502.28 L115.55,502.29 L115.80,502.29 L116.05,502.30 L116.30,502.31 L116.55,502.33 L116.80,502.34 L117.05,502.36 L117.30,502.37 L117.55,502.39 L117.80,502.41 L118.05,502.43 L118.30,502.46 L118.55,502.48 L118.80,502.51 L119.05,502.54 L119.30,502.58 L119.55,502.62 L119.80,502.66 L120.05,502.71 L120.30,502.77 L120.55,502.83 L120.80,502.89 L121.05,502.97 L121.30,503.05 L121.55,503.13 L121.80,503.23 L122.05,503.34 L122.30,503.46 L122.55,503.59 L122.80,503.73 L123.05,503.89 L123.30,504.07 L123.55,504.26 L123.80,504.48 L124.05,504.71 L124.30,504.97 L124.55,505.26 L124.80,505.57 L125.05,505.92 L125.30,506.30 L125.55,506.72 L125.80,507.18 L126.05,507.69 L126.30,508.24 L126.55,508.85 L126.80,509.52 L127.05,510.25 L127.30,511.05 L127.55,511.92 L127.80,512.88 L128.05,513.92 L128.30,515.05 L128.55,516.28 L128.80,517.62 L129.05,519.07 L129.30,520.65 L129.55,522.34 L129.80,524.17 L130.05,526.13 L130.30,528.24 L130.55,530.50 L130.80,532.90 L131.05,535.46 L131.30,538.18 L131.55,541.04 L131.80,544.06 L132.05,547.23 L132.30,550.54 L132.55,553.98 L132.80,557.54 L133.05,561.22 L133.30,565.00 L133.55,568.85 L133.80,572.78 L134.05,576.75 L134.30,580.75 L134.55,584.35 L134.80,587.69 L135.05,591.00 L135.30,594.28 L135.55,597.53 L135.80,600.72 L136.05,603.85 L136.30,606.92 L136.55,609.90 L136.80,612.80 L137.05,615.61 L137.30,618.33 L137.55,620.95 L137.80,623.46 L138.05,625.87 L138.30,628.17 L138.55,630.36 L138.80,632.45 L139.05,634.43 L139.30,636.31 L139.55,638.09 L139.80,639.76 L140.05,641.34 L140.30,642.82 L140.55,644.22 L140.80,645.52 L141.05,646.75 L141.30,647.89 L141.55,648.96 L141.80,649.96 L142.05,650.89 L142.30,651.76 L142.55,652.56 L142.80,653.31 L143.05,654.01 L143.30,654.65 L143.55,655.25 L143.80,655.81 L144.05,656.32 L144.30,656.80 L144.55,657.24 L144.80,657.65 L145.05,658.02 L145.30,658.37 L145.55,658.69 L145.80,658.99 L146.05,659.27 L146.30,659.52 L146.55,659.76 L146.80,659.97 L147.05,660.17 L147.30,660.35 L147.55,660.52 L147.80,660.68 L148.05,660.82 L148.30,660.96 L148.55,661.08 L148.80,661.19 L149.05,661.30 L149.30,661.39 L149.55,661.48 L149.80,661.56 L150.05,661.64 L150.30,661.70 L150.55,661.77 L150.80,661.83 L151.05,661.88 L151.30,661.93 L151.55,661.97 L151.80,662.02 L152.05,662.05 L152.30,662.09 L152.55,662.12 L152.80,662.15 L153.05,662.18 L153.30,662.21 L153.55,662.23 L153.80,662.25 L154.05,662.27 L154.30,662.29 L154.55,662.31 L154.80,662.32 L155.05,662.34 L155.30,662.35 L155.55,662.36 L155.80,662.37 L156.05,662.38 L156.30,662.39 L156.55,662.40 L156.80,662.41 L157.05,662.42 L157.30,662.42 L157.55,662.43 L157.80,662.43 L158.05,662.44 L158.30,662.44 L158.55,662.45 L158.80,662.45 L159.05,662.46 L159.30,662.46 L159.55,662.46 L159.80,662.47 L160.05,662.47 L160.30,662.47 L160.55,662.47 L160.80,662.48 L161.05,662.48 L161.30,662.48 L161.55,662.48 L161.80,662.48 L162.05,662.48 L162.30,662.49 L162.55,662.49 L162.80,662.49 L163.05,662.49 L163.30,662.49 L163.55,662.49 L163.80,662.49 L164.05,662.49 L164.30,662.49 L164.55,662.49 L164.80,662.49 L165.05,662.49 L165.30,662.49 L165.55,662.50 L165.80,662.50 L166.05,662.50 L166.30,662.50 L166.55,662.50 L166.80,662.50 L167.05,662.50 L167.30,662.50 L167.55,662.50 L167.80,662.50 L168.05,662.50 L168.30,662.50 L168.55,662.50 L168.80,662.50 L169.05,662.50 L169.30,662.50 L169.55,662.50 L169.80,662.50 L170.05,662.50 L170.30,662.50 L170.55,662.50 L170.80,662.50 L171.05,662.50 L171.30,662.50 L171.55,662.50 L171.80,662.50 L172.05,662.50 L172.30,662.50 L172.55,662.50 L172.80,662.50 L173.05,662.50 L173.30,662.50 L173.55,662.50 L173.80,662.50 L174.05,662.50 L174.30,662.50 L174.55,662.50 L174.80,662.50 L175.05,662.50 L175.30,662.50 L175.55,662.50 L175.80,662.50 L176.05,662.50 L176.30,662.50 L176.55,662.50 L176.80,662.50 L177.05,662.50 L177.30,662.50 L177.55,662.50 L177.80,662.50 L178.05,662.50 L178.30,662.50 L178.55,662.50 L178.80,662.50 L179.05,662.50 L179.30,662.50 L179.55,662.50 L179.80,662.50 L180.05,662.50 L180.30,662.50 L180.55,662.50 L180.80,662.50 L181.05,662.50 L181.30,662.50 L181.55,662.50 L181.80,662.50 L182.05,662.50 L182.30,662.50 L182.55,662.50 L182.80,662.50 L183.05,662.50 L183.30,662.50 L183.55,662.50 L183.80,662.50 L184.05,662.50 L184.30,662.50 L184.55,662.50 L184.80,662.50 L185.05,662.50 L185.30,662.50 L185.55,662.50 L185.80,662.50 L186.05,662.50 L186.30,662.50 L186.55,662.50 L186.80,662.50 L187.05,662.50 L187.30,662.50 L187.55,662.50 L187.80,662.50 L188.05,662.50 L188.30,662.50 L188.55,662.50 L188.80,662.50 L189.05,662.50 L189.30,662.50 L189.55,662.50 L189.80,662.50 L190.05,662.50 L190.30,662.50 L190.55,662.50 L190.80,662.50 L191.05,662.50 L191.30,662.50 L191.55,662.50 L191.80,662.50 L192.05,662.50 L192.30,662.50 L192.55,662.50 L192.80,662.50 L193.05,662.50 L193.30,662.50 L193.55,662.50 L193.80,662.50 L194.05,662.50 L194.30,662.50 L194.55,662.50 L194.80,662.50 L195.05,662.50 L195.30,662.50 L195.55,662.50 L195.80,662.50 L196.05,662.50 L196.30,662.50 L196.55,662.50 L196.80,662.50 L197.05,662.50 L197.30,662.50 L197.55,662.50 L197.80,662.50 L198.05,662.50 L198.30,662.50 L198.55,662.50 L198.80,662.50 L199.05,662.50 L199.30,662.49 L199.55,662.49 L199.80,662.49 L200.05,662.49 L200.30,662.49 L200.55,662.49 L200.80,662.49 L201.05,662.49 L201.30,662.49 L201.55,662.49 L201.80,662.49 L202.05,662.49 L202.30,662.49 L202.55,662.49 L202.80,662.49 L203.05,662.48 L203.30,662.48 L203.55,662.48 L203.80,662.48 L204.05,662.48 L204.30,662.48 L204.55,662.48 L204.80,662.47 L205.05,662.47 L205.30,662.47 L205.55,662.47 L205.80,662.47 L206.05,662.46 L206.30,662.46 L206.55,662.46 L206.80,662.45 L207.05,662.45 L207.30,662.45 L207.55,662.44 L207.80,662.44 L208.05,662.44 L208.30,662.43 L208.55,662.43 L208.80,662.42 L209.05,662.41 L209.30,662.41 L209.55,662.40 L209.80,662.39 L210.05,662.39 L210.30,662.38 L210.55,662.37 L210.80,662.36 L211.05,662.35 L211.30,662.34 L211.55,662.32 L211.80,662.31 L212.05,662.30 L212.30,662.28 L212.55,662.27 L212.80,662.25 L213.05,662.23 L213.30,662.21 L213.55,662.19 L213.80,662.17 L214.05,662.14 L214.30,662.12 L214.55,662.09 L214.80,662.06 L215.05,662.02 L215.30,661.99 L215.55,661.95 L215.80,661.91 L216.05,661.87 L216.30,661.82 L216.55,661.77 L216.80,661.72 L217.05,661.66 L217.30,661.59 L217.55,661.53 L217.80,661.46 L218.05,661.38 L218.30,661.30 L218.55,661.21 L218.80,661.11 L219.05,661.01 L219.30,660.90 L219.55,660.78 L219.80,660.65 L220.05,660.51 L220.30,660.37 L220.55,660.21 L220.80,660.04 L221.05,659.86 L221.30,659.66 L221.55,659.45 L221.80,659.23 L222.05,658.98 L222.30,658.72 L222.55,658.44 L222.80,658.14 L223.05,657.82 L223.30,657.47 L223.55,657.10 L223.80,656.70 L224.05,656.27 L224.30,655.81 L224.55,655.32 L224.80,654.78 L225.05,654.21 L225.30,653.60 L225.55,652.94 L225.80,652.23 L226.05,651.47 L226.30,650.66 L226.55,649.78 L226.80,648.84 L227.05,647.83 L227.05,681.70 L226.80,681.70 L226.55,681.70 L226.30,681.70 L226.05,681.70 L225.80,681.70 L225.55,681.70 L225.30,681.70 L225.05,681.70 L224.80,681.70 L224.55,681.70 L224.30,681.70 L224.05,681.70 L223.80,681.70 L223.55,681.70 L223.30,681.70 L223.05,681.70 L222.80,681.70 L222.55,681.70 L222.30,681.70 L222.05,681.70 L221.80,681.70 L221.55,681.70 L221.30,681.70 L221.05,681.70 L220.80,681.70 L220.55,681.70 L220.30,681.70 L220.05,681.70 L219.80,681.70 L219.55,681.70 L219.30,681.70 L219.05,681.70 L218.80,681.70 L218.55,681.70 L218.30,681.70 L218.05,681.70 L217.80,681.70 L217.55,681.70 L217.30,681.70 L217.05,681.70 L216.80,681.70 L216.55,681.70 L216.30,681.70 L216.05,681.70 L215.80,681.70 L215.55,681.70 L215.30,681.70 L215.05,681.70 L214.80,681.70 L214.55,681.70 L214.30,681.70 L214.05,681.70 L213.80,681.70 L213.55,681.70 L213.30,681.70 L213.05,681.70 L212.80,681.70 L212.55,681.70 L212.30,681.70 L212.05,681.70 L211.80,681.70 L211.55,681.70 L211.30,681.70 L211.05,681.70 L210.80,681.70 L210.55,681.70 L210.30,681.70 L210.05,681.70 L209.80,681.70 L209.55,681.70 L209.30,681.70 L209.05,681.70 L208.80,681.70 L208.55,681.70 L208.30,681.70 L208.05,681.70 L207.80,681.70 L207.55,681.70 L207.30,681.70 L207.05,681.70 L206.80,681.70 L206.55,681.70 L206.30,681.70 L206.05,681.70 L205.80,681.70 L205.55,681.70 L205.30,681.70 L205.05,681.70 L204.80,681.70 L204.55,681.70 L204.30,681.70 L204.05,681.70 L203.80,681.70 L203.55,681.70 L203.30,681.70 L203.05,681.70 L202.80,681.70 L202.55,681.70 L202.30,681.70 L202.05,681.70 L201.80,681.70 L201.55,681.70 L201.30,681.70 L201.05,681.70 L200.80,681.70 L200.55,681.70 L200.30,681.70 L200.05,681.70 L199.80,681.70 L199.55,681.70 L199.30,681.70 L199.05,681.70 L198.80,681.70 L198.55,681.70 L198.30,681.70 L198.05,681.70 L197.80,681.70 L197.55,681.70 L197.30,681.70 L197.05,681.70 L196.80,681.70 L196.55,681.70 L196.30,681.70 L196.05,681.70 L195.80,681.70 L195.55,681.70 L195.30,681.70 L195.05,681.70 L194.80,681.70 L194.55,681.70 L194.30,681.70 L194.05,681.70 L193.80,681.70 L193.55,681.70 L193.30,681.70 L193.05,681.70 L192.80,681.70 L192.55,681.70 L192.30,681.70 L192.05,681.70 L191.80,681.70 L191.55,681.70 L191.30,681.70 L191.05,681.70 L190.80,681.70 L190.55,681.70 L190.30,681.70 L190.05,681.70 L189.80,681.70 L189.55,681.70 L189.30,681.70 L189.05,681.70 L188.80,681.70 L188.55,681.70 L188.30,681.70 L188.05,681.70 L187.80,681.70 L187.55,681.70 L187.30,681.70 L187.05,681.70 L186.80,681.70 L186.55,681.70 L186.30,681.70 L186.05,681.70 L185.80,681.70 L185.55,681.70 L185.30,681.70 L185.05,681.70 L184.80,681.70 L184.55,681.70 L184.30,681.70 L184.05,681.70 L183.80,681.70 L183.55,681.70 L183.30,681.70 L183.05,681.70 L182.80,681.70 L182.55,681.70 L182.30,681.70 L182.05,681.70 L181.80,681.70 L181.55,681.70 L181.30,681.70 L181.05,681.70 L180.80,681.70 L180.55,681.70 L180.30,681.70 L180.05,681.70 L179.80,681.70 L179.55,681.70 L179.30,681.70 L179.05,681.70 L178.80,681.70 L178.55,681.70 L178.30,681.70 L178.05,681.70 L177.80,681.70 L177.55,681.70 L177.30,681.70 L177.05,681.70 L176.80,681.70 L176.55,681.70 L176.30,681.70 L176.05,681.70 L175.80,681.70 L175.55,681.70 L175.30,681.70 L175.05,681.70 L174.80,681.70 L174.55,681.70 L174.30,681.70 L174.05,681.70 L173.80,681.70 L173.55,681.70 L173.30,681.70 L173.05,681.70 L172.80,681.70 L172.55,681.70 L172.30,681.70 L172.05,681.70 L171.80,681.70 L171.55,681.70 L171.30,681.70 L171.05,681.70 L170.80,681.70 L170.55,681.70 L170.30,681.70 L170.05,681.70 L169.80,681.70 L169.55,681.70 L169.30,681.70 L169.05,681.70 L168.80,681.70 L168.55,681.70 L168.30,681.70 L168.05,681.70 L167.80,681.70 L167.55,681.70 L167.30,681.70 L167.05,681.70 L166.80,681.70 L166.55,681.70 L166.30,681.70 L166.05,681.70 L165.80,681.70 L165.55,681.70 L165.30,681.69 L165.05,681.69 L164.80,681.69 L164.55,681.69 L164.30,681.69 L164.05,681.69 L163.80,681.69 L163.55,681.69 L163.30,681.69 L163.05,681.69 L162.80,681.69 L162.55,681.69 L162.30,681.69 L162.05,681.68 L161.80,681.68 L161.55,681.68 L161.30,681.68 L161.05,681.68 L160.80,681.68 L160.55,681.67 L160.30,681.67 L160.05,681.67 L159.80,681.67 L159.55,681.66 L159.30,681.66 L159.05,681.66 L158.80,681.65 L158.55,681.65 L158.30,681.64 L158.05,681.64 L157.80,681.63 L157.55,681.63 L157.30,681.62 L157.05,681.62 L156.80,681.61 L156.55,681.60 L156.30,681.59 L156.05,681.58 L155.80,681.57 L155.55,681.56 L155.30,681.55 L155.05,681.54 L154.80,681.52 L154.55,681.51 L154.30,681.49 L154.05,681.47 L153.80,681.45 L153.55,681.43 L153.30,681.41 L153.05,681.38 L152.80,681.35 L152.55,681.32 L152.30,681.29 L152.05,681.25 L151.80,681.22 L151.55,681.17 L151.30,681.13 L151.05,681.08 L150.80,681.03 L150.55,680.97 L150.30,680.90 L150.05,680.84 L149.80,680.76 L149.55,680.68 L149.30,680.59 L149.05,680.50 L148.80,680.39 L148.55,680.28 L148.30,680.16 L148.05,680.02 L147.80,679.88 L147.55,679.72 L147.30,679.55 L147.05,679.37 L146.80,679.17 L146.55,678.96 L146.30,678.72 L146.05,678.47 L145.80,678.19 L145.55,677.89 L145.30,677.57 L145.05,677.22 L144.80,676.85 L144.55,676.44 L144.30,676.00 L144.05,675.52 L143.80,675.01 L143.55,674.45 L143.30,673.85 L143.05,673.21 L142.80,672.51 L142.55,671.76 L142.30,670.96 L142.05,670.09 L141.80,669.16 L141.55,668.16 L141.30,667.09 L141.05,665.95 L140.80,664.72 L140.55,663.42 L140.30,662.02 L140.05,660.54 L139.80,658.96 L139.55,657.29 L139.30,655.51 L139.05,653.63 L138.80,651.65 L138.55,649.56 L138.30,647.37 L138.05,645.07 L137.80,642.66 L137.55,640.15 L137.30,637.53 L137.05,634.81 L136.80,632.00 L136.55,629.10 L136.30,626.12 L136.05,623.05 L135.80,619.92 L135.55,616.73 L135.30,613.48 L135.05,610.20 L134.80,606.89 L134.55,603.55 L134.30,599.95 L134.05,595.95 L133.80,591.98 L133.55,588.05 L133.30,584.20 L133.05,580.42 L132.80,576.74 L132.55,573.18 L132.30,569.74 L132.05,566.43 L131.80,563.26 L131.55,560.24 L131.30,557.38 L131.05,554.66 L130.80,552.10 L130.55,549.70 L130.30,547.44 L130.05,545.33 L129.80,543.37 L129.55,541.54 L129.30,539.85 L129.05,538.27 L128.80,536.82 L128.55,535.48 L128.30,534.25 L128.05,533.12 L127.80,532.08 L127.55,531.12 L127.30,530.25 L127.05,529.45 L126.80,528.72 L126.55,528.05 L126.30,527.44 L126.05,526.89 L125.80,526.38 L125.55,525.92 L125.30,525.50 L125.05,525.12 L124.80,524.77 L124.55,524.46 L124.30,524.17 L124.05,523.91 L123.80,523.68 L123.55,523.46 L123.30,523.27 L123.05,523.09 L122.80,522.93 L122.55,522.79 L122.30,522.66 L122.05,522.54 L121.80,522.43 L121.55,522.33 L121.30,522.25 L121.05,522.17 L120.80,522.09 L120.55,522.03 L120.30,521.97 L120.05,521.91 L119.80,521.86 L119.55,521.82 L119.30,521.78 L119.05,521.74 L118.80,521.71 L118.55,521.68 L118.30,521.66 L118.05,521.63 L117.80,521.61 L117.55,521.59 L117.30,521.57 L117.05,521.56 L116.80,521.54 L116.55,521.53 L116.30,521.51 L116.05,521.50 L115.80,521.49 L115.55,521.49 L115.30,521.48 L115.05,521.47 L114.80,521.46 L114.55,521.46 L114.30,521.45 L114.05,521.45 L113.80,521.44 L113.55,521.44 L113.30,521.43 L113.05,521.43 L112.80,521.43 L112.55,521.43 L112.30,521.42 L112.05,521.42 L111.80,521.42 L111.55,521.42 L111.30,521.42 L111.05,521.41 L110.80,521.41 L110.55,521.41 L110.30,521.41 L110.05,521.41 L109.80,521.41 L109.55,521.41 L109.30,521.41 L109.05,521.41 L108.80,521.41 L108.55,521.41 L108.30,521.40 L108.05,521.40 L107.80,521.40 L107.55,521.40 L107.30,521.40 L107.05,521.40 L106.80,521.40 L106.55,521.40 L106.30,521.40 L106.05,521.40 L105.80,521.40 L105.55,521.40 L105.30,521.40 L105.05,521.40 L104.80,521.40 L104.55,521.40 L104.30,521.40 L104.05,521.40 L103.80,521.40 L103.55,521.40 L103.30,521.40 L103.05,521.40 L102.80,521.40 L102.55,521.40 L102.30,521.40 L102.05,521.40 L101.80,521.40 L101.55,521.40 L101.30,521.40 L101.05,521.40 L100.80,521.40 L100.55,521.40 L100.30,521.40 L100.05,521.40 L99.80,521.40 L99.55,521.40 L99.30,521.40 L99.05,521.40 L98.80,521.40 L98.55,521.40 L98.30,521.40 L98.05,521.40 L97.80,521.40 L97.55,521.40 L97.30,521.40 L97.05,521.40 L96.80,521.40 L96.55,521.40 L96.30,521.40 L96.05,521.40 L95.80,521.40 L95.55,521.40 L95.30,521.40 L95.05,521.40 L94.80,521.40 L94.55,521.40 L94.30,521.40 L94.05,521.40 L93.80,521.40 L93.55,521.40 L93.30,521.40 L93.05,521.40 L92.80,521.40 L92.55,521.40 L92.30,521.40 L92.05,521.40 L91.80,521.40 L91.55,521.40 L91.30,521.40 L91.05,521.40 L90.80,521.40 L90.55,521.40 L90.30,521.40 L90.05,521.40 L89.80,521.40 L89.55,521.40 L89.30,521.40 L89.05,521.40 L88.80,521.40 L88.55,521.40 L88.30,521.40 L88.05,521.40 L87.80,521.40 L87.55,521.40 L87.30,521.40 L87.05,521.40 L86.80,521.40 L86.55,521.40 L86.30,521.40 L86.05,521.40 L85.80,521.40 L85.55,521.40 L85.30,521.40 L85.05,521.40 L84.80,521.40 L84.55,521.40 L84.30,521.40 L84.05,521.40 L83.80,521.40 L83.55,521.40 L83.30,521.40 L83.05,521.40 L82.80,521.40 L82.55,521.40 L82.30,521.40 L82.05,521.40 L81.80,521.40 L81.55,521.40 L81.30,521.40 L81.05,521.40 L80.80,521.40 L80.55,521.40 L80.30,521.40 L80.05,521.40 L79.80,521.40 L79.55,521.40 L79.30,521.40 L79.05,521.40 L78.80,521.40 L78.55,521.40 L78.30,521.40 L78.05,521.40 L77.80,521.40 L77.55,521.40 L77.30,521.40 L77.05,521.40 L76.80,521.40 L76.55,521.40 L76.30,521.40 L76.05,521.40 L75.80,521.40 L75.55,521.40 L75.30,521.40 L75.05,521.40 L74.80,521.40 L74.55,521.40 L74.30,521.40 L74.05,521.40 L73.80,521.40 L73.55,521.40 L73.30,521.40 L73.05,521.40 L72.80,521.40 L72.55,521.40 L72.30,521.40 L72.05,521.40 L71.80,521.40 L71.55,521.40 L71.30,521.40 L71.05,521.40 L70.80,521.40 L70.55,521.40 L70.30,521.40 L70.05,521.40 L69.80,521.40 L69.55,521.40 L69.30,521.40 L69.05,521.40 L68.80,521.40 L68.55,521.40 L68.30,521.40 L68.05,521.40 L67.80,521.40 L67.55,521.40 L67.30,521.40 L67.05,521.40 L66.80,521.40 L66.55,521.40 L66.30,521.40 L66.05,521.40 L65.80,521.40 L65.55,521.40 L65.30,521.40 L65.05,521.40 L64.80,521.40 L64.55,521.40 L64.30,521.40 L64.05,521.40 L63.80,521.40 L63.55,521.40 L63.30,521.40 L63.05,521.40 L62.80,521.40 L62.55,521.40 L62.30,521.40 L62.05,521.40 L61.80,521.40 L61.55,521.40 L61.30,521.40 L61.05,521.40 L60.80,521.40 L60.55,521.40 L60.30,521.40 L60.05,521.41 L59.80,521.41 L59.55,521.41 L59.30,521.41 L59.05,521.41 L58.80,521.41 L58.55,521.41 L58.30,521.41 L58.05,521.41 L57.80,521.41 L57.55,521.41 L57.30,521.42 L57.05,521.42 L56.80,521.42 L56.55,521.42 L56.30,521.42 L56.05,521.43 L55.80,521.43 L55.55,521.43 L55.30,521.44 L55.05,521.44 L54.80,521.44 L54.55,521.45 L54.30,521.45 L54.05,521.46 L53.80,521.47 L53.55,521.47 L53.30,521.48 L53.05,521.49 L52.80,521.50 L52.55,521.51 L52.30,521.52 L52.05,521.53 L51.80,521.55 L51.55,521.56 L51.30,521.58 L51.05,521.60 L50.80,521.62 L50.55,521.65 L50.30,521.67 L50.05,521.70 L49.80,521.73 L49.55,521.77 L49.30,521.80 L49.05,521.85 L48.80,521.89 L48.55,521.95 L48.30,522.00 L48.05,522.07 L47.80,522.14 L47.55,522.21 L47.30,522.30 L47.05,522.39 L46.80,522.50 L46.55,522.62 L46.30,522.74 L46.05,522.88 L45.80,523.04 L45.55,523.21 L45.30,523.40 L45.05,523.61 L44.80,523.85 L44.55,524.10 L44.30,524.39 L44.05,524.70 L43.80,525.05 L43.55,525.43 L43.30,525.86 L43.05,526.33 L42.80,526.85 L42.55,527.42 L42.30,528.05 L42.05,528.75 L41.80,529.52 Z" fill="#7165bb" fill-opacity="0.5"/><path d="M45.00,654.90 L45.25,655.71 L45.50,656.44 L45.75,657.10 L46.00,657.70 L46.25,658.24 L46.50,658.74 L46.75,659.18 L47.00,659.58 L47.25,659.94 L47.50,660.27 L47.75,660.57 L48.00,660.84 L48.25,661.08 L48.50,661.30 L48.75,661.50 L49.00,661.68 L49.25,661.85 L49.50,661.99 L49.75,662.13 L50.00,662.25 L50.25,662.36 L50.50,662.46 L50.75,662.55 L51.00,662.63 L51.25,662.70 L51.50,662.77 L51.75,662.83 L52.00,662.88 L52.25,662.93 L52.50,662.98 L52.75,663.02 L53.00,663.05 L53.25,663.09 L53.50,663.12 L53.75,663.14 L54.00,663.17 L54.25,663.19 L54.50,663.21 L54.75,663.23 L55.00,663.24 L55.25,663.26 L55.50,663.27 L55.75,663.28 L56.00,663.30 L56.25,663.31 L56.50,663.31 L56.75,663.32 L57.00,663.33 L57.25,663.34 L57.50,663.34 L57.75,663.35 L58.00,663.35 L58.25,663.36 L58.50,663.36 L58.75,663.37 L59.00,663.37 L59.25,663.37 L59.50,663.37 L59.75,663.38 L60.00,663.38 L60.25,663.38 L60.50,663.38 L60.75,663.38 L61.00,663.39 L61.25,663.39 L61.50,663.39 L61.75,663.39 L62.00,663.39 L62.25,663.39 L62.50,663.39 L62.75,663.39 L63.00,663.39 L63.25,663.39 L63.50,663.39 L63.75,663.40 L64.00,663.40 L64.25,663.40 L64.50,663.40 L64.75,663.40 L65.00,663.40 L65.25,663.40 L65.50,663.40 L65.75,663.40 L66.00,663.40 L66.25,663.40 L66.50,663.40 L66.75,663.40 L67.00,663.40 L67.25,663.40 L67.50,663.40 L67.75,663.40 L68.00,663.40 L68.25,663.40 L68.50,663.40 L68.75,663.40 L69.00,663.40 L69.25,663.40 L69.50,663.40 L69.75,663.40 L70.00,663.40 L70.25,663.40 L70.50,663.40 L70.75,663.40 L71.00,663.40 L71.25,663.40 L71.50,663.40 L71.75,663.40 L72.00,663.40 L72.25,663.40 L72.50,663.40 L72.75,663.40 L73.00,663.40 L73.25,663.40 L73.50,663.40 L73.75,663.40 L74.00,663.40 L74.25,663.40 L74.50,663.40 L74.75,663.40 L75.00,663.40 L75.25,663.40 L75.50,663.40 L75.75,663.40 L76.00,663.40 L76.25,663.40 L76.50,663.40 L76.75,663.40 L77.00,663.40 L77.25,663.40 L77.50,663.40 L77.75,663.40 L78.00,663.40 L78.25,663.40 L78.50,663.40 L78.75,663.40 L79.00,663.40 L79.25,663.40 L79.50,663.40 L79.75,663.40 L80.00,663.40 L80.25,663.40 L80.50,663.40 L80.75,663.40 L81.00,663.40 L81.25,663.40 L81.50,663.40 L81.75,663.40 L82.00,663.40 L82.25,663.40 L82.50,663.40 L82.75,663.40 L83.00,663.40 L83.25,663.40 L83.50,663.40 L83.75,663.40 L84.00,663.40 L84.25,663.40 L84.50,663.40 L84.75,663.40 L85.00,663.40 L85.25,663.40 L85.50,663.40 L85.75,663.40 L86.00,663.40 L86.25,663.40 L86.50,663.40 L86.75,663.40 L87.00,663.40 L87.25,663.40 L87.50,663.40 L87.75,663.40 L88.00,663.40 L88.25,663.40 L88.50,663.40 L88.75,663.40 L89.00,663.40 L89.25,663.40 L89.50,663.40 L89.75,663.40 L90.00,663.40 L90.25,663.40 L90.50,663.40 L90.75,663.40 L91.00,663.40 L91.25,663.40 L91.50,663.40 L91.75,663.40 L92.00,663.40 L92.25,663.40 L92.50,663.40 L92.75,663.40 L93.00,663.40 L93.25,663.40 L93.50,663.40 L93.75,663.40 L94.00,663.40 L94.25,663.40 L94.50,663.40 L94.75,663.40 L95.00,663.40 L95.25,663.40 L95.50,663.40 L95.75,663.40 L96.00,663.40 L96.25,663.40 L96.50,663.40 L96.75,663.40 L97.00,663.40 L97.25,663.40 L97.50,663.40 L97.75,663.40 L98.00,663.40 L98.25,663.40 L98.50,663.40 L98.75,663.40 L99.00,663.40 L99.25,663.40 L99.50,663.40 L99.75,663.40 L100.00,663.40 L100.25,663.40 L100.50,663.40 L100.75,663.40 L101.00,663.40 L101.25,663.40 L101.50,663.40 L101.75,663.40 L102.00,663.40 L102.25,663.40 L102.50,663.40 L102.75,663.40 L103.00,663.40 L103.25,663.40 L103.50,663.40 L103.75,663.40 L104.00,663.40 L104.25,663.40 L104.50,663.40 L104.75,663.40 L105.00,663.40 L105.25,663.40 L105.50,663.40 L105.75,663.40 L106.00,663.40 L106.25,663.40 L106.50,663.40 L106.75,663.40 L107.00,663.40 L107.25,663.40 L107.50,663.40 L107.75,663.40 L108.00,663.40 L108.25,663.40 L108.50,663.40 L108.75,663.40 L109.00,663.40 L109.25,663.40 L109.50,663.40 L109.75,663.40 L110.00,663.39 L110.25,663.39 L110.50,663.39 L110.75,663.39 L111.00,663.39 L111.25,663.39 L111.50,663.39 L111.75,663.39 L112.00,663.39 L112.25,663.39 L112.50,663.39 L112.75,663.39 L113.00,663.38 L113.25,663.38 L113.50,663.38 L113.75,663.38 L114.00,663.38 L114.25,663.37 L114.50,663.37 L114.75,663.37 L115.00,663.36 L115.25,663.36 L115.50,663.36 L115.75,663.35 L116.00,663.35 L116.25,663.34 L116.50,663.34 L116.75,663.33 L117.00,663.32 L117.25,663.32 L117.50,663.31 L117.75,663.30 L118.00,663.29 L118.25,663.28 L118.50,663.27 L118.75,663.25 L119.00,663.24 L119.25,663.22 L119.50,663.20 L119.75,663.18 L120.00,663.16 L120.25,663.14 L120.50,663.11 L120.75,663.08 L121.00,663.05 L121.25,663.01 L121.50,662.97 L121.75,662.93 L122.00,662.88 L122.25,662.83 L122.50,662.77 L122.75,662.71 L123.00,662.64 L123.25,662.57 L123.50,662.48 L123.75,662.39 L124.00,662.29 L124.25,662.18 L124.50,662.06 L124.75,661.92 L125.00,661.77 L125.25,661.61 L125.50,661.43 L125.75,661.24 L126.00,661.02 L126.25,660.79 L126.50,660.53 L126.75,660.25 L127.00,659.93 L127.25,659.59 L127.50,659.22 L127.75,658.81 L128.00,658.36 L128.25,657.87 L128.50,657.33 L128.75,656.74 L129.00,656.10 L129.25,655.40 L129.50,654.64 L129.75,653.81 L130.00,652.91 L130.25,651.92 L130.50,650.86 L130.75,649.70 L131.00,648.44 L131.25,647.09 L131.50,645.63 L131.75,644.05 L132.00,642.36 L132.25,640.54 L132.50,638.59 L132.75,636.50 L133.00,634.28 L133.25,631.93 L133.50,629.43 L133.75,626.78 L134.00,624.00 L134.25,621.08 L134.50,618.02 L134.75,614.83 L135.00,611.53 L135.25,608.10 L135.50,604.58 L135.75,600.97 L136.00,597.28 L136.25,593.52 L136.50,589.73 L136.75,585.90 L137.00,582.27 L137.25,578.95 L137.50,575.65 L137.75,572.37 L138.00,569.13 L138.25,565.94 L138.50,562.81 L138.75,559.75 L139.00,556.76 L139.25,553.85 L139.50,551.03 L139.75,548.31 L140.00,545.69 L140.25,543.16 L140.50,540.74 L140.75,538.43 L141.00,536.22 L141.25,534.12 L141.50,532.13 L141.75,530.24 L142.00,528.45 L142.25,526.77 L142.50,525.17 L142.75,523.68 L143.00,522.27 L143.25,520.95 L143.50,519.72 L143.75,518.57 L144.00,517.49 L144.25,516.48 L144.50,515.54 L144.75,514.66 L145.00,513.85 L145.25,513.09 L145.50,512.39 L145.75,511.74 L146.00,511.13 L146.25,510.57 L146.50,510.05 L146.75,509.57 L147.00,509.12 L147.25,508.71 L147.50,508.33 L147.75,507.98 L148.00,507.65 L148.25,507.35 L148.50,507.07 L148.75,506.81 L149.00,506.58 L149.25,506.36 L149.50,506.16 L149.75,505.97 L150.00,505.80 L150.25,505.64 L150.50,505.50 L150.75,505.36 L151.00,505.24 L151.25,505.12 L151.50,505.02 L151.75,504.92 L152.00,504.83 L152.25,504.75 L152.50,504.68 L152.75,504.61 L153.00,504.54 L153.25,504.48 L153.50,504.43 L153.75,504.38 L154.00,504.33 L154.25,504.29 L154.50,504.25 L154.75,504.21 L155.00,504.18 L155.25,504.15 L155.50,504.12 L155.75,504.10 L156.00,504.07 L156.25,504.05 L156.50,504.03 L156.75,504.01 L157.00,504.00 L157.25,503.98 L157.50,503.97 L157.75,503.95 L158.00,503.94 L158.25,503.93 L158.50,503.92 L158.75,503.91 L159.00,503.90 L159.25,503.89 L159.50,503.89 L159.75,503.88 L160.00,503.87 L160.25,503.87 L160.50,503.86 L160.75,503.86 L161.00,503.85 L161.25,503.85 L161.50,503.84 L161.75,503.84 L162.00,503.84 L162.25,503.83 L162.50,503.83 L162.75,503.83 L163.00,503.83 L163.25,503.82 L163.50,503.82 L163.75,503.82 L164.00,503.82 L164.25,503.82 L164.50,503.82 L164.75,503.81 L165.00,503.81 L165.25,503.81 L165.50,503.81 L165.75,503.81 L166.00,503.81 L166.25,503.81 L166.50,503.81 L166.75,503.81 L167.00,503.81 L167.25,503.81 L167.50,503.81 L167.75,503.81 L168.00,503.81 L168.25,503.80 L168.50,503.80 L168.75,503.80 L169.00,503.80 L169.25,503.80 L169.50,503.80 L169.75,503.80 L170.00,503.80 L170.25,503.80 L170.50,503.80 L170.75,503.80 L171.00,503.80 L171.25,503.80 L171.50,503.80 L171.75,503.80 L172.00,503.80 L172.25,503.80 L172.50,503.80 L172.75,503.80 L173.00,503.80 L173.25,503.80 L173.50,503.80 L173.75,503.80 L174.00,503.80 L174.25,503.80 L174.50,503.80 L174.75,503.80 L175.00,503.80 L175.25,503.80 L175.50,503.80 L175.75,503.80 L176.00,503.80 L176.25,503.80 L176.50,503.80 L176.75,503.80 L177.00,503.80 L177.25,503.80 L177.50,503.80 L177.75,503.80 L178.00,503.80 L178.25,503.80 L178.50,503.80 L178.75,503.80 L179.00,503.80 L179.25,503.80 L179.50,503.80 L179.75,503.80 L180.00,503.80 L180.25,503.80 L180.50,503.80 L180.75,503.80 L181.00,503.80 L181.25,503.80 L181.50,503.80 L181.75,503.80 L182.00,503.80 L182.25,503.80 L182.50,503.80 L182.75,503.80 L183.00,503.80 L183.25,503.80 L183.50,503.80 L183.75,503.80 L184.00,503.80 L184.25,503.80 L184.50,503.80 L184.75,503.80 L185.00,503.80 L185.25,503.80 L185.50,503.80 L185.75,503.80 L186.00,503.80 L186.25,503.80 L186.50,503.80 L186.75,503.80 L187.00,503.80 L187.25,503.80 L187.50,503.80 L187.75,503.80 L188.00,503.80 L188.25,503.80 L188.50,503.80 L188.75,503.80 L189.00,503.80 L189.25,503.80 L189.50,503.80 L189.75,503.80 L190.00,503.80 L190.25,503.80 L190.50,503.80 L190.75,503.80 L191.00,503.80 L191.25,503.80 L191.50,503.80 L191.75,503.80 L192.00,503.80 L192.25,503.80 L192.50,503.80 L192.75,503.80 L193.00,503.80 L193.25,503.80 L193.50,503.80 L193.75,503.80 L194.00,503.80 L194.25,503.80 L194.50,503.80 L194.75,503.80 L195.00,503.80 L195.25,503.80 L195.50,503.80 L195.75,503.80 L196.00,503.80 L196.25,503.80 L196.50,503.80 L196.75,503.80 L197.00,503.80 L197.25,503.80 L197.50,503.80 L197.75,503.80 L198.00,503.80 L198.25,503.80 L198.50,503.80 L198.75,503.80 L199.00,503.80 L199.25,503.80 L199.50,503.80 L199.75,503.80 L200.00,503.80 L200.25,503.80 L200.50,503.80 L200.75,503.80 L201.00,503.80 L201.25,503.80 L201.50,503.80 L201.75,503.80 L202.00,503.80 L202.25,503.80 L202.50,503.80 L202.75,503.80 L203.00,503.80 L203.25,503.80 L203.50,503.80 L203.75,503.80 L204.00,503.80 L204.25,503.80 L204.50,503.80 L204.75,503.80 L205.00,503.80 L205.25,503.80 L205.50,503.80 L205.75,503.80 L206.00,503.80 L206.25,503.80 L206.50,503.80 L206.75,503.80 L207.00,503.80 L207.25,503.80 L207.50,503.80 L207.75,503.80 L208.00,503.80 L208.25,503.80 L208.50,503.80 L208.75,503.80 L209.00,503.80 L209.25,503.80 L209.50,503.80 L209.75,503.80 L210.00,503.80 L210.25,503.80 L210.50,503.80 L210.75,503.80 L211.00,503.80 L211.25,503.80 L211.50,503.80 L211.75,503.80 L212.00,503.80 L212.25,503.80 L212.50,503.80 L212.75,503.80 L213.00,503.80 L213.25,503.80 L213.50,503.80 L213.75,503.80 L214.00,503.80 L214.25,503.80 L214.50,503.80 L214.75,503.80 L215.00,503.80 L215.25,503.80 L215.50,503.80 L215.75,503.80 L216.00,503.80 L216.25,503.80 L216.50,503.80 L216.75,503.80 L217.00,503.80 L217.25,503.80 L217.50,503.80 L217.75,503.80 L218.00,503.80 L218.25,503.80 L218.50,503.80 L218.75,503.80 L219.00,503.80 L219.25,503.80 L219.50,503.80 L219.75,503.80 L220.00,503.80 L220.25,503.80 L220.50,503.80 L220.75,503.80 L221.00,503.80 L221.25,503.80 L221.50,503.80 L221.75,503.80 L222.00,503.80 L222.25,503.80 L222.50,503.80 L222.75,503.80 L223.00,503.80 L223.25,503.80 L223.50,503.80 L223.75,503.80 L224.00,503.80 L224.25,503.80 L224.50,503.80 L224.75,503.80 L225.00,503.80 L225.25,503.80 L225.50,503.80 L225.75,503.80 L226.00,503.80 L226.25,503.80 L226.50,503.80 L226.75,503.80 L227.00,503.80 L227.00,529.13 L226.75,528.57 L226.50,528.06 L226.25,527.58 L226.00,527.13 L225.75,526.72 L225.50,526.33 L225.25,525.97 L225.00,525.63 L224.75,525.32 L224.50,525.03 L224.25,524.76 L224.00,524.51 L223.75,524.27 L223.50,524.05 L223.25,523.85 L223.00,523.66 L222.75,523.48 L222.50,523.32 L222.25,523.17 L222.00,523.02 L221.75,522.89 L221.50,522.77 L221.25,522.65 L221.00,522.55 L220.75,522.45 L220.50,522.35 L220.25,522.27 L220.00,522.19 L219.75,522.11 L219.50,522.04 L219.25,521.98 L219.00,521.92 L218.75,521.86 L218.50,521.81 L218.25,521.76 L218.00,521.71 L217.75,521.67 L217.50,521.63 L217.25,521.60 L217.00,521.56 L216.75,521.53 L216.50,521.50 L216.25,521.47 L216.00,521.45 L215.75,521.42 L215.50,521.40 L215.25,521.38 L215.00,521.36 L214.75,521.34 L214.50,521.33 L214.25,521.31 L214.00,521.30 L213.75,521.28 L213.50,521.27 L213.25,521.26 L213.00,521.25 L212.75,521.24 L212.50,521.23 L212.25,521.22 L212.00,521.21 L211.75,521.20 L211.50,521.20 L211.25,521.19 L211.00,521.18 L210.75,521.18 L210.50,521.17 L210.25,521.17 L210.00,521.16 L209.75,521.16 L209.50,521.15 L209.25,521.15 L209.00,521.15 L208.75,521.14 L208.50,521.14 L208.25,521.14 L208.00,521.14 L207.75,521.13 L207.50,521.13 L207.25,521.13 L207.00,521.13 L206.75,521.12 L206.50,521.12 L206.25,521.12 L206.00,521.12 L205.75,521.12 L205.50,521.12 L205.25,521.12 L205.00,521.11 L204.75,521.11 L204.50,521.11 L204.25,521.11 L204.00,521.11 L203.75,521.11 L203.50,521.11 L203.25,521.11 L203.00,521.11 L202.75,521.11 L202.50,521.11 L202.25,521.11 L202.00,521.11 L201.75,521.11 L201.50,521.11 L201.25,521.11 L201.00,521.10 L200.75,521.10 L200.50,521.10 L200.25,521.10 L200.00,521.10 L199.75,521.10 L199.50,521.10 L199.25,521.10 L199.00,521.10 L198.75,521.10 L198.50,521.10 L198.25,521.10 L198.00,521.10 L197.75,521.10 L197.50,521.10 L197.25,521.10 L197.00,521.10 L196.75,521.10 L196.50,521.10 L196.25,521.10 L196.00,521.10 L195.75,521.10 L195.50,521.10 L195.25,521.10 L195.00,521.10 L194.75,521.10 L194.50,521.10 L194.25,521.10 L194.00,521.10 L193.75,521.10 L193.50,521.10 L193.25,521.10 L193.00,521.10 L192.75,521.10 L192.50,521.10 L192.25,521.10 L192.00,521.10 L191.75,521.10 L191.50,521.10 L191.25,521.10 L191.00,521.10 L190.75,521.10 L190.50,521.10 L190.25,521.10 L190.00,521.10 L189.75,521.10 L189.50,521.10 L189.25,521.10 L189.00,521.10 L188.75,521.10 L188.50,521.10 L188.25,521.10 L188.00,521.10 L187.75,521.10 L187.50,521.10 L187.25,521.10 L187.00,521.10 L186.75,521.10 L186.50,521.10 L186.25,521.10 L186.00,521.10 L185.75,521.10 L185.50,521.10 L185.25,521.10 L185.00,521.10 L184.75,521.10 L184.50,521.10 L184.25,521.10 L184.00,521.10 L183.75,521.10 L183.50,521.10 L183.25,521.10 L183.00,521.10 L182.75,521.10 L182.50,521.10 L182.25,521.10 L182.00,521.10 L181.75,521.10 L181.50,521.10 L181.25,521.10 L181.00,521.10 L180.75,521.10 L180.50,521.10 L180.25,521.10 L180.00,521.10 L179.75,521.10 L179.50,521.10 L179.25,521.10 L179.00,521.10 L178.75,521.10 L178.50,521.10 L178.25,521.10 L178.00,521.10 L177.75,521.10 L177.50,521.10 L177.25,521.10 L177.00,521.10 L176.75,521.10 L176.50,521.10 L176.25,521.10 L176.00,521.10 L175.75,521.10 L175.50,521.10 L175.25,521.10 L175.00,521.10 L174.75,521.10 L174.50,521.10 L174.25,521.10 L174.00,521.10 L173.75,521.10 L173.50,521.10 L173.25,521.10 L173.00,521.10 L172.75,521.10 L172.50,521.10 L172.25,521.10 L172.00,521.10 L171.75,521.10 L171.50,521.10 L171.25,521.10 L171.00,521.10 L170.75,521.10 L170.50,521.10 L170.25,521.10 L170.00,521.10 L169.75,521.10 L169.50,521.10 L169.25,521.10 L169.00,521.10 L168.75,521.10 L168.50,521.10 L168.25,521.10 L168.00,521.11 L167.75,521.11 L167.50,521.11 L167.25,521.11 L167.00,521.11 L166.75,521.11 L166.50,521.11 L166.25,521.11 L166.00,521.11 L165.75,521.11 L165.50,521.11 L165.25,521.11 L165.00,521.11 L164.75,521.11 L164.50,521.12 L164.25,521.12 L164.00,521.12 L163.75,521.12 L163.50,521.12 L163.25,521.12 L163.00,521.13 L162.75,521.13 L162.50,521.13 L162.25,521.13 L162.00,521.14 L161.75,521.14 L161.50,521.14 L161.25,521.15 L161.00,521.15 L160.75,521.16 L160.50,521.16 L160.25,521.17 L160.00,521.17 L159.75,521.18 L159.50,521.19 L159.25,521.19 L159.00,521.20 L158.75,521.21 L158.50,521.22 L158.25,521.23 L158.00,521.24 L157.75,521.25 L157.50,521.27 L157.25,521.28 L157.00,521.30 L156.75,521.31 L156.50,521.33 L156.25,521.35 L156.00,521.37 L155.75,521.40 L155.50,521.42 L155.25,521.45 L155.00,521.48 L154.75,521.51 L154.50,521.55 L154.25,521.59 L154.00,521.63 L153.75,521.68 L153.50,521.73 L153.25,521.78 L153.00,521.84 L152.75,521.91 L152.50,521.98 L152.25,522.05 L152.00,522.13 L151.75,522.22 L151.50,522.32 L151.25,522.42 L151.00,522.54 L150.75,522.66 L150.50,522.80 L150.25,522.94 L150.00,523.10 L149.75,523.27 L149.50,523.46 L149.25,523.66 L149.00,523.88 L148.75,524.11 L148.50,524.37 L148.25,524.65 L148.00,524.95 L147.75,525.28 L147.50,525.63 L147.25,526.01 L147.00,526.42 L146.75,526.87 L146.50,527.35 L146.25,527.87 L146.00,528.43 L145.75,529.04 L145.50,529.69 L145.25,530.39 L145.00,531.15 L144.75,531.96 L144.50,532.84 L144.25,533.78 L144.00,534.79 L143.75,535.87 L143.50,537.02 L143.25,538.25 L143.00,539.57 L142.75,540.98 L142.50,542.47 L142.25,544.07 L142.00,545.75 L141.75,547.54 L141.50,549.43 L141.25,551.42 L141.00,553.52 L140.75,555.73 L140.50,558.04 L140.25,560.46 L140.00,562.99 L139.75,565.61 L139.50,568.33 L139.25,571.15 L139.00,574.06 L138.75,577.05 L138.50,580.11 L138.25,583.24 L138.00,586.43 L137.75,589.67 L137.50,592.95 L137.25,596.25 L137.00,599.57 L136.75,603.20 L136.50,607.03 L136.25,610.82 L136.00,614.58 L135.75,618.27 L135.50,621.88 L135.25,625.40 L135.00,628.83 L134.75,632.13 L134.50,635.32 L134.25,638.38 L134.00,641.30 L133.75,644.08 L133.50,646.73 L133.25,649.23 L133.00,651.58 L132.75,653.80 L132.50,655.89 L132.25,657.84 L132.00,659.66 L131.75,661.35 L131.50,662.93 L131.25,664.39 L131.00,665.74 L130.75,667.00 L130.50,668.16 L130.25,669.22 L130.00,670.21 L129.75,671.11 L129.50,671.94 L129.25,672.70 L129.00,673.40 L128.75,674.04 L128.50,674.63 L128.25,675.17 L128.00,675.66 L127.75,676.11 L127.50,676.52 L127.25,676.89 L127.00,677.23 L126.75,677.55 L126.50,677.83 L126.25,678.09 L126.00,678.32 L125.75,678.54 L125.50,678.73 L125.25,678.91 L125.00,679.07 L124.75,679.22 L124.50,679.36 L124.25,679.48 L124.00,679.59 L123.75,679.69 L123.50,679.78 L123.25,679.87 L123.00,679.94 L122.75,680.01 L122.50,680.07 L122.25,680.13 L122.00,680.18 L121.75,680.23 L121.50,680.27 L121.25,680.31 L121.00,680.35 L120.75,680.38 L120.50,680.41 L120.25,680.44 L120.00,680.46 L119.75,680.48 L119.50,680.50 L119.25,680.52 L119.00,680.54 L118.75,680.55 L118.50,680.57 L118.25,680.58 L118.00,680.59 L117.75,680.60 L117.50,680.61 L117.25,680.62 L117.00,680.62 L116.75,680.63 L116.50,680.64 L116.25,680.64 L116.00,680.65 L115.75,680.65 L115.50,680.66 L115.25,680.66 L115.00,680.66 L114.75,680.67 L114.50,680.67 L114.25,680.67 L114.00,680.68 L113.75,680.68 L113.50,680.68 L113.25,680.68 L113.00,680.68 L112.75,680.69 L112.50,680.69 L112.25,680.69 L112.00,680.69 L111.75,680.69 L111.50,680.69 L111.25,680.69 L111.00,680.69 L110.75,680.69 L110.50,680.69 L110.25,680.69 L110.00,680.69 L109.75,680.70 L109.50,680.70 L109.25,680.70 L109.00,680.70 L108.75,680.70 L108.50,680.70 L108.25,680.70 L108.00,680.70 L107.75,680.70 L107.50,680.70 L107.25,680.70 L107.00,680.70 L106.75,680.70 L106.50,680.70 L106.25,680.70 L106.00,680.70 L105.75,680.70 L105.50,680.70 L105.25,680.70 L105.00,680.70 L104.75,680.70 L104.50,680.70 L104.25,680.70 L104.00,680.70 L103.75,680.70 L103.50,680.70 L103.25,680.70 L103.00,680.70 L102.75,680.70 L102.50,680.70 L102.25,680.70 L102.00,680.70 L101.75,680.70 L101.50,680.70 L101.25,680.70 L101.00,680.70 L100.75,680.70 L100.50,680.70 L100.25,680.70 L100.00,680.70 L99.75,680.70 L99.50,680.70 L99.25,680.70 L99.00,680.70 L98.75,680.70 L98.50,680.70 L98.25,680.70 L98.00,680.70 L97.75,680.70 L97.50,680.70 L97.25,680.70 L97.00,680.70 L96.75,680.70 L96.50,680.70 L96.25,680.70 L96.00,680.70 L95.75,680.70 L95.50,680.70 L95.25,680.70 L95.00,680.70 L94.75,680.70 L94.50,680.70 L94.25,680.70 L94.00,680.70 L93.75,680.70 L93.50,680.70 L93.25,680.70 L93.00,680.70 L92.75,680.70 L92.50,680.70 L92.25,680.70 L92.00,680.70 L91.75,680.70 L91.50,680.70 L91.25,680.70 L91.00,680.70 L90.75,680.70 L90.50,680.70 L90.25,680.70 L90.00,680.70 L89.75,680.70 L89.50,680.70 L89.25,680.70 L89.00,680.70 L88.75,680.70 L88.50,680.70 L88.25,680.70 L88.00,680.70 L87.75,680.70 L87.50,680.70 L87.25,680.70 L87.00,680.70 L86.75,680.70 L86.50,680.70 L86.25,680.70 L86.00,680.70 L85.75,680.70 L85.50,680.70 L85.25,680.70 L85.00,680.70 L84.75,680.70 L84.50,680.70 L84.25,680.70 L84.00,680.70 L83.75,680.70 L83.50,680.70 L83.25,680.70 L83.00,680.70 L82.75,680.70 L82.50,680.70 L82.25,680.70 L82.00,680.70 L81.75,680.70 L81.50,680.70 L81.25,680.70 L81.00,680.70 L80.75,680.70 L80.50,680.70 L80.25,680.70 L80.00,680.70 L79.75,680.70 L79.50,680.70 L79.25,680.70 L79.00,680.70 L78.75,680.70 L78.50,680.70 L78.25,680.70 L78.00,680.70 L77.75,680.70 L77.50,680.70 L77.25,680.70 L77.00,680.70 L76.75,680.70 L76.50,680.70 L76.25,680.70 L76.00,680.70 L75.75,680.70 L75.50,680.70 L75.25,680.70 L75.00,680.70 L74.75,680.70 L74.50,680.70 L74.25,680.70 L74.00,680.70 L73.75,680.70 L73.50,680.70 L73.25,680.70 L73.00,680.70 L72.75,680.70 L72.50,680.70 L72.25,680.70 L72.00,680.70 L71.75,680.70 L71.50,680.70 L71.25,680.70 L71.00,680.70 L70.75,680.70 L70.50,680.70 L70.25,680.70 L70.00,680.70 L69.75,680.70 L69.50,680.70 L69.25,680.70 L69.00,680.70 L68.75,680.70 L68.50,680.70 L68.25,680.70 L68.00,680.70 L67.75,680.70 L67.50,680.70 L67.25,680.70 L67.00,680.70 L66.75,680.70 L66.50,680.70 L66.25,680.70 L66.00,680.70 L65.75,680.70 L65.50,680.70 L65.25,680.70 L65.00,680.70 L64.75,680.70 L64.50,680.70 L64.25,680.70 L64.00,680.70 L63.75,680.70 L63.50,680.70 L63.25,680.70 L63.00,680.70 L62.75,680.70 L62.50,680.70 L62.25,680.70 L62.00,680.70 L61.75,680.70 L61.50,680.70 L61.25,680.70 L61.00,680.70 L60.75,680.70 L60.50,680.70 L60.25,680.70 L60.00,680.70 L59.75,680.70 L59.50,680.70 L59.25,680.70 L59.00,680.70 L58.75,680.70 L58.50,680.70 L58.25,680.70 L58.00,680.70 L57.75,680.70 L57.50,680.70 L57.25,680.70 L57.00,680.70 L56.75,680.70 L56.50,680.70 L56.25,680.70 L56.00,680.70 L55.75,680.70 L55.50,680.70 L55.25,680.70 L55.00,680.70 L54.75,680.70 L54.50,680.70 L54.25,680.70 L54.00,680.70 L53.75,680.70 L53.50,680.70 L53.25,680.70 L53.00,680.70 L52.75,680.70 L52.50,680.70 L52.25,680.70 L52.00,680.70 L51.75,680.70 L51.50,680.70 L51.25,680.70 L51.00,680.70 L50.75,680.70 L50.50,680.70 L50.25,680.70 L50.00,680.70 L49.75,680.70 L49.50,680.70 L49.25,680.70 L49.00,680.70 L48.75,680.70 L48.50,680.70 L48.25,680.70 L48.00,680.70 L47.75,680.70 L47.50,680.70 L47.25,680.70 L47.00,680.70 L46.75,680.70 L46.50,680.70 L46.25,680.70 L46.00,680.70 L45.75,680.70 L45.50,680.70 L45.25,680.70 L45.00,680.70 Z" fill="#698441" fill-opacity="0.4"/><path d="M44.55,511.80 L44.80,511.80 L45.05,511.80 L45.30,511.80 L45.55,511.80 L45.80,511.80 L46.05,511.80 L46.30,511.80 L46.55,511.80 L46.80,511.80 L47.05,511.80 L47.30,511.80 L47.55,511.80 L47.80,511.80 L48.05,511.80 L48.30,511.80 L48.55,511.80 L48.80,511.80 L49.05,511.80 L49.30,511.80 L49.55,511.80 L49.80,511.80 L50.05,511.80 L50.30,511.80 L50.55,511.80 L50.80,511.80 L51.05,511.80 L51.30,511.80 L51.55,511.80 L51.80,511.80 L52.05,511.80 L52.30,511.80 L52.55,511.80 L52.80,511.80 L53.05,511.80 L53.30,511.80 L53.55,511.80 L53.80,511.80 L54.05,511.80 L54.30,511.80 L54.55,511.80 L54.80,511.80 L55.05,511.80 L55.30,511.80 L55.55,511.80 L55.80,511.80 L56.05,511.80 L56.30,511.80 L56.55,511.80 L56.80,511.80 L57.05,511.80 L57.30,511.80 L57.55,511.80 L57.80,511.80 L58.05,511.80 L58.30,511.80 L58.55,511.80 L58.80,511.80 L59.05,511.80 L59.30,511.80 L59.55,511.80 L59.80,511.80 L60.05,511.80 L60.30,511.80 L60.55,511.80 L60.80,511.80 L61.05,511.80 L61.30,511.80 L61.55,511.80 L61.80,511.80 L62.05,511.80 L62.30,511.80 L62.55,511.80 L62.80,511.80 L63.05,511.80 L63.30,511.80 L63.55,511.80 L63.80,511.80 L64.05,511.80 L64.30,511.80 L64.55,511.80 L64.80,511.80 L65.05,511.80 L65.30,511.80 L65.55,511.80 L65.80,511.80 L66.05,511.80 L66.30,511.80 L66.55,511.80 L66.80,511.80 L67.05,511.80 L67.30,511.80 L67.55,511.80 L67.80,511.80 L68.05,511.80 L68.30,511.80 L68.55,511.80 L68.80,511.80 L69.05,511.80 L69.30,511.80 L69.55,511.80 L69.80,511.80 L70.05,511.80 L70.30,511.80 L70.55,511.80 L70.80,511.80 L71.05,511.80 L71.30,511.80 L71.55,511.80 L71.80,511.80 L72.05,511.80 L72.30,511.80 L72.55,511.80 L72.80,511.80 L73.05,511.80 L73.30,511.80 L73.55,511.80 L73.80,511.80 L74.05,511.80 L74.30,511.80 L74.55,511.80 L74.80,511.80 L75.05,511.80 L75.30,511.80 L75.55,511.80 L75.80,511.80 L76.05,511.80 L76.30,511.80 L76.55,511.80 L76.80,511.80 L77.05,511.80 L77.30,511.80 L77.55,511.80 L77.80,511.80 L78.05,511.80 L78.30,511.80 L78.55,511.80 L78.80,511.80 L79.05,511.80 L79.30,511.80 L79.55,511.80 L79.80,511.80 L80.05,511.80 L80.30,511.80 L80.55,511.80 L80.80,511.80 L81.05,511.80 L81.30,511.80 L81.55,511.80 L81.80,511.80 L82.05,511.80 L82.30,511.80 L82.55,511.80 L82.80,511.80 L83.05,511.80 L83.30,511.80 L83.55,511.80 L83.80,511.80 L84.05,511.80 L84.30,511.80 L84.55,511.80 L84.80,511.80 L85.05,511.80 L85.30,511.80 L85.55,511.80 L85.80,511.80 L86.05,511.80 L86.30,511.80 L86.55,511.80 L86.80,511.80 L87.05,511.80 L87.30,511.80 L87.55,511.80 L87.80,511.80 L88.05,511.80 L88.30,511.80 L88.55,511.80 L88.80,511.80 L89.05,511.80 L89.30,511.80 L89.55,511.80 L89.80,511.80 L90.05,511.80 L90.30,511.80 L90.55,511.80 L90.80,511.80 L91.05,511.80 L91.30,511.80 L91.55,511.80 L91.80,511.80 L92.05,511.80 L92.30,511.80 L92.55,511.80 L92.80,511.80 L93.05,511.80 L93.30,511.80 L93.55,511.80 L93.80,511.80 L94.05,511.80 L94.30,511.80 L94.55,511.80 L94.80,511.80 L95.05,511.80 L95.30,511.80 L95.55,511.80 L95.80,511.80 L96.05,511.80 L96.30,511.80 L96.55,511.80 L96.80,511.80 L97.05,511.80 L97.30,511.80 L97.55,511.80 L97.80,511.80 L98.05,511.80 L98.30,511.80 L98.55,511.80 L98.80,511.80 L99.05,511.80 L99.30,511.80 L99.55,511.80 L99.80,511.80 L100.05,511.80 L100.30,511.80 L100.55,511.80 L100.80,511.80 L101.05,511.80 L101.30,511.80 L101.55,511.80 L101.80,511.80 L102.05,511.80 L102.30,511.80 L102.55,511.80 L102.80,511.80 L103.05,511.80 L103.30,511.80 L103.55,511.80 L103.80,511.80 L104.05,511.80 L104.30,511.80 L104.55,511.80 L104.80,511.80 L105.05,511.80 L105.30,511.80 L105.55,511.80 L105.80,511.80 L106.05,511.80 L106.30,511.80 L106.55,511.80 L106.80,511.80 L107.05,511.80 L107.30,511.80 L107.55,511.80 L107.80,511.80 L108.05,511.80 L108.30,511.80 L108.55,511.81 L108.80,511.81 L109.05,511.81 L109.30,511.81 L109.55,511.81 L109.80,511.81 L110.05,511.81 L110.30,511.81 L110.55,511.81 L110.80,511.81 L111.05,511.81 L111.30,511.82 L111.55,511.82 L111.80,511.82 L112.05,511.82 L112.30,511.82 L112.55,511.83 L112.80,511.83 L113.05,511.83 L113.30,511.83 L113.55,511.84 L113.80,511.84 L114.05,511.85 L114.30,511.85 L114.55,511.86 L114.80,511.86 L115.05,511.87 L115.30,511.88 L115.55,511.89 L115.80,511.89 L116.05,511.90 L116.30,511.91 L116.55,511.93 L116.80,511.94 L117.05,511.96 L117.30,511.97 L117.55,511.99 L117.80,512.01 L118.05,512.03 L118.30,512.06 L118.55,512.08 L118.80,512.11 L119.05,512.14 L119.30,512.18 L119.55,512.22 L119.80,512.26 L120.05,512.31 L120.30,512.37 L120.55,512.43 L120.80,512.49 L121.05,512.57 L121.30,512.65 L121.55,512.73 L121.80,512.83 L122.05,512.94 L122.30,513.06 L122.55,513.19 L122.80,513.33 L123.05,513.49 L123.30,513.67 L123.55,513.86 L123.80,514.08 L124.05,514.31 L124.30,514.57 L124.55,514.86 L124.80,515.17 L125.05,515.52 L125.30,515.90 L125.55,516.32 L125.80,516.78 L126.05,517.29 L126.30,517.84 L126.55,518.45 L126.80,519.12 L127.05,519.85 L127.30,520.65 L127.55,521.52 L127.80,522.48 L128.05,523.52 L128.30,524.65 L128.55,525.88 L128.80,527.22 L129.05,528.67 L129.30,530.25 L129.55,531.94 L129.80,533.77 L130.05,535.73 L130.30,537.84 L130.55,540.10 L130.80,542.50 L131.05,545.06 L131.30,547.78 L131.55,550.64 L131.80,553.66 L132.05,556.83 L132.30,560.14 L132.55,563.58 L132.80,567.14 L133.05,570.82 L133.30,574.60 L133.55,578.45 L133.80,582.38 L134.05,586.35 L134.30,590.35 L134.55,593.95 L134.80,597.29 L135.05,600.60 L135.30,603.88 L135.55,607.13 L135.80,610.32 L136.05,613.45 L136.30,616.52 L136.55,619.50 L136.80,622.40 L137.05,625.21 L137.30,627.93 L137.55,630.55 L137.80,633.06 L138.05,635.47 L138.30,637.77 L138.55,639.96 L138.80,642.05 L139.05,644.03 L139.30,645.91 L139.55,647.69 L139.80,649.36 L140.05,650.94 L140.30,652.42 L140.55,653.82 L140.80,655.12 L141.05,656.35 L141.30,657.49 L141.55,658.56 L141.80,659.56 L142.05,660.49 L142.30,661.36 L142.55,662.16 L142.80,662.91 L143.05,663.61 L143.30,664.25 L143.55,664.85 L143.80,665.41 L144.05,665.92 L144.30,666.40 L144.55,666.84 L144.80,667.25 L145.05,667.62 L145.30,667.97 L145.55,668.29 L145.80,668.59 L146.05,668.87 L146.30,669.12 L146.55,669.36 L146.80,669.57 L147.05,669.77 L147.30,669.95 L147.55,670.12 L147.80,670.28 L148.05,670.42 L148.30,670.56 L148.55,670.68 L148.80,670.79 L149.05,670.90 L149.30,670.99 L149.55,671.08 L149.80,671.16 L150.05,671.24 L150.30,671.30 L150.55,671.37 L150.80,671.43 L151.05,671.48 L151.30,671.53 L151.55,671.57 L151.80,671.62 L152.05,671.65 L152.30,671.69 L152.55,671.72 L152.80,671.75 L153.05,671.78 L153.30,671.81 L153.55,671.83 L153.80,671.85 L154.05,671.87 L154.30,671.89 L154.55,671.91 L154.80,671.92 L155.05,671.94 L155.30,671.95 L155.55,671.96 L155.80,671.97 L156.05,671.98 L156.30,671.99 L156.55,672.00 L156.80,672.01 L157.05,672.02 L157.30,672.02 L157.55,672.03 L157.80,672.03 L158.05,672.04 L158.30,672.04 L158.55,672.05 L158.80,672.05 L159.05,672.06 L159.30,672.06 L159.55,672.06 L159.80,672.07 L160.05,672.07 L160.30,672.07 L160.55,672.07 L160.80,672.08 L161.05,672.08 L161.30,672.08 L161.55,672.08 L161.80,672.08 L162.05,672.08 L162.30,672.09 L162.55,672.09 L162.80,672.09 L163.05,672.09 L163.30,672.09 L163.55,672.09 L163.80,672.09 L164.05,672.09 L164.30,672.09 L164.55,672.09 L164.80,672.09 L165.05,672.09 L165.30,672.09 L165.55,672.10 L165.80,672.10 L166.05,672.10 L166.30,672.10 L166.55,672.10 L166.80,672.10 L167.05,672.10 L167.30,672.10 L167.55,672.10 L167.80,672.10 L168.05,672.10 L168.30,672.10 L168.55,672.10 L168.80,672.10 L169.05,672.10 L169.30,672.10 L169.55,672.10 L169.80,672.10 L170.05,672.10 L170.30,672.10 L170.55,672.10 L170.80,672.10 L171.05,672.10 L171.30,672.10 L171.55,672.10 L171.80,672.10 L172.05,672.10 L172.30,672.10 L172.55,672.10 L172.80,672.10 L173.05,672.10 L173.30,672.10 L173.55,672.10 L173.80,672.10 L174.05,672.10 L174.30,672.10 L174.55,672.10 L174.80,672.10 L175.05,672.10 L175.30,672.10 L175.55,672.10 L175.80,672.10 L176.05,672.10 L176.30,672.10 L176.55,672.10 L176.80,672.10 L177.05,672.10 L177.30,672.10 L177.55,672.10 L177.80,672.10 L178.05,672.10 L178.30,672.10 L178.55,672.10 L178.80,672.10 L179.05,672.10 L179.30,672.10 L179.55,672.10 L179.80,672.10 L180.05,672.10 L180.30,672.10 L180.55,672.10 L180.80,672.10 L181.05,672.10 L181.30,672.10 L181.55,672.10 L181.80,672.10 L182.05,672.10 L182.30,672.10 L182.55,672.10 L182.80,672.10 L183.05,672.10 L183.30,672.10 L183.55,672.10 L183.80,672.10 L184.05,672.10 L184.30,672.10 L184.55,672.10 L184.80,672.10 L185.05,672.10 L185.30,672.10 L185.55,672.10 L185.80,672.10 L186.05,672.10 L186.30,672.10 L186.55,672.10 L186.80,672.10 L187.05,672.10 L187.30,672.10 L187.55,672.10 L187.80,672.10 L188.05,672.10 L188.30,672.10 L188.55,672.10 L188.80,672.10 L189.05,672.10 L189.30,672.10 L189.55,672.10 L189.80,672.10 L190.05,672.10 L190.30,672.10 L190.55,672.10 L190.80,672.10 L191.05,672.10 L191.30,672.10 L191.55,672.10 L191.80,672.10 L192.05,672.10 L192.30,672.10 L192.55,672.10 L192.80,672.10 L193.05,672.10 L193.30,672.10 L193.55,672.10 L193.80,672.10 L194.05,672.10 L194.30,672.10 L194.55,672.10 L194.80,672.10 L195.05,672.10 L195.30,672.10 L195.55,672.10 L195.80,672.10 L196.05,672.10 L196.30,672.10 L196.55,672.10 L196.80,672.10 L197.05,672.10 L197.30,672.10 L197.55,672.10 L197.80,672.10 L198.05,672.10 L198.30,672.10 L198.55,672.10 L198.80,672.10 L199.05,672.10 L199.30,672.10 L199.55,672.10 L199.80,672.10 L200.05,672.10 L200.30,672.10 L200.55,672.10 L200.80,672.10 L201.05,672.10 L201.30,672.10 L201.55,672.10 L201.80,672.10 L202.05,672.10 L202.30,672.10 L202.55,672.10 L202.80,672.10 L203.05,672.10 L203.30,672.10 L203.55,672.10 L203.80,672.10 L204.05,672.10 L204.30,672.10 L204.55,672.10 L204.80,672.10 L205.05,672.10 L205.30,672.10 L205.55,672.10 L205.80,672.10 L206.05,672.10 L206.30,672.10 L206.55,672.10 L206.80,672.10 L207.05,672.10 L207.30,672.10 L207.55,672.10 L207.80,672.10 L208.05,672.10 L208.30,672.10 L208.55,672.10 L208.80,672.10 L209.05,672.10 L209.30,672.10 L209.55,672.10 L209.80,672.10 L210.05,672.10 L210.30,672.10 L210.55,672.10 L210.80,672.10 L211.05,672.10 L211.30,672.10 L211.55,672.10 L211.80,672.10 L212.05,672.10 L212.30,672.10 L212.55,672.10 L212.80,672.10 L213.05,672.10 L213.30,672.10 L213.55,672.10 L213.80,672.10 L214.05,672.10 L214.30,672.10 L214.55,672.10 L214.80,672.10 L215.05,672.10 L215.30,672.10 L215.55,672.10 L215.80,672.10 L216.05,672.10 L216.30,672.10 L216.55,672.10 L216.80,672.10 L217.05,672.10 L217.30,672.10 L217.55,672.10 L217.80,672.10 L218.05,672.10 L218.30,672.10 L218.55,672.10 L218.80,672.10 L219.05,672.10 L219.30,672.10 L219.55,672.10 L219.80,672.10 L220.05,672.10 L220.30,672.10 L220.55,672.10 L220.80,672.10 L221.05,672.10 L221.30,672.10 L221.55,672.10 L221.80,672.10 L222.05,672.10 L222.30,672.10 L222.55,672.10 L222.80,672.10 L223.05,672.10 L223.30,672.10 L223.55,672.10 L223.80,672.10 L224.05,672.10 L224.30,672.10 L224.55,672.10 L224.80,672.10 L225.05,672.10 L225.30,672.10 L225.55,672.10 L225.80,672.10 L226.05,672.10 L226.30,672.10 L226.55,672.10 L226.80,672.10 L227.05,672.10" stroke="#2f358c" stroke-width="1.9" fill="none" stroke-linejoin="round"/><path d="M45.00,671.40 L45.25,671.40 L45.50,671.40 L45.75,671.40 L46.00,671.40 L46.25,671.40 L46.50,671.40 L46.75,671.40 L47.00,671.40 L47.25,671.40 L47.50,671.40 L47.75,671.40 L48.00,671.40 L48.25,671.40 L48.50,671.40 L48.75,671.40 L49.00,671.40 L49.25,671.40 L49.50,671.40 L49.75,671.40 L50.00,671.40 L50.25,671.40 L50.50,671.40 L50.75,671.40 L51.00,671.40 L51.25,671.40 L51.50,671.40 L51.75,671.40 L52.00,671.40 L52.25,671.40 L52.50,671.40 L52.75,671.40 L53.00,671.40 L53.25,671.40 L53.50,671.40 L53.75,671.40 L54.00,671.40 L54.25,671.40 L54.50,671.40 L54.75,671.40 L55.00,671.40 L55.25,671.40 L55.50,671.40 L55.75,671.40 L56.00,671.40 L56.25,671.40 L56.50,671.40 L56.75,671.40 L57.00,671.40 L57.25,671.40 L57.50,671.40 L57.75,671.40 L58.00,671.40 L58.25,671.40 L58.50,671.40 L58.75,671.40 L59.00,671.40 L59.25,671.40 L59.50,671.40 L59.75,671.40 L60.00,671.40 L60.25,671.40 L60.50,671.40 L60.75,671.40 L61.00,671.40 L61.25,671.40 L61.50,671.40 L61.75,671.40 L62.00,671.40 L62.25,671.40 L62.50,671.40 L62.75,671.40 L63.00,671.40 L63.25,671.40 L63.50,671.40 L63.75,671.40 L64.00,671.40 L64.25,671.40 L64.50,671.40 L64.75,671.40 L65.00,671.40 L65.25,671.40 L65.50,671.40 L65.75,671.40 L66.00,671.40 L66.25,671.40 L66.50,671.40 L66.75,671.40 L67.00,671.40 L67.25,671.40 L67.50,671.40 L67.75,671.40 L68.00,671.40 L68.25,671.40 L68.50,671.40 L68.75,671.40 L69.00,671.40 L69.25,671.40 L69.50,671.40 L69.75,671.40 L70.00,671.40 L70.25,671.40 L70.50,671.40 L70.75,671.40 L71.00,671.40 L71.25,671.40 L71.50,671.40 L71.75,671.40 L72.00,671.40 L72.25,671.40 L72.50,671.40 L72.75,671.40 L73.00,671.40 L73.25,671.40 L73.50,671.40 L73.75,671.40 L74.00,671.40 L74.25,671.40 L74.50,671.40 L74.75,671.40 L75.00,671.40 L75.25,671.40 L75.50,671.40 L75.75,671.40 L76.00,671.40 L76.25,671.40 L76.50,671.40 L76.75,671.40 L77.00,671.40 L77.25,671.40 L77.50,671.40 L77.75,671.40 L78.00,671.40 L78.25,671.40 L78.50,671.40 L78.75,671.40 L79.00,671.40 L79.25,671.40 L79.50,671.40 L79.75,671.40 L80.00,671.40 L80.25,671.40 L80.50,671.40 L80.75,671.40 L81.00,671.40 L81.25,671.40 L81.50,671.40 L81.75,671.40 L82.00,671.40 L82.25,671.40 L82.50,671.40 L82.75,671.40 L83.00,671.40 L83.25,671.40 L83.50,671.40 L83.75,671.40 L84.00,671.40 L84.25,671.40 L84.50,671.40 L84.75,671.40 L85.00,671.40 L85.25,671.40 L85.50,671.40 L85.75,671.40 L86.00,671.40 L86.25,671.40 L86.50,671.40 L86.75,671.40 L87.00,671.40 L87.25,671.40 L87.50,671.40 L87.75,671.40 L88.00,671.40 L88.25,671.40 L88.50,671.40 L88.75,671.40 L89.00,671.40 L89.25,671.40 L89.50,671.40 L89.75,671.40 L90.00,671.40 L90.25,671.40 L90.50,671.40 L90.75,671.40 L91.00,671.40 L91.25,671.40 L91.50,671.40 L91.75,671.40 L92.00,671.40 L92.25,671.40 L92.50,671.40 L92.75,671.40 L93.00,671.40 L93.25,671.40 L93.50,671.40 L93.75,671.40 L94.00,671.40 L94.25,671.40 L94.50,671.40 L94.75,671.40 L95.00,671.40 L95.25,671.40 L95.50,671.40 L95.75,671.40 L96.00,671.40 L96.25,671.40 L96.50,671.40 L96.75,671.40 L97.00,671.40 L97.25,671.40 L97.50,671.40 L97.75,671.40 L98.00,671.40 L98.25,671.40 L98.50,671.40 L98.75,671.40 L99.00,671.40 L99.25,671.40 L99.50,671.40 L99.75,671.40 L100.00,671.40 L100.25,671.40 L100.50,671.40 L100.75,671.40 L101.00,671.40 L101.25,671.40 L101.50,671.40 L101.75,671.40 L102.00,671.40 L102.25,671.40 L102.50,671.40 L102.75,671.40 L103.00,671.40 L103.25,671.40 L103.50,671.40 L103.75,671.40 L104.00,671.40 L104.25,671.40 L104.50,671.40 L104.75,671.40 L105.00,671.40 L105.25,671.40 L105.50,671.40 L105.75,671.40 L106.00,671.40 L106.25,671.40 L106.50,671.40 L106.75,671.40 L107.00,671.40 L107.25,671.40 L107.50,671.40 L107.75,671.40 L108.00,671.40 L108.25,671.40 L108.50,671.40 L108.75,671.40 L109.00,671.40 L109.25,671.40 L109.50,671.40 L109.75,671.40 L110.00,671.39 L110.25,671.39 L110.50,671.39 L110.75,671.39 L111.00,671.39 L111.25,671.39 L111.50,671.39 L111.75,671.39 L112.00,671.39 L112.25,671.39 L112.50,671.39 L112.75,671.39 L113.00,671.38 L113.25,671.38 L113.50,671.38 L113.75,671.38 L114.00,671.38 L114.25,671.37 L114.50,671.37 L114.75,671.37 L115.00,671.36 L115.25,671.36 L115.50,671.36 L115.75,671.35 L116.00,671.35 L116.25,671.34 L116.50,671.34 L116.75,671.33 L117.00,671.32 L117.25,671.32 L117.50,671.31 L117.75,671.30 L118.00,671.29 L118.25,671.28 L118.50,671.27 L118.75,671.25 L119.00,671.24 L119.25,671.22 L119.50,671.20 L119.75,671.18 L120.00,671.16 L120.25,671.14 L120.50,671.11 L120.75,671.08 L121.00,671.05 L121.25,671.01 L121.50,670.97 L121.75,670.93 L122.00,670.88 L122.25,670.83 L122.50,670.77 L122.75,670.71 L123.00,670.64 L123.25,670.57 L123.50,670.48 L123.75,670.39 L124.00,670.29 L124.25,670.18 L124.50,670.06 L124.75,669.92 L125.00,669.77 L125.25,669.61 L125.50,669.43 L125.75,669.24 L126.00,669.02 L126.25,668.79 L126.50,668.53 L126.75,668.25 L127.00,667.93 L127.25,667.59 L127.50,667.22 L127.75,666.81 L128.00,666.36 L128.25,665.87 L128.50,665.33 L128.75,664.74 L129.00,664.10 L129.25,663.40 L129.50,662.64 L129.75,661.81 L130.00,660.91 L130.25,659.92 L130.50,658.86 L130.75,657.70 L131.00,656.44 L131.25,655.09 L131.50,653.63 L131.75,652.05 L132.00,650.36 L132.25,648.54 L132.50,646.59 L132.75,644.50 L133.00,642.28 L133.25,639.93 L133.50,637.43 L133.75,634.78 L134.00,632.00 L134.25,629.08 L134.50,626.02 L134.75,622.83 L135.00,619.53 L135.25,616.10 L135.50,612.58 L135.75,608.97 L136.00,605.28 L136.25,601.52 L136.50,597.73 L136.75,593.90 L137.00,590.27 L137.25,586.95 L137.50,583.65 L137.75,580.37 L138.00,577.13 L138.25,573.94 L138.50,570.81 L138.75,567.75 L139.00,564.76 L139.25,561.85 L139.50,559.03 L139.75,556.31 L140.00,553.69 L140.25,551.16 L140.50,548.74 L140.75,546.43 L141.00,544.22 L141.25,542.12 L141.50,540.13 L141.75,538.24 L142.00,536.45 L142.25,534.77 L142.50,533.17 L142.75,531.68 L143.00,530.27 L143.25,528.95 L143.50,527.72 L143.75,526.57 L144.00,525.49 L144.25,524.48 L144.50,523.54 L144.75,522.66 L145.00,521.85 L145.25,521.09 L145.50,520.39 L145.75,519.74 L146.00,519.13 L146.25,518.57 L146.50,518.05 L146.75,517.57 L147.00,517.12 L147.25,516.71 L147.50,516.33 L147.75,515.98 L148.00,515.65 L148.25,515.35 L148.50,515.07 L148.75,514.81 L149.00,514.58 L149.25,514.36 L149.50,514.16 L149.75,513.97 L150.00,513.80 L150.25,513.64 L150.50,513.50 L150.75,513.36 L151.00,513.24 L151.25,513.12 L151.50,513.02 L151.75,512.92 L152.00,512.83 L152.25,512.75 L152.50,512.68 L152.75,512.61 L153.00,512.54 L153.25,512.48 L153.50,512.43 L153.75,512.38 L154.00,512.33 L154.25,512.29 L154.50,512.25 L154.75,512.21 L155.00,512.18 L155.25,512.15 L155.50,512.12 L155.75,512.10 L156.00,512.07 L156.25,512.05 L156.50,512.03 L156.75,512.01 L157.00,512.00 L157.25,511.98 L157.50,511.97 L157.75,511.95 L158.00,511.94 L158.25,511.93 L158.50,511.92 L158.75,511.91 L159.00,511.90 L159.25,511.89 L159.50,511.89 L159.75,511.88 L160.00,511.87 L160.25,511.87 L160.50,511.86 L160.75,511.86 L161.00,511.85 L161.25,511.85 L161.50,511.84 L161.75,511.84 L162.00,511.84 L162.25,511.83 L162.50,511.83 L162.75,511.83 L163.00,511.83 L163.25,511.82 L163.50,511.82 L163.75,511.82 L164.00,511.82 L164.25,511.82 L164.50,511.82 L164.75,511.81 L165.00,511.81 L165.25,511.81 L165.50,511.81 L165.75,511.81 L166.00,511.81 L166.25,511.81 L166.50,511.81 L166.75,511.81 L167.00,511.81 L167.25,511.81 L167.50,511.81 L167.75,511.81 L168.00,511.81 L168.25,511.80 L168.50,511.80 L168.75,511.80 L169.00,511.80 L169.25,511.80 L169.50,511.80 L169.75,511.80 L170.00,511.80 L170.25,511.80 L170.50,511.80 L170.75,511.80 L171.00,511.80 L171.25,511.80 L171.50,511.80 L171.75,511.80 L172.00,511.80 L172.25,511.80 L172.50,511.80 L172.75,511.80 L173.00,511.80 L173.25,511.80 L173.50,511.80 L173.75,511.80 L174.00,511.80 L174.25,511.80 L174.50,511.80 L174.75,511.80 L175.00,511.80 L175.25,511.80 L175.50,511.80 L175.75,511.80 L176.00,511.80 L176.25,511.80 L176.50,511.80 L176.75,511.80 L177.00,511.80 L177.25,511.80 L177.50,511.80 L177.75,511.80 L178.00,511.80 L178.25,511.80 L178.50,511.80 L178.75,511.80 L179.00,511.80 L179.25,511.80 L179.50,511.80 L179.75,511.80 L180.00,511.80 L180.25,511.80 L180.50,511.80 L180.75,511.80 L181.00,511.80 L181.25,511.80 L181.50,511.80 L181.75,511.80 L182.00,511.80 L182.25,511.80 L182.50,511.80 L182.75,511.80 L183.00,511.80 L183.25,511.80 L183.50,511.80 L183.75,511.80 L184.00,511.80 L184.25,511.80 L184.50,511.80 L184.75,511.80 L185.00,511.80 L185.25,511.80 L185.50,511.80 L185.75,511.80 L186.00,511.80 L186.25,511.80 L186.50,511.80 L186.75,511.80 L187.00,511.80 L187.25,511.80 L187.50,511.80 L187.75,511.80 L188.00,511.80 L188.25,511.80 L188.50,511.80 L188.75,511.80 L189.00,511.80 L189.25,511.80 L189.50,511.80 L189.75,511.80 L190.00,511.80 L190.25,511.80 L190.50,511.80 L190.75,511.80 L191.00,511.80 L191.25,511.80 L191.50,511.80 L191.75,511.80 L192.00,511.80 L192.25,511.80 L192.50,511.80 L192.75,511.80 L193.00,511.80 L193.25,511.80 L193.50,511.80 L193.75,511.80 L194.00,511.80 L194.25,511.80 L194.50,511.80 L194.75,511.80 L195.00,511.80 L195.25,511.80 L195.50,511.80 L195.75,511.80 L196.00,511.80 L196.25,511.80 L196.50,511.80 L196.75,511.80 L197.00,511.80 L197.25,511.80 L197.50,511.80 L197.75,511.80 L198.00,511.80 L198.25,511.80 L198.50,511.80 L198.75,511.80 L199.00,511.80 L199.25,511.80 L199.50,511.80 L199.75,511.80 L200.00,511.80 L200.25,511.80 L200.50,511.80 L200.75,511.80 L201.00,511.80 L201.25,511.80 L201.50,511.80 L201.75,511.80 L202.00,511.80 L202.25,511.80 L202.50,511.80 L202.75,511.80 L203.00,511.80 L203.25,511.80 L203.50,511.80 L203.75,511.80 L204.00,511.80 L204.25,511.80 L204.50,511.80 L204.75,511.80 L205.00,511.80 L205.25,511.80 L205.50,511.80 L205.75,511.80 L206.00,511.80 L206.25,511.80 L206.50,511.80 L206.75,511.80 L207.00,511.80 L207.25,511.80 L207.50,511.80 L207.75,511.80 L208.00,511.80 L208.25,511.80 L208.50,511.80 L208.75,511.80 L209.00,511.80 L209.25,511.80 L209.50,511.80 L209.75,511.80 L210.00,511.80 L210.25,511.80 L210.50,511.80 L210.75,511.80 L211.00,511.80 L211.25,511.80 L211.50,511.80 L211.75,511.80 L212.00,511.80 L212.25,511.80 L212.50,511.80 L212.75,511.80 L213.00,511.80 L213.25,511.80 L213.50,511.80 L213.75,511.80 L214.00,511.80 L214.25,511.80 L214.50,511.80 L214.75,511.80 L215.00,511.80 L215.25,511.80 L215.50,511.80 L215.75,511.80 L216.00,511.80 L216.25,511.80 L216.50,511.80 L216.75,511.80 L217.00,511.80 L217.25,511.80 L217.50,511.80 L217.75,511.80 L218.00,511.80 L218.25,511.80 L218.50,511.80 L218.75,511.80 L219.00,511.80 L219.25,511.80 L219.50,511.80 L219.75,511.80 L220.00,511.80 L220.25,511.80 L220.50,511.80 L220.75,511.80 L221.00,511.80 L221.25,511.80 L221.50,511.80 L221.75,511.80 L222.00,511.80 L222.25,511.80 L222.50,511.80 L222.75,511.80 L223.00,511.80 L223.25,511.80 L223.50,511.80 L223.75,511.80 L224.00,511.80 L224.25,511.80 L224.50,511.80 L224.75,511.80 L225.00,511.80 L225.25,511.80 L225.50,511.80 L225.75,511.80 L226.00,511.80 L226.25,511.80 L226.50,511.80 L226.75,511.80 L227.00,511.80" stroke="#2b7036" stroke-width="1.8" fill="none" stroke-linejoin="round"/></g><rect x="36.5" y="506.0" width="198.5" height="172.89999999999998" fill="none" stroke="#2a2a2a" stroke-width="1.5"/><path d="M43.5,678.9 V683.1 M80.5,678.9 V683.1 M116.5,678.9 V683.1 M153.5,678.9 V683.1 M190.5,678.9 V683.1 M226.5,678.9 V683.1 M36.5,505.5 H32.5 M36.5,530.5 H32.5 M36.5,554.5 H32.5 M36.5,578.5 H32.5 M36.5,603.5 H32.5 M36.5,627.5 H32.5 M36.5,651.5 H32.5 M36.5,676.5 H32.5 M235.0,505.5 H239.0 M235.0,530.5 H239.0 M235.0,554.5 H239.0 M235.0,578.5 H239.0 M235.0,603.5 H239.0 M235.0,627.5 H239.0 M235.0,651.5 H239.0 M235.0,676.5 H239.0" stroke="#3a3a3a" stroke-width="1" fill="none"/><text x="43.6" y="693.6" font-size="8.5" text-anchor="middle">0</text><text x="80.2" y="693.6" font-size="8.5" text-anchor="middle">20</text><text x="116.9" y="693.6" font-size="8.5" text-anchor="middle">40</text><text x="153.5" y="693.6" font-size="8.5" text-anchor="middle">60</text><text x="190.2" y="693.6" font-size="8.5" text-anchor="middle">80</text><text x="226.8" y="693.6" font-size="8.5" text-anchor="middle">100</text><text transform="translate(27.7,505.8) rotate(-90)" font-size="8.5" text-anchor="middle">344</text><text transform="translate(27.7,530.2) rotate(-90)" font-size="8.5" text-anchor="middle">343</text><text transform="translate(27.7,554.5) rotate(-90)" font-size="8.5" text-anchor="middle">342</text><text transform="translate(27.7,578.9) rotate(-90)" font-size="8.5" text-anchor="middle">341</text><text transform="translate(27.7,603.2) rotate(-90)" font-size="8.5" text-anchor="middle">340</text><text transform="translate(27.7,627.6) rotate(-90)" font-size="8.5" text-anchor="middle">339</text><text transform="translate(27.7,652.0) rotate(-90)" font-size="8.5" text-anchor="middle">338</text><text transform="translate(27.7,676.3) rotate(-90)" font-size="8.5" text-anchor="middle">337</text><text transform="translate(246.8,505.8) rotate(-90)" font-size="8.5" text-anchor="middle">10.0</text><text transform="translate(246.8,530.2) rotate(-90)" font-size="8.5" text-anchor="middle">9.9</text><text transform="translate(246.8,554.5) rotate(-90)" font-size="8.5" text-anchor="middle">9.8</text><text transform="translate(246.8,578.9) rotate(-90)" font-size="8.5" text-anchor="middle">9.7</text><text transform="translate(246.8,603.2) rotate(-90)" font-size="8.5" text-anchor="middle">9.6</text><text transform="translate(246.8,627.6) rotate(-90)" font-size="8.5" text-anchor="middle">9.5</text><text transform="translate(246.8,652.0) rotate(-90)" font-size="8.5" text-anchor="middle">9.4</text><text transform="translate(246.8,676.3) rotate(-90)" font-size="8.5" text-anchor="middle">9.3</text><text x="147.4" y="709.5" font-size="9.3" text-anchor="middle" textLength="77.2" lengthAdjust="spacingAndGlyphs">(e) Trade war (%)</text><text transform="translate(15.1,588.5) rotate(-90)" font-size="9.3" text-anchor="middle" textLength="46" lengthAdjust="spacingAndGlyphs">Barge rate</text><text transform="translate(259.3,588.5) rotate(-90)" font-size="9.3" text-anchor="middle" textLength="82" lengthAdjust="spacingAndGlyphs">Barge productivity</text><clipPath id="clipf"><rect x="344.5" y="506.0" width="199.0" height="172.89999999999998"/></clipPath><path d="M352.5,508.0 V676.9 M378.5,508.0 V676.9 M404.5,508.0 V676.9 M430.5,508.0 V676.9 M456.5,508.0 V676.9 M482.5,508.0 V676.9 M509.5,508.0 V676.9 M535.5,508.0 V676.9 M346.0,517.5 H541.5 M346.0,558.5 H541.5 M346.0,599.5 H541.5 M346.0,639.5 H541.5 M346.0,546.5 H541.5 M346.0,596.5 H541.5 M346.0,646.5 H541.5" stroke="#bebebe" stroke-width="1" stroke-dasharray="1 1" fill="none"/><g clip-path="url(#clipf)"><path d="M352.30,571.20 L352.53,570.87 L352.82,570.43 L353.16,569.89 L353.54,569.30 L353.96,568.67 L354.40,568.03 L354.85,567.42 L355.31,566.86 L355.76,566.38 L356.20,566.00 L356.64,565.71 L357.09,565.45 L357.55,565.24 L358.02,565.06 L358.49,564.93 L358.97,564.84 L359.46,564.79 L359.94,564.79 L360.42,564.82 L360.90,564.90 L361.38,565.01 L361.86,565.13 L362.35,565.29 L362.83,565.48 L363.32,565.72 L363.80,566.02 L364.29,566.39 L364.76,566.83 L365.24,567.37 L365.70,568.00 L366.16,568.77 L366.63,569.67 L367.11,570.69 L367.58,571.80 L368.04,572.96 L368.49,574.15 L368.92,575.34 L369.34,576.49 L369.73,577.59 L370.10,578.60 L370.44,579.50 L370.75,580.33 L371.04,581.09 L371.31,581.82 L371.57,582.56 L371.81,583.31 L372.04,584.12 L372.27,585.00 L372.48,585.98 L372.70,587.10 L372.90,588.32 L373.07,589.61 L373.22,590.96 L373.36,592.38 L373.49,593.87 L373.63,595.43 L373.79,597.06 L373.96,598.76 L374.16,600.54 L374.40,602.40 L374.68,604.37 L374.98,606.47 L375.32,608.67 L375.67,610.96 L376.04,613.31 L376.41,615.68 L376.79,618.06 L377.17,620.43 L377.54,622.75 L377.90,625.00 L378.25,627.24 L378.59,629.52 L378.92,631.83 L379.26,634.13 L379.60,636.41 L379.94,638.63 L380.29,640.79 L380.65,642.85 L381.02,644.80 L381.40,646.60 L381.79,648.27 L382.18,649.83 L382.57,651.30 L382.98,652.67 L383.39,653.96 L383.81,655.18 L384.25,656.34 L384.71,657.44 L385.19,658.49 L385.70,659.50 L386.24,660.47 L386.80,661.40 L387.40,662.27 L388.01,663.08 L388.64,663.83 L389.27,664.52 L389.91,665.13 L390.55,665.67 L391.18,666.13 L391.80,666.50 L392.41,666.77 L393.01,666.95 L393.60,667.03 L394.20,667.04 L394.79,666.98 L395.40,666.86 L396.00,666.70 L396.62,666.52 L397.25,666.31 L397.90,666.10 L398.56,665.88 L399.24,665.63 L399.94,665.35 L400.64,665.04 L401.35,664.69 L402.06,664.30 L402.78,663.87 L403.49,663.40 L404.20,662.87 L404.90,662.30 L405.59,661.66 L406.28,660.96 L406.97,660.19 L407.66,659.38 L408.35,658.53 L409.04,657.66 L409.73,656.76 L410.42,655.87 L411.11,654.98 L411.80,654.10 L412.50,653.20 L413.20,652.26 L413.90,651.28 L414.60,650.29 L415.30,649.31 L416.00,648.34 L416.70,647.41 L417.40,646.53 L418.10,645.72 L418.80,645.00 L419.50,644.37 L420.21,643.81 L420.93,643.31 L421.64,642.86 L422.36,642.45 L423.06,642.07 L423.75,641.72 L424.42,641.38 L425.08,641.04 L425.70,640.70 L426.29,640.38 L426.84,640.12 L427.36,639.90 L427.86,639.71 L428.35,639.51 L428.84,639.31 L429.34,639.07 L429.86,638.78 L430.41,638.43 L431.00,638.00 L431.63,637.48 L432.31,636.90 L433.01,636.25 L433.73,635.56 L434.46,634.84 L435.19,634.09 L435.91,633.33 L436.61,632.57 L437.28,631.83 L437.90,631.10 L438.48,630.39 L439.03,629.67 L439.56,628.94 L440.06,628.21 L440.56,627.48 L441.04,626.75 L441.52,626.01 L442.00,625.27 L442.49,624.54 L443.00,623.80 L443.51,623.08 L444.02,622.37 L444.52,621.68 L445.03,620.99 L445.54,620.29 L446.05,619.58 L446.57,618.84 L447.10,618.07 L447.64,617.26 L448.20,616.40 L448.79,615.48 L449.40,614.50 L450.05,613.48 L450.70,612.42 L451.36,611.34 L452.00,610.25 L452.63,609.16 L453.23,608.08 L453.79,607.02 L454.30,606.00 L454.76,605.01 L455.17,604.04 L455.54,603.09 L455.89,602.14 L456.21,601.20 L456.52,600.26 L456.83,599.31 L457.14,598.36 L457.46,597.39 L457.80,596.40 L458.15,595.40 L458.50,594.39 L458.85,593.37 L459.20,592.35 L459.56,591.32 L459.91,590.28 L460.26,589.23 L460.61,588.16 L460.95,587.09 L461.30,586.00 L461.64,584.90 L461.97,583.79 L462.30,582.67 L462.62,581.54 L462.94,580.40 L463.27,579.25 L463.61,578.08 L463.96,576.90 L464.32,575.71 L464.70,574.50 L465.10,573.24 L465.50,571.92 L465.92,570.56 L466.35,569.18 L466.79,567.79 L467.23,566.44 L467.69,565.13 L468.15,563.88 L468.62,562.73 L469.10,561.70 L469.58,560.77 L470.06,559.92 L470.54,559.14 L471.04,558.42 L471.54,557.76 L472.05,557.15 L472.58,556.59 L473.13,556.06 L473.70,555.57 L474.30,555.10 L474.93,554.67 L475.59,554.30 L476.27,553.97 L476.98,553.69 L477.69,553.44 L478.42,553.22 L479.15,553.02 L479.88,552.84 L480.60,552.67 L481.30,552.50 L481.99,552.37 L482.69,552.29 L483.38,552.25 L484.07,552.24 L484.76,552.24 L485.45,552.22 L486.14,552.18 L486.83,552.09 L487.51,551.93 L488.20,551.70 L488.90,551.38 L489.61,550.98 L490.33,550.53 L491.05,550.03 L491.77,549.51 L492.47,548.96 L493.15,548.41 L493.81,547.88 L494.43,547.37 L495.00,546.90 L495.53,546.47 L496.01,546.05 L496.47,545.66 L496.89,545.27 L497.29,544.88 L497.68,544.49 L498.06,544.10 L498.43,543.69 L498.81,543.26 L499.20,542.80 L499.59,542.34 L499.98,541.90 L500.37,541.46 L500.75,541.01 L501.12,540.54 L501.49,540.04 L501.86,539.50 L502.21,538.91 L502.56,538.24 L502.90,537.50 L503.23,536.66 L503.54,535.72 L503.84,534.71 L504.14,533.64 L504.43,532.53 L504.71,531.40 L505.00,530.27 L505.29,529.17 L505.59,528.10 L505.90,527.10 L506.22,526.14 L506.53,525.18 L506.85,524.23 L507.17,523.30 L507.50,522.38 L507.83,521.49 L508.16,520.62 L508.50,519.78 L508.85,518.97 L509.20,518.20 L509.56,517.45 L509.92,516.70 L510.28,515.97 L510.65,515.26 L511.02,514.59 L511.40,513.96 L511.79,513.39 L512.18,512.88 L512.59,512.45 L513.00,512.10 L513.43,511.85 L513.86,511.68 L514.31,511.59 L514.76,511.56 L515.23,511.59 L515.69,511.66 L516.17,511.77 L516.64,511.90 L517.12,512.05 L517.60,512.20 L518.08,512.36 L518.56,512.53 L519.05,512.72 L519.53,512.94 L520.02,513.19 L520.52,513.47 L521.03,513.80 L521.54,514.18 L522.07,514.61 L522.60,515.10 L523.16,515.66 L523.75,516.31 L524.36,517.02 L524.98,517.78 L525.60,518.58 L526.21,519.39 L526.81,520.22 L527.38,521.04 L527.91,521.84 L528.40,522.60 L528.84,523.34 L529.24,524.07 L529.60,524.80 L529.94,525.52 L530.26,526.24 L530.56,526.97 L530.86,527.69 L531.16,528.42 L531.47,529.16 L531.80,529.90 L532.15,530.68 L532.52,531.52 L532.90,532.40 L533.29,533.28 L533.66,534.16 L534.02,534.99 L534.36,535.77 L534.65,536.46 L534.90,537.05 L535.10,537.50 L535.10,559.50 L534.90,558.52 L534.65,557.22 L534.36,555.67 L534.02,553.94 L533.66,552.09 L533.29,550.20 L532.90,548.31 L532.52,546.51 L532.15,544.85 L531.80,543.40 L531.47,542.12 L531.16,540.90 L530.86,539.75 L530.56,538.66 L530.26,537.62 L529.94,536.63 L529.60,535.69 L529.24,534.79 L528.84,533.93 L528.40,533.10 L527.91,532.31 L527.38,531.56 L526.81,530.85 L526.21,530.19 L525.60,529.58 L524.98,529.00 L524.36,528.46 L523.75,527.97 L523.16,527.51 L522.60,527.10 L522.07,526.74 L521.54,526.44 L521.03,526.20 L520.52,526.01 L520.02,525.84 L519.53,525.71 L519.05,525.58 L518.56,525.46 L518.08,525.34 L517.60,525.20 L517.12,525.03 L516.64,524.83 L516.17,524.62 L515.69,524.40 L515.23,524.21 L514.76,524.06 L514.31,523.95 L513.86,523.91 L513.43,523.96 L513.00,524.10 L512.59,524.34 L512.18,524.66 L511.79,525.05 L511.40,525.51 L511.02,526.02 L510.65,526.59 L510.28,527.20 L509.92,527.84 L509.56,528.51 L509.20,529.20 L508.85,529.92 L508.50,530.70 L508.16,531.51 L507.83,532.37 L507.50,533.26 L507.17,534.18 L506.85,535.13 L506.53,536.10 L506.22,537.09 L505.90,538.10 L505.59,539.16 L505.29,540.30 L505.00,541.50 L504.71,542.72 L504.43,543.96 L504.14,545.19 L503.84,546.38 L503.54,547.51 L503.23,548.56 L502.90,549.50 L502.56,550.35 L502.21,551.12 L501.86,551.82 L501.49,552.48 L501.12,553.09 L500.75,553.66 L500.37,554.21 L499.98,554.74 L499.59,555.27 L499.20,555.80 L498.81,556.31 L498.43,556.78 L498.06,557.22 L497.68,557.64 L497.29,558.05 L496.89,558.45 L496.47,558.86 L496.01,559.28 L495.53,559.72 L495.00,560.20 L494.43,560.73 L493.81,561.30 L493.15,561.92 L492.47,562.55 L491.77,563.18 L491.05,563.79 L490.33,564.36 L489.61,564.88 L488.90,565.34 L488.20,565.70 L487.51,565.96 L486.83,566.13 L486.14,566.23 L485.45,566.27 L484.76,566.28 L484.07,566.28 L483.38,566.28 L482.69,566.30 L481.99,566.37 L481.30,566.50 L480.60,566.67 L479.88,566.86 L479.15,567.05 L478.42,567.27 L477.69,567.50 L476.98,567.76 L476.27,568.04 L475.59,568.36 L474.93,568.71 L474.30,569.10 L473.70,569.52 L473.13,569.96 L472.58,570.43 L472.05,570.92 L471.54,571.45 L471.04,572.01 L470.54,572.62 L470.06,573.26 L469.58,573.96 L469.10,574.70 L468.62,575.51 L468.15,576.40 L467.69,577.34 L467.23,578.33 L466.79,579.36 L466.35,580.40 L465.92,581.45 L465.50,582.49 L465.10,583.51 L464.70,584.50 L464.32,585.46 L463.96,586.40 L463.61,587.34 L463.27,588.28 L462.94,589.21 L462.62,590.15 L462.30,591.09 L461.97,592.05 L461.64,593.01 L461.30,594.00 L460.95,595.01 L460.61,596.04 L460.26,597.08 L459.91,598.13 L459.56,599.19 L459.20,600.25 L458.85,601.31 L458.50,602.36 L458.15,603.39 L457.80,604.40 L457.46,605.39 L457.14,606.36 L456.83,607.31 L456.52,608.26 L456.21,609.20 L455.89,610.14 L455.54,611.09 L455.17,612.04 L454.76,613.01 L454.30,614.00 L453.79,615.02 L453.23,616.06 L452.63,617.12 L452.00,618.20 L451.36,619.27 L450.70,620.35 L450.05,621.40 L449.40,622.44 L448.79,623.44 L448.20,624.40 L447.64,625.32 L447.10,626.21 L446.57,627.07 L446.05,627.91 L445.54,628.73 L445.03,629.54 L444.52,630.35 L444.02,631.16 L443.51,631.97 L443.00,632.80 L442.49,633.64 L442.00,634.49 L441.52,635.34 L441.04,636.19 L440.56,637.04 L440.06,637.89 L439.56,638.72 L439.03,639.53 L438.48,640.33 L437.90,641.10 L437.28,641.87 L436.61,642.64 L435.91,643.41 L435.19,644.16 L434.46,644.90 L433.73,645.61 L433.01,646.28 L432.31,646.91 L431.63,647.49 L431.00,648.00 L430.41,648.43 L429.86,648.78 L429.34,649.07 L428.84,649.31 L428.35,649.51 L427.86,649.71 L427.36,649.90 L426.84,650.12 L426.29,650.38 L425.70,650.70 L425.08,651.04 L424.42,651.36 L423.75,651.69 L423.06,652.03 L422.36,652.39 L421.64,652.79 L420.93,653.23 L420.21,653.74 L419.50,654.33 L418.80,655.00 L418.10,655.78 L417.40,656.66 L416.70,657.63 L416.00,658.67 L415.30,659.74 L414.60,660.85 L413.90,661.95 L413.20,663.04 L412.50,664.10 L411.80,665.10 L411.11,666.08 L410.42,667.07 L409.73,668.06 L409.04,669.06 L408.35,670.03 L407.66,670.98 L406.97,671.89 L406.28,672.76 L405.59,673.56 L404.90,674.30 L404.20,674.97 L403.49,675.60 L402.78,676.17 L402.06,676.70 L401.35,677.19 L400.64,677.64 L399.94,678.05 L399.24,678.43 L398.56,678.78 L397.90,679.10 L397.25,679.42 L396.62,679.73 L396.00,680.03 L395.40,680.31 L394.79,680.54 L394.20,680.71 L393.60,680.80 L393.01,680.81 L392.41,680.72 L391.80,680.50 L391.18,680.18 L390.55,679.76 L389.91,679.27 L389.27,678.68 L388.64,678.02 L388.01,677.27 L387.40,676.45 L386.80,675.54 L386.24,674.56 L385.70,673.50 L385.19,672.37 L384.71,671.16 L384.25,669.88 L383.81,668.53 L383.39,667.09 L382.98,665.57 L382.57,663.96 L382.18,662.26 L381.79,660.48 L381.40,658.60 L381.02,656.59 L380.65,654.42 L380.29,652.13 L379.94,649.74 L379.60,647.28 L379.26,644.79 L378.92,642.28 L378.59,639.80 L378.25,637.36 L377.90,635.00 L377.54,632.66 L377.17,630.27 L376.79,627.85 L376.41,625.44 L376.04,623.06 L375.67,620.72 L375.32,618.46 L374.98,616.31 L374.68,614.28 L374.40,612.40 L374.16,610.66 L373.96,609.04 L373.79,607.51 L373.63,606.08 L373.49,604.74 L373.36,603.48 L373.22,602.30 L373.07,601.18 L372.90,600.11 L372.70,599.10 L372.48,598.18 L372.27,597.40 L372.04,596.72 L371.81,596.11 L371.57,595.56 L371.31,595.02 L371.04,594.49 L370.75,593.93 L370.44,593.30 L370.10,592.60 L369.73,591.80 L369.34,590.91 L368.92,589.97 L368.49,589.00 L368.04,588.02 L367.58,587.07 L367.11,586.17 L366.63,585.34 L366.16,584.61 L365.70,584.00 L365.24,583.50 L364.76,583.08 L364.29,582.73 L363.80,582.44 L363.32,582.22 L362.83,582.05 L362.35,581.94 L361.86,581.88 L361.38,581.87 L360.90,581.90 L360.42,581.96 L359.94,582.06 L359.46,582.19 L358.97,582.38 L358.49,582.62 L358.02,582.93 L357.55,583.31 L357.09,583.78 L356.64,584.34 L356.20,585.00 L355.76,585.84 L355.31,586.90 L354.85,588.12 L354.40,589.43 L353.96,590.79 L353.54,592.14 L353.16,593.41 L352.82,594.55 L352.53,595.50 L352.30,596.20 Z" fill="#7165bb" fill-opacity="0.5"/><path d="M352.30,544.90 L352.42,544.48 L352.56,543.94 L352.73,543.30 L352.92,542.57 L353.13,541.80 L353.36,541.00 L353.60,540.19 L353.86,539.41 L354.12,538.67 L354.40,538.00 L354.70,537.37 L355.02,536.73 L355.36,536.09 L355.72,535.46 L356.09,534.84 L356.47,534.26 L356.84,533.72 L357.21,533.22 L357.56,532.78 L357.90,532.40 L358.22,532.07 L358.53,531.77 L358.83,531.50 L359.13,531.27 L359.42,531.09 L359.72,530.96 L360.01,530.91 L360.30,530.92 L360.60,531.02 L360.90,531.20 L361.20,531.45 L361.51,531.74 L361.81,532.08 L362.11,532.49 L362.42,532.98 L362.73,533.56 L363.04,534.24 L363.35,535.03 L363.67,535.95 L364.00,537.00 L364.33,538.24 L364.67,539.68 L365.02,541.28 L365.37,543.00 L365.73,544.80 L366.08,546.65 L366.44,548.50 L366.79,550.32 L367.15,552.07 L367.50,553.70 L367.86,555.24 L368.23,556.74 L368.61,558.22 L368.99,559.66 L369.36,561.09 L369.73,562.52 L370.08,563.94 L370.42,565.38 L370.72,566.83 L371.00,568.30 L371.22,569.82 L371.38,571.39 L371.50,573.00 L371.60,574.62 L371.69,576.23 L371.79,577.81 L371.92,579.35 L372.11,580.82 L372.36,582.21 L372.70,583.50 L373.13,584.68 L373.63,585.78 L374.18,586.80 L374.78,587.76 L375.42,588.67 L376.09,589.54 L376.77,590.39 L377.46,591.22 L378.14,592.05 L378.80,592.90 L379.46,593.73 L380.13,594.53 L380.81,595.30 L381.50,596.05 L382.19,596.79 L382.89,597.53 L383.60,598.27 L384.30,599.02 L385.00,599.80 L385.70,600.60 L386.40,601.44 L387.09,602.30 L387.79,603.19 L388.49,604.09 L389.19,604.99 L389.90,605.89 L390.60,606.78 L391.30,607.65 L392.00,608.49 L392.70,609.30 L393.39,610.08 L394.07,610.86 L394.75,611.64 L395.42,612.39 L396.10,613.12 L396.78,613.83 L397.48,614.51 L398.20,615.15 L398.94,615.75 L399.70,616.30 L400.51,616.79 L401.37,617.23 L402.27,617.61 L403.18,617.96 L404.11,618.27 L405.02,618.58 L405.91,618.87 L406.77,619.16 L407.57,619.47 L408.30,619.80 L408.96,620.13 L409.57,620.43 L410.14,620.71 L410.66,620.99 L411.16,621.27 L411.65,621.58 L412.12,621.91 L412.60,622.28 L413.09,622.71 L413.60,623.20 L414.12,623.76 L414.65,624.38 L415.17,625.05 L415.69,625.75 L416.21,626.49 L416.72,627.25 L417.24,628.02 L417.76,628.80 L418.28,629.56 L418.80,630.30 L419.32,631.03 L419.84,631.76 L420.36,632.50 L420.88,633.23 L421.40,633.97 L421.92,634.72 L422.44,635.48 L422.96,636.24 L423.48,637.02 L424.00,637.80 L424.51,638.60 L425.01,639.40 L425.50,640.22 L425.99,641.04 L426.49,641.88 L426.99,642.71 L427.51,643.56 L428.04,644.40 L428.61,645.25 L429.20,646.10 L429.83,646.96 L430.49,647.83 L431.17,648.71 L431.88,649.59 L432.60,650.48 L433.33,651.37 L434.06,652.24 L434.78,653.11 L435.50,653.96 L436.20,654.80 L436.89,655.64 L437.57,656.50 L438.25,657.37 L438.92,658.23 L439.60,659.08 L440.28,659.90 L440.95,660.67 L441.63,661.39 L442.31,662.03 L443.00,662.60 L443.69,663.08 L444.39,663.50 L445.09,663.85 L445.79,664.15 L446.49,664.41 L447.20,664.62 L447.90,664.80 L448.60,664.95 L449.30,665.08 L450.00,665.20 L450.69,665.30 L451.38,665.37 L452.07,665.41 L452.76,665.42 L453.45,665.41 L454.14,665.36 L454.83,665.29 L455.52,665.19 L456.21,665.06 L456.90,664.90 L457.59,664.70 L458.27,664.46 L458.94,664.18 L459.61,663.87 L460.29,663.53 L460.97,663.18 L461.67,662.83 L462.39,662.47 L463.13,662.13 L463.90,661.80 L464.70,661.48 L465.53,661.16 L466.39,660.84 L467.26,660.51 L468.14,660.19 L469.04,659.86 L469.94,659.54 L470.83,659.22 L471.72,658.91 L472.60,658.60 L473.45,658.30 L474.29,658.00 L475.10,657.71 L475.92,657.42 L476.74,657.14 L477.58,656.85 L478.44,656.57 L479.34,656.28 L480.29,655.99 L481.30,655.70 L482.40,655.42 L483.58,655.15 L484.84,654.89 L486.14,654.64 L487.46,654.38 L488.76,654.10 L490.04,653.80 L491.25,653.47 L492.38,653.11 L493.40,652.70 L494.31,652.24 L495.14,651.74 L495.90,651.20 L496.61,650.63 L497.27,650.04 L497.91,649.43 L498.53,648.82 L499.14,648.20 L499.76,647.59 L500.40,647.00 L501.05,646.39 L501.70,645.76 L502.35,645.10 L502.98,644.43 L503.61,643.78 L504.22,643.13 L504.82,642.52 L505.40,641.96 L505.96,641.44 L506.50,641.00 L507.01,640.62 L507.49,640.29 L507.95,640.00 L508.39,639.75 L508.82,639.54 L509.24,639.36 L509.66,639.21 L510.09,639.08 L510.54,638.98 L511.00,638.90 L511.46,638.83 L511.91,638.79 L512.35,638.77 L512.79,638.77 L513.24,638.81 L513.71,638.87 L514.21,638.97 L514.76,639.11 L515.35,639.28 L516.00,639.50 L516.72,639.80 L517.49,640.21 L518.31,640.70 L519.17,641.23 L520.06,641.78 L520.98,642.31 L521.91,642.80 L522.84,643.21 L523.78,643.52 L524.70,643.70 L525.67,643.73 L526.72,643.63 L527.82,643.44 L528.94,643.18 L530.04,642.86 L531.11,642.53 L532.10,642.20 L532.98,641.90 L533.72,641.66 L534.30,641.50 L534.30,665.50 L533.72,665.15 L532.98,664.70 L532.10,664.17 L531.11,663.57 L530.04,662.93 L528.94,662.26 L527.82,661.58 L526.72,660.91 L525.67,660.28 L524.70,659.70 L523.78,659.14 L522.84,658.55 L521.91,657.95 L520.98,657.36 L520.06,656.78 L519.17,656.22 L518.31,655.70 L517.49,655.24 L516.72,654.83 L516.00,654.50 L515.35,654.25 L514.76,654.06 L514.21,653.93 L513.71,653.85 L513.24,653.81 L512.79,653.80 L512.35,653.81 L511.91,653.84 L511.46,653.87 L511.00,653.90 L510.54,653.92 L510.09,653.95 L509.66,653.98 L509.24,654.03 L508.82,654.10 L508.39,654.20 L507.95,654.33 L507.49,654.50 L507.01,654.72 L506.50,655.00 L505.96,655.34 L505.40,655.74 L504.82,656.19 L504.22,656.69 L503.61,657.21 L502.98,657.76 L502.35,658.33 L501.70,658.89 L501.05,659.45 L500.40,660.00 L499.76,660.55 L499.14,661.14 L498.53,661.74 L497.91,662.36 L497.27,662.98 L496.61,663.58 L495.90,664.17 L495.14,664.72 L494.31,665.24 L493.40,665.70 L492.38,666.11 L491.25,666.47 L490.04,666.80 L488.76,667.10 L487.46,667.38 L486.14,667.64 L484.84,667.89 L483.58,668.15 L482.40,668.42 L481.30,668.70 L480.29,668.99 L479.34,669.28 L478.44,669.57 L477.58,669.85 L476.74,670.14 L475.92,670.42 L475.10,670.71 L474.29,671.00 L473.45,671.30 L472.60,671.60 L471.72,671.91 L470.83,672.22 L469.94,672.54 L469.04,672.86 L468.14,673.19 L467.26,673.51 L466.39,673.84 L465.53,674.16 L464.70,674.48 L463.90,674.80 L463.13,675.13 L462.39,675.47 L461.67,675.83 L460.97,676.18 L460.29,676.53 L459.61,676.87 L458.94,677.18 L458.27,677.46 L457.59,677.70 L456.90,677.90 L456.21,678.06 L455.52,678.19 L454.83,678.29 L454.14,678.36 L453.45,678.41 L452.76,678.42 L452.07,678.41 L451.38,678.37 L450.69,678.30 L450.00,678.20 L449.30,678.08 L448.60,677.95 L447.90,677.80 L447.20,677.62 L446.49,677.41 L445.79,677.15 L445.09,676.85 L444.39,676.50 L443.69,676.08 L443.00,675.60 L442.31,675.03 L441.63,674.39 L440.95,673.67 L440.28,672.90 L439.60,672.08 L438.92,671.23 L438.25,670.37 L437.57,669.50 L436.89,668.64 L436.20,667.80 L435.50,666.96 L434.78,666.10 L434.06,665.21 L433.33,664.32 L432.60,663.42 L431.88,662.52 L431.17,661.64 L430.49,660.76 L429.83,659.92 L429.20,659.10 L428.61,658.31 L428.04,657.54 L427.51,656.78 L426.99,656.04 L426.49,655.31 L425.99,654.60 L425.50,653.89 L425.01,653.19 L424.51,652.49 L424.00,651.80 L423.48,651.11 L422.96,650.43 L422.44,649.75 L421.92,649.08 L421.40,648.41 L420.88,647.76 L420.36,647.12 L419.84,646.50 L419.32,645.89 L418.80,645.30 L418.28,644.73 L417.76,644.16 L417.24,643.61 L416.72,643.08 L416.21,642.56 L415.69,642.05 L415.17,641.56 L414.65,641.09 L414.12,640.63 L413.60,640.20 L413.09,639.79 L412.60,639.41 L412.12,639.06 L411.65,638.72 L411.16,638.40 L410.66,638.09 L410.14,637.77 L409.57,637.46 L408.96,637.14 L408.30,636.80 L407.57,636.47 L406.77,636.16 L405.91,635.87 L405.02,635.58 L404.11,635.27 L403.18,634.96 L402.27,634.61 L401.37,634.23 L400.51,633.79 L399.70,633.30 L398.94,632.75 L398.20,632.15 L397.48,631.51 L396.78,630.83 L396.10,630.12 L395.42,629.39 L394.75,628.64 L394.07,627.86 L393.39,627.08 L392.70,626.30 L392.00,625.50 L391.30,624.68 L390.60,623.85 L389.90,622.99 L389.19,622.12 L388.49,621.23 L387.79,620.34 L387.09,619.43 L386.40,618.52 L385.70,617.60 L385.00,616.68 L384.30,615.75 L383.60,614.82 L382.89,613.87 L382.19,612.92 L381.50,611.95 L380.81,610.97 L380.13,609.96 L379.46,608.94 L378.80,607.90 L378.14,606.85 L377.46,605.81 L376.77,604.76 L376.09,603.69 L375.42,602.61 L374.78,601.49 L374.18,600.33 L373.63,599.11 L373.13,597.84 L372.70,596.50 L372.36,595.08 L372.11,593.57 L371.92,592.01 L371.79,590.38 L371.69,588.73 L371.60,587.04 L371.50,585.34 L371.38,583.64 L371.22,581.96 L371.00,580.30 L370.72,578.65 L370.42,576.98 L370.08,575.29 L369.73,573.60 L369.36,571.91 L368.99,570.22 L368.61,568.55 L368.23,566.90 L367.86,565.28 L367.50,563.70 L367.15,562.11 L366.79,560.48 L366.44,558.83 L366.08,557.20 L365.73,555.60 L365.37,554.06 L365.02,552.61 L364.67,551.26 L364.33,550.05 L364.00,549.00 L363.67,548.10 L363.35,547.32 L363.04,546.65 L362.73,546.09 L362.42,545.62 L362.11,545.24 L361.81,544.94 L361.51,544.70 L361.20,544.53 L360.90,544.40 L360.60,544.33 L360.30,544.32 L360.01,544.39 L359.72,544.52 L359.42,544.73 L359.13,545.01 L358.83,545.37 L358.53,545.80 L358.22,546.31 L357.90,546.90 L357.56,547.59 L357.21,548.37 L356.84,549.25 L356.47,550.21 L356.09,551.24 L355.72,552.32 L355.36,553.45 L355.02,554.62 L354.70,555.80 L354.40,557.00 L354.12,558.30 L353.86,559.76 L353.60,561.33 L353.36,562.95 L353.13,564.58 L352.92,566.16 L352.73,567.63 L352.56,568.95 L352.42,570.06 L352.30,570.90 Z" fill="#698441" fill-opacity="0.4"/><path d="M352.30,585.20 L352.53,584.62 L352.82,583.84 L353.16,582.91 L353.54,581.87 L353.96,580.76 L354.40,579.65 L354.85,578.56 L355.31,577.56 L355.76,576.69 L356.20,576.00 L356.64,575.45 L357.09,574.97 L357.55,574.57 L358.02,574.24 L358.49,573.96 L358.97,573.75 L359.46,573.59 L359.94,573.48 L360.42,573.42 L360.90,573.40 L361.38,573.42 L361.86,573.48 L362.35,573.58 L362.83,573.73 L363.32,573.94 L363.80,574.21 L364.29,574.54 L364.76,574.95 L365.24,575.43 L365.70,576.00 L366.16,576.69 L366.63,577.51 L367.11,578.43 L367.58,579.44 L368.04,580.49 L368.49,581.58 L368.92,582.65 L369.34,583.70 L369.73,584.69 L370.10,585.60 L370.44,586.40 L370.75,587.13 L371.04,587.79 L371.31,588.42 L371.57,589.06 L371.81,589.71 L372.04,590.42 L372.27,591.20 L372.48,592.08 L372.70,593.10 L372.90,594.22 L373.07,595.39 L373.22,596.63 L373.36,597.93 L373.49,599.31 L373.63,600.76 L373.79,602.29 L373.96,603.90 L374.16,605.60 L374.40,607.40 L374.68,609.32 L374.98,611.39 L375.32,613.57 L375.67,615.84 L376.04,618.18 L376.41,620.56 L376.79,622.96 L377.17,625.35 L377.54,627.70 L377.90,630.00 L378.25,632.30 L378.59,634.66 L378.92,637.05 L379.26,639.46 L379.60,641.84 L379.94,644.19 L380.29,646.46 L380.65,648.64 L381.02,650.69 L381.40,652.60 L381.79,654.37 L382.18,656.05 L382.57,657.63 L382.98,659.12 L383.39,660.53 L383.81,661.85 L384.25,663.11 L384.71,664.30 L385.19,665.43 L385.70,666.50 L386.24,667.51 L386.80,668.47 L387.40,669.36 L388.01,670.18 L388.64,670.93 L389.27,671.60 L389.91,672.20 L390.55,672.72 L391.18,673.15 L391.80,673.50 L392.41,673.75 L393.01,673.88 L393.60,673.92 L394.20,673.87 L394.79,673.76 L395.40,673.58 L396.00,673.37 L396.62,673.12 L397.25,672.86 L397.90,672.60 L398.56,672.33 L399.24,672.03 L399.94,671.70 L400.64,671.34 L401.35,670.94 L402.06,670.50 L402.78,670.02 L403.49,669.50 L404.20,668.92 L404.90,668.30 L405.59,667.61 L406.28,666.86 L406.97,666.04 L407.66,665.18 L408.35,664.28 L409.04,663.36 L409.73,662.41 L410.42,661.47 L411.11,660.53 L411.80,659.60 L412.50,658.65 L413.20,657.65 L413.90,656.62 L414.60,655.57 L415.30,654.53 L416.00,653.50 L416.70,652.52 L417.40,651.60 L418.10,650.75 L418.80,650.00 L419.50,649.35 L420.21,648.78 L420.93,648.27 L421.64,647.82 L422.36,647.42 L423.06,647.05 L423.75,646.71 L424.42,646.37 L425.08,646.04 L425.70,645.70 L426.29,645.38 L426.84,645.12 L427.36,644.90 L427.86,644.71 L428.35,644.51 L428.84,644.31 L429.34,644.07 L429.86,643.78 L430.41,643.43 L431.00,643.00 L431.63,642.48 L432.31,641.90 L433.01,641.27 L433.73,640.59 L434.46,639.87 L435.19,639.13 L435.91,638.37 L436.61,637.60 L437.28,636.85 L437.90,636.10 L438.48,635.36 L439.03,634.60 L439.56,633.83 L440.06,633.05 L440.56,632.26 L441.04,631.47 L441.52,630.68 L442.00,629.88 L442.49,629.09 L443.00,628.30 L443.51,627.53 L444.02,626.77 L444.52,626.02 L445.03,625.27 L445.54,624.51 L446.05,623.74 L446.57,622.96 L447.10,622.14 L447.64,621.29 L448.20,620.40 L448.79,619.46 L449.40,618.47 L450.05,617.44 L450.70,616.38 L451.36,615.31 L452.00,614.22 L452.63,613.14 L453.23,612.07 L453.79,611.02 L454.30,610.00 L454.76,609.01 L455.17,608.04 L455.54,607.09 L455.89,606.14 L456.21,605.20 L456.52,604.26 L456.83,603.31 L457.14,602.36 L457.46,601.39 L457.80,600.40 L458.15,599.39 L458.50,598.37 L458.85,597.34 L459.20,596.30 L459.56,595.26 L459.91,594.21 L460.26,593.15 L460.61,592.10 L460.95,591.05 L461.30,590.00 L461.64,588.96 L461.97,587.92 L462.30,586.88 L462.62,585.85 L462.94,584.81 L463.27,583.76 L463.61,582.71 L463.96,581.65 L464.32,580.58 L464.70,579.50 L465.10,578.38 L465.50,577.21 L465.92,576.00 L466.35,574.79 L466.79,573.57 L467.23,572.38 L467.69,571.23 L468.15,570.14 L468.62,569.12 L469.10,568.20 L469.58,567.36 L470.06,566.59 L470.54,565.88 L471.04,565.22 L471.54,564.61 L472.05,564.04 L472.58,563.51 L473.13,563.01 L473.70,562.54 L474.30,562.10 L474.93,561.69 L475.59,561.33 L476.27,561.01 L476.98,560.72 L477.69,560.47 L478.42,560.24 L479.15,560.04 L479.88,559.85 L480.60,559.67 L481.30,559.50 L481.99,559.37 L482.69,559.29 L483.38,559.25 L484.07,559.24 L484.76,559.24 L485.45,559.22 L486.14,559.18 L486.83,559.09 L487.51,558.93 L488.20,558.70 L488.90,558.38 L489.61,557.99 L490.33,557.55 L491.05,557.06 L491.77,556.54 L492.47,556.00 L493.15,555.45 L493.81,554.91 L494.43,554.39 L495.00,553.90 L495.53,553.44 L496.01,552.99 L496.47,552.54 L496.89,552.10 L497.29,551.66 L497.68,551.22 L498.06,550.76 L498.43,550.29 L498.81,549.81 L499.20,549.30 L499.59,548.79 L499.98,548.30 L500.37,547.81 L500.75,547.31 L501.12,546.79 L501.49,546.24 L501.86,545.65 L502.21,545.01 L502.56,544.29 L502.90,543.50 L503.23,542.61 L503.54,541.61 L503.84,540.53 L504.14,539.39 L504.43,538.21 L504.71,537.02 L505.00,535.85 L505.29,534.70 L505.59,533.61 L505.90,532.60 L506.22,531.64 L506.53,530.70 L506.85,529.78 L507.17,528.88 L507.50,528.01 L507.83,527.17 L508.16,526.36 L508.50,525.60 L508.85,524.87 L509.20,524.20 L509.56,523.56 L509.92,522.95 L510.28,522.38 L510.65,521.84 L511.02,521.34 L511.40,520.88 L511.79,520.48 L512.18,520.13 L512.59,519.83 L513.00,519.60 L513.43,519.44 L513.86,519.37 L514.31,519.36 L514.76,519.40 L515.23,519.49 L515.69,519.62 L516.17,519.76 L516.64,519.91 L517.12,520.06 L517.60,520.20 L518.08,520.32 L518.56,520.44 L519.05,520.56 L519.53,520.69 L520.02,520.84 L520.52,521.02 L521.03,521.22 L521.54,521.47 L522.07,521.76 L522.60,522.10 L523.16,522.49 L523.75,522.92 L524.36,523.40 L524.98,523.91 L525.60,524.45 L526.21,525.03 L526.81,525.63 L527.38,526.26 L527.91,526.92 L528.40,527.60 L528.84,528.30 L529.24,529.01 L529.60,529.75 L529.94,530.51 L530.26,531.31 L530.56,532.14 L530.86,533.01 L531.16,533.92 L531.47,534.88 L531.80,535.90 L532.15,537.04 L532.52,538.35 L532.90,539.76 L533.29,541.24 L533.66,542.72 L534.02,544.16 L534.36,545.51 L534.65,546.72 L534.90,547.73 L535.10,548.50" stroke="#2f358c" stroke-width="1.9" fill="none" stroke-linejoin="round" stroke-linecap="round"/><path d="M352.30,563.90 L352.42,563.05 L352.56,561.94 L352.73,560.62 L352.92,559.13 L353.13,557.55 L353.36,555.92 L353.60,554.29 L353.86,552.73 L354.12,551.28 L354.40,550.00 L354.70,548.83 L355.02,547.69 L355.36,546.58 L355.72,545.51 L356.09,544.49 L356.47,543.53 L356.84,542.63 L357.21,541.80 L357.56,541.06 L357.90,540.40 L358.22,539.82 L358.53,539.31 L358.83,538.86 L359.13,538.48 L359.42,538.17 L359.72,537.94 L360.01,537.79 L360.30,537.71 L360.60,537.71 L360.90,537.80 L361.20,537.96 L361.51,538.17 L361.81,538.46 L362.11,538.81 L362.42,539.26 L362.73,539.79 L363.04,540.42 L363.35,541.16 L363.67,542.02 L364.00,543.00 L364.33,544.15 L364.67,545.47 L365.02,546.94 L365.37,548.53 L365.73,550.20 L366.08,551.92 L366.44,553.67 L366.79,555.40 L367.15,557.09 L367.50,558.70 L367.86,560.26 L368.23,561.82 L368.61,563.38 L368.99,564.94 L369.36,566.50 L369.73,568.06 L370.08,569.62 L370.42,571.18 L370.72,572.74 L371.00,574.30 L371.22,575.89 L371.38,577.52 L371.50,579.17 L371.60,580.83 L371.69,582.48 L371.79,584.10 L371.92,585.68 L372.11,587.20 L372.36,588.64 L372.70,590.00 L373.13,591.26 L373.63,592.45 L374.18,593.56 L374.78,594.62 L375.42,595.64 L376.09,596.62 L376.77,597.57 L377.46,598.51 L378.14,599.45 L378.80,600.40 L379.46,601.34 L380.13,602.25 L380.81,603.13 L381.50,604.00 L382.19,604.86 L382.89,605.70 L383.60,606.54 L384.30,607.39 L385.00,608.24 L385.70,609.10 L386.40,609.98 L387.09,610.87 L387.79,611.76 L388.49,612.66 L389.19,613.56 L389.90,614.44 L390.60,615.31 L391.30,616.17 L392.00,617.00 L392.70,617.80 L393.39,618.58 L394.07,619.36 L394.75,620.14 L395.42,620.89 L396.10,621.62 L396.78,622.33 L397.48,623.01 L398.20,623.65 L398.94,624.25 L399.70,624.80 L400.51,625.29 L401.37,625.73 L402.27,626.11 L403.18,626.46 L404.11,626.77 L405.02,627.08 L405.91,627.37 L406.77,627.66 L407.57,627.97 L408.30,628.30 L408.96,628.63 L409.57,628.94 L410.14,629.24 L410.66,629.54 L411.16,629.84 L411.65,630.15 L412.12,630.48 L412.60,630.85 L413.09,631.25 L413.60,631.70 L414.12,632.20 L414.65,632.73 L415.17,633.30 L415.69,633.90 L416.21,634.53 L416.72,635.17 L417.24,635.82 L417.76,636.48 L418.28,637.14 L418.80,637.80 L419.32,638.46 L419.84,639.13 L420.36,639.81 L420.88,640.50 L421.40,641.19 L421.92,641.90 L422.44,642.61 L422.96,643.33 L423.48,644.06 L424.00,644.80 L424.51,645.54 L425.01,646.29 L425.50,647.05 L425.99,647.82 L426.49,648.59 L426.99,649.38 L427.51,650.17 L428.04,650.97 L428.61,651.78 L429.20,652.60 L429.83,653.44 L430.49,654.30 L431.17,655.17 L431.88,656.06 L432.60,656.95 L433.33,657.84 L434.06,658.73 L434.78,659.60 L435.50,660.46 L436.20,661.30 L436.89,662.14 L437.57,663.00 L438.25,663.87 L438.92,664.73 L439.60,665.58 L440.28,666.40 L440.95,667.17 L441.63,667.89 L442.31,668.53 L443.00,669.10 L443.69,669.58 L444.39,670.00 L445.09,670.35 L445.79,670.65 L446.49,670.91 L447.20,671.12 L447.90,671.30 L448.60,671.45 L449.30,671.58 L450.00,671.70 L450.69,671.80 L451.38,671.87 L452.07,671.91 L452.76,671.92 L453.45,671.91 L454.14,671.86 L454.83,671.79 L455.52,671.69 L456.21,671.56 L456.90,671.40 L457.59,671.20 L458.27,670.96 L458.94,670.68 L459.61,670.37 L460.29,670.03 L460.97,669.68 L461.67,669.33 L462.39,668.97 L463.13,668.63 L463.90,668.30 L464.70,667.98 L465.53,667.66 L466.39,667.34 L467.26,667.01 L468.14,666.69 L469.04,666.36 L469.94,666.04 L470.83,665.72 L471.72,665.41 L472.60,665.10 L473.45,664.80 L474.29,664.50 L475.10,664.21 L475.92,663.92 L476.74,663.64 L477.58,663.35 L478.44,663.07 L479.34,662.78 L480.29,662.49 L481.30,662.20 L482.40,661.92 L483.58,661.65 L484.84,661.39 L486.14,661.14 L487.46,660.88 L488.76,660.60 L490.04,660.30 L491.25,659.97 L492.38,659.61 L493.40,659.20 L494.31,658.74 L495.14,658.23 L495.90,657.68 L496.61,657.10 L497.27,656.51 L497.91,655.90 L498.53,655.28 L499.14,654.67 L499.76,654.07 L500.40,653.50 L501.05,652.92 L501.70,652.32 L502.35,651.71 L502.98,651.10 L503.61,650.49 L504.22,649.91 L504.82,649.36 L505.40,648.85 L505.96,648.39 L506.50,648.00 L507.01,647.67 L507.49,647.40 L507.95,647.16 L508.39,646.97 L508.82,646.82 L509.24,646.69 L509.66,646.60 L510.09,646.52 L510.54,646.45 L511.00,646.40 L511.46,646.35 L511.91,646.31 L512.35,646.29 L512.79,646.28 L513.24,646.31 L513.71,646.36 L514.21,646.45 L514.76,646.58 L515.35,646.76 L516.00,647.00 L516.72,647.32 L517.49,647.72 L518.31,648.20 L519.17,648.72 L520.06,649.28 L520.98,649.83 L521.91,650.37 L522.84,650.88 L523.78,651.33 L524.70,651.70 L525.67,652.01 L526.72,652.27 L527.82,652.51 L528.94,652.72 L530.04,652.89 L531.11,653.05 L532.10,653.18 L532.98,653.30 L533.72,653.41 L534.30,653.50" stroke="#2b7036" stroke-width="1.8" fill="none" stroke-linejoin="round" stroke-linecap="round"/></g><rect x="344.5" y="506.0" width="199.0" height="172.89999999999998" fill="none" stroke="#2a2a2a" stroke-width="1.5"/><path d="M352.5,678.9 V683.1 M378.5,678.9 V683.1 M404.5,678.9 V683.1 M430.5,678.9 V683.1 M456.5,678.9 V683.1 M482.5,678.9 V683.1 M509.5,678.9 V683.1 M535.5,678.9 V683.1 M344.5,517.5 H340.5 M344.5,558.5 H340.5 M344.5,599.5 H340.5 M344.5,639.5 H340.5 M543.5,546.5 H547.5 M543.5,596.5 H547.5 M543.5,646.5 H547.5" stroke="#3a3a3a" stroke-width="1" fill="none"/><text x="352.4" y="693.6" font-size="8.5" text-anchor="middle">0</text><text x="378.5" y="693.6" font-size="8.5" text-anchor="middle">1</text><text x="404.6" y="693.6" font-size="8.5" text-anchor="middle">2</text><text x="430.7" y="693.6" font-size="8.5" text-anchor="middle">3</text><text x="456.8" y="693.6" font-size="8.5" text-anchor="middle">4</text><text x="482.9" y="693.6" font-size="8.5" text-anchor="middle">5</text><text x="509.0" y="693.6" font-size="8.5" text-anchor="middle">6</text><text x="535.1" y="693.6" font-size="8.5" text-anchor="middle">7</text><text transform="translate(335.7,517.8) rotate(-90)" font-size="8.5" text-anchor="middle">450</text><text transform="translate(335.7,558.5) rotate(-90)" font-size="8.5" text-anchor="middle">400</text><text transform="translate(335.7,599.3) rotate(-90)" font-size="8.5" text-anchor="middle">350</text><text transform="translate(335.7,640.0) rotate(-90)" font-size="8.5" text-anchor="middle">300</text><text transform="translate(555.3,546.2) rotate(-90)" font-size="8.5" text-anchor="middle">10.0</text><text transform="translate(555.3,596.1) rotate(-90)" font-size="8.5" text-anchor="middle">9.5</text><text transform="translate(555.3,646.0) rotate(-90)" font-size="8.5" text-anchor="middle">9.0</text><text x="441.9" y="709.5" font-size="9.3" text-anchor="middle" textLength="113.8" lengthAdjust="spacingAndGlyphs">(f) Total disruption (days)</text><text transform="translate(323.1,588.5) rotate(-90)" font-size="9.3" text-anchor="middle" textLength="46" lengthAdjust="spacingAndGlyphs">Barge rate</text><text transform="translate(567.8,588.5) rotate(-90)" font-size="9.3" text-anchor="middle" textLength="82" lengthAdjust="spacingAndGlyphs">Barge productivity</text></svg>
</body></html>
